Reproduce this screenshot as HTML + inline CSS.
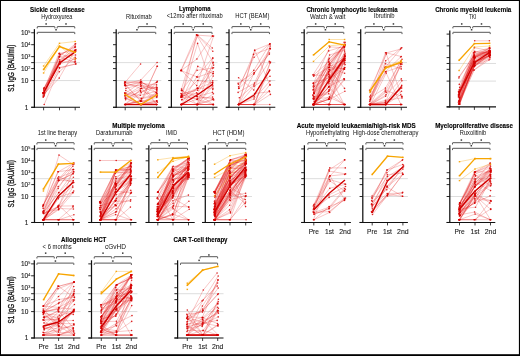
<!DOCTYPE html>
<html><head><meta charset="utf-8"><style>
html,body{margin:0;padding:0;background:#fff;}
body{width:520px;height:356px;overflow:hidden;font-family:"Liberation Sans",sans-serif;}
svg{display:block;will-change:transform;}
</style></head><body>
<svg width="520" height="356" viewBox="0 0 520 356" font-family="Liberation Sans, sans-serif">
<rect x="0" y="0" width="520" height="356" fill="#fff"/>
<line x1="34.40" y1="62.62" x2="80.00" y2="62.62" stroke="#d9d9d9" stroke-width="0.9"/>
<line x1="34.40" y1="80.55" x2="80.00" y2="80.55" stroke="#d9d9d9" stroke-width="0.9"/>
<path d="M43.2,97.2 L59.3,56.8 L74.5,62.0" fill="none" stroke="rgba(228,25,25,0.45)" stroke-width="0.55"/>
<path d="M43.3,96.5 L59.3,67.5 L75.5,64.0" fill="none" stroke="rgba(228,25,25,0.45)" stroke-width="0.55"/>
<path d="M43.1,95.1 L59.2,78.1 L75.1,50.2" fill="none" stroke="rgba(228,25,25,0.45)" stroke-width="0.55"/>
<path d="M44.2,104.5 L59.6,68.1 L75.9,63.9" fill="none" stroke="rgba(228,25,25,0.45)" stroke-width="0.55"/>
<path d="M44.2,96.0 L59.7,56.6 L75.5,55.0" fill="none" stroke="rgba(228,25,25,0.45)" stroke-width="0.55"/>
<path d="M43.7,93.4 L59.6,53.3 L75.2,60.0" fill="none" stroke="rgba(228,25,25,0.45)" stroke-width="0.55"/>
<path d="M44.3,92.6 L59.6,62.0 L75.4,61.9" fill="none" stroke="rgba(228,25,25,0.45)" stroke-width="0.55"/>
<path d="M44.2,94.9 L59.3,71.8 L75.2,57.2" fill="none" stroke="rgba(228,25,25,0.45)" stroke-width="0.55"/>
<path d="M43.5,93.3 L59.3,63.9 L75.6,50.5" fill="none" stroke="rgba(228,25,25,0.45)" stroke-width="0.55"/>
<path d="M43.2,92.7 L60.1,63.9 L75.8,58.5" fill="none" stroke="rgba(228,25,25,0.45)" stroke-width="0.55"/>
<path d="M43.0,92.9 L59.7,63.8 L74.7,50.2" fill="none" stroke="rgba(228,25,25,0.45)" stroke-width="0.55"/>
<path d="M43.7,90.7 L58.9,53.5 L75.5,50.4" fill="none" stroke="rgba(228,25,25,0.45)" stroke-width="0.55"/>
<path d="M43.2,92.7 L59.7,59.8 L75.9,49.5" fill="none" stroke="rgba(228,25,25,0.45)" stroke-width="0.55"/>
<path d="M43.8,89.3 L59.5,61.7 L75.7,51.5" fill="none" stroke="rgba(228,25,25,0.45)" stroke-width="0.55"/>
<path d="M42.9,93.2 L59.8,63.7 L74.9,51.3" fill="none" stroke="rgba(228,25,25,0.45)" stroke-width="0.55"/>
<path d="M43.7,92.9 L59.9,54.8 L75.2,46.1" fill="none" stroke="rgba(228,25,25,0.45)" stroke-width="0.55"/>
<path d="M44.1,88.0 L59.7,61.3 L75.6,43.7" fill="none" stroke="rgba(228,25,25,0.45)" stroke-width="0.55"/>
<path d="M43.7,88.7 L59.8,61.8 L75.4,47.1" fill="none" stroke="rgba(228,25,25,0.45)" stroke-width="0.55"/>
<path d="M44.2,87.8 L59.1,56.9 L75.1,44.1" fill="none" stroke="rgba(228,25,25,0.45)" stroke-width="0.55"/>
<path d="M43.9,93.4 L60.1,54.8 L74.7,47.3" fill="none" stroke="rgba(228,25,25,0.45)" stroke-width="0.55"/>
<path d="M43.60,66.00 L59.50,43.30 L75.20,41.50" fill="none" stroke="rgba(250,170,20,0.6)" stroke-width="0.6"/>
<path d="M43.60,73.00 L59.50,46.00 L75.20,59.00" fill="none" stroke="rgba(250,170,20,0.6)" stroke-width="0.6"/>
<circle cx="43.2" cy="97.2" r="0.8" fill="rgba(214,0,0,0.85)"/>
<circle cx="59.3" cy="56.8" r="0.8" fill="rgba(214,0,0,0.85)"/>
<circle cx="74.5" cy="62.0" r="0.8" fill="rgba(214,0,0,0.85)"/>
<circle cx="43.3" cy="96.5" r="0.8" fill="rgba(214,0,0,0.85)"/>
<circle cx="59.3" cy="67.5" r="0.8" fill="rgba(214,0,0,0.85)"/>
<circle cx="75.5" cy="64.0" r="0.8" fill="rgba(214,0,0,0.85)"/>
<circle cx="43.1" cy="95.1" r="0.8" fill="rgba(214,0,0,0.85)"/>
<circle cx="59.2" cy="78.1" r="0.8" fill="rgba(214,0,0,0.85)"/>
<circle cx="75.1" cy="50.2" r="0.8" fill="rgba(214,0,0,0.85)"/>
<circle cx="44.2" cy="104.5" r="0.8" fill="rgba(214,0,0,0.85)"/>
<circle cx="59.6" cy="68.1" r="0.8" fill="rgba(214,0,0,0.85)"/>
<circle cx="75.9" cy="63.9" r="0.8" fill="rgba(214,0,0,0.85)"/>
<circle cx="44.2" cy="96.0" r="0.8" fill="rgba(214,0,0,0.85)"/>
<circle cx="59.7" cy="56.6" r="0.8" fill="rgba(214,0,0,0.85)"/>
<circle cx="75.5" cy="55.0" r="0.8" fill="rgba(214,0,0,0.85)"/>
<circle cx="43.7" cy="93.4" r="0.8" fill="rgba(214,0,0,0.85)"/>
<circle cx="59.6" cy="53.3" r="0.8" fill="rgba(214,0,0,0.85)"/>
<circle cx="75.2" cy="60.0" r="0.8" fill="rgba(214,0,0,0.85)"/>
<circle cx="44.3" cy="92.6" r="0.8" fill="rgba(214,0,0,0.85)"/>
<circle cx="59.6" cy="62.0" r="0.8" fill="rgba(214,0,0,0.85)"/>
<circle cx="75.4" cy="61.9" r="0.8" fill="rgba(214,0,0,0.85)"/>
<circle cx="44.2" cy="94.9" r="0.8" fill="rgba(214,0,0,0.85)"/>
<circle cx="59.3" cy="71.8" r="0.8" fill="rgba(214,0,0,0.85)"/>
<circle cx="75.2" cy="57.2" r="0.8" fill="rgba(214,0,0,0.85)"/>
<circle cx="43.5" cy="93.3" r="0.8" fill="rgba(214,0,0,0.85)"/>
<circle cx="59.3" cy="63.9" r="0.8" fill="rgba(214,0,0,0.85)"/>
<circle cx="75.6" cy="50.5" r="0.8" fill="rgba(214,0,0,0.85)"/>
<circle cx="43.2" cy="92.7" r="0.8" fill="rgba(214,0,0,0.85)"/>
<circle cx="60.1" cy="63.9" r="0.8" fill="rgba(214,0,0,0.85)"/>
<circle cx="75.8" cy="58.5" r="0.8" fill="rgba(214,0,0,0.85)"/>
<circle cx="43.0" cy="92.9" r="0.8" fill="rgba(214,0,0,0.85)"/>
<circle cx="59.7" cy="63.8" r="0.8" fill="rgba(214,0,0,0.85)"/>
<circle cx="74.7" cy="50.2" r="0.8" fill="rgba(214,0,0,0.85)"/>
<circle cx="43.7" cy="90.7" r="0.8" fill="rgba(214,0,0,0.85)"/>
<circle cx="58.9" cy="53.5" r="0.8" fill="rgba(214,0,0,0.85)"/>
<circle cx="75.5" cy="50.4" r="0.8" fill="rgba(214,0,0,0.85)"/>
<circle cx="43.2" cy="92.7" r="0.8" fill="rgba(214,0,0,0.85)"/>
<circle cx="59.7" cy="59.8" r="0.8" fill="rgba(214,0,0,0.85)"/>
<circle cx="75.9" cy="49.5" r="0.8" fill="rgba(214,0,0,0.85)"/>
<circle cx="43.8" cy="89.3" r="0.8" fill="rgba(214,0,0,0.85)"/>
<circle cx="59.5" cy="61.7" r="0.8" fill="rgba(214,0,0,0.85)"/>
<circle cx="75.7" cy="51.5" r="0.8" fill="rgba(214,0,0,0.85)"/>
<circle cx="42.9" cy="93.2" r="0.8" fill="rgba(214,0,0,0.85)"/>
<circle cx="59.8" cy="63.7" r="0.8" fill="rgba(214,0,0,0.85)"/>
<circle cx="74.9" cy="51.3" r="0.8" fill="rgba(214,0,0,0.85)"/>
<circle cx="43.7" cy="92.9" r="0.8" fill="rgba(214,0,0,0.85)"/>
<circle cx="59.9" cy="54.8" r="0.8" fill="rgba(214,0,0,0.85)"/>
<circle cx="75.2" cy="46.1" r="0.8" fill="rgba(214,0,0,0.85)"/>
<circle cx="44.1" cy="88.0" r="0.8" fill="rgba(214,0,0,0.85)"/>
<circle cx="59.7" cy="61.3" r="0.8" fill="rgba(214,0,0,0.85)"/>
<circle cx="75.6" cy="43.7" r="0.8" fill="rgba(214,0,0,0.85)"/>
<circle cx="43.7" cy="88.7" r="0.8" fill="rgba(214,0,0,0.85)"/>
<circle cx="59.8" cy="61.8" r="0.8" fill="rgba(214,0,0,0.85)"/>
<circle cx="75.4" cy="47.1" r="0.8" fill="rgba(214,0,0,0.85)"/>
<circle cx="44.2" cy="87.8" r="0.8" fill="rgba(214,0,0,0.85)"/>
<circle cx="59.1" cy="56.9" r="0.8" fill="rgba(214,0,0,0.85)"/>
<circle cx="75.1" cy="44.1" r="0.8" fill="rgba(214,0,0,0.85)"/>
<circle cx="43.9" cy="93.4" r="0.8" fill="rgba(214,0,0,0.85)"/>
<circle cx="60.1" cy="54.8" r="0.8" fill="rgba(214,0,0,0.85)"/>
<circle cx="74.7" cy="47.3" r="0.8" fill="rgba(214,0,0,0.85)"/>
<rect x="42.85" y="65.30" width="1.5" height="1.4" fill="rgba(245,160,0,0.9)"/>
<rect x="58.75" y="42.60" width="1.5" height="1.4" fill="rgba(245,160,0,0.9)"/>
<rect x="74.45" y="40.80" width="1.5" height="1.4" fill="rgba(245,160,0,0.9)"/>
<rect x="42.85" y="72.30" width="1.5" height="1.4" fill="rgba(245,160,0,0.9)"/>
<rect x="58.75" y="45.30" width="1.5" height="1.4" fill="rgba(245,160,0,0.9)"/>
<rect x="74.45" y="58.30" width="1.5" height="1.4" fill="rgba(245,160,0,0.9)"/>
<path d="M43.60,93.00 L59.50,63.00 L75.20,52.00" fill="none" stroke="#d20000" stroke-width="1.35" stroke-linejoin="round"/>
<path d="M43.60,69.50 L59.50,46.50 L75.20,52.30" fill="none" stroke="#f7a500" stroke-width="1.35" stroke-linejoin="round"/>
<rect x="42.80" y="68.75" width="1.6" height="1.5" fill="#f5a000"/>
<rect x="58.70" y="45.75" width="1.6" height="1.5" fill="#f5a000"/>
<rect x="74.40" y="51.55" width="1.6" height="1.5" fill="#f5a000"/>
<line x1="34.40" y1="29.15" x2="34.40" y2="107.90" stroke="#111" stroke-width="1.25"/>
<line x1="31.20" y1="32.75" x2="34.40" y2="32.75" stroke="#111" stroke-width="0.9"/>
<line x1="31.20" y1="44.70" x2="34.40" y2="44.70" stroke="#111" stroke-width="0.9"/>
<line x1="31.20" y1="56.65" x2="34.40" y2="56.65" stroke="#111" stroke-width="0.9"/>
<line x1="31.20" y1="62.62" x2="34.40" y2="62.62" stroke="#111" stroke-width="0.9"/>
<line x1="31.20" y1="68.60" x2="34.40" y2="68.60" stroke="#111" stroke-width="0.9"/>
<line x1="31.20" y1="80.55" x2="34.40" y2="80.55" stroke="#111" stroke-width="0.9"/>
<line x1="31.20" y1="107.30" x2="34.40" y2="107.30" stroke="#111" stroke-width="0.9"/>
<line x1="31.20" y1="107.30" x2="80.00" y2="107.30" stroke="#111" stroke-width="1.1"/>
<line x1="43.60" y1="107.30" x2="43.60" y2="110.30" stroke="#111" stroke-width="0.8"/>
<line x1="59.50" y1="107.30" x2="59.50" y2="110.30" stroke="#111" stroke-width="0.8"/>
<line x1="75.20" y1="107.30" x2="75.20" y2="110.30" stroke="#111" stroke-width="0.8"/>
<path d="M37.25,28.40 V27.00 Q37.25,26.60 37.65,26.60 H54.50 Q54.90,26.60 54.90,27.00 V28.40" fill="none" stroke="#383838" stroke-width="0.85"/>
<path d="M57.15,28.40 V27.00 Q57.15,26.60 57.55,26.60 H74.35 Q74.75,26.60 74.75,27.00 V28.40" fill="none" stroke="#383838" stroke-width="0.85"/>
<rect x="45.38" y="23.20" width="1.5" height="1.5" fill="#3a3a3a"/>
<rect x="65.25" y="23.20" width="1.5" height="1.5" fill="#3a3a3a"/>
<path d="M37.25,34.10 V32.70 Q37.25,32.30 37.65,32.30 H74.35 Q74.75,32.30 74.75,32.70 V34.10" fill="none" stroke="#383838" stroke-width="0.85"/>
<rect x="55.30" y="29.00" width="1.5" height="1.5" fill="#3a3a3a"/>
<line x1="116.20" y1="62.62" x2="161.30" y2="62.62" stroke="#d9d9d9" stroke-width="0.9"/>
<line x1="116.20" y1="80.55" x2="161.30" y2="80.55" stroke="#d9d9d9" stroke-width="0.9"/>
<path d="M125.5,95.8 L141.2,104.5 L156.7,104.5" fill="none" stroke="rgba(228,25,25,0.45)" stroke-width="0.55"/>
<path d="M125.5,104.5 L141.6,104.5 L156.4,104.5" fill="none" stroke="rgba(228,25,25,0.45)" stroke-width="0.55"/>
<path d="M125.4,104.5 L141.1,104.5 L157.4,102.3" fill="none" stroke="rgba(228,25,25,0.45)" stroke-width="0.55"/>
<path d="M125.6,98.4 L141.6,104.5 L156.8,100.7" fill="none" stroke="rgba(228,25,25,0.45)" stroke-width="0.55"/>
<path d="M124.7,92.7 L140.5,104.5 L156.9,101.3" fill="none" stroke="rgba(228,25,25,0.45)" stroke-width="0.55"/>
<path d="M124.6,104.5 L140.6,101.3 L156.5,104.5" fill="none" stroke="rgba(228,25,25,0.45)" stroke-width="0.55"/>
<path d="M125.9,104.5 L140.5,101.0 L156.7,100.9" fill="none" stroke="rgba(228,25,25,0.45)" stroke-width="0.55"/>
<path d="M125.1,104.5 L141.2,92.7 L157.3,81.4" fill="none" stroke="rgba(228,25,25,0.45)" stroke-width="0.55"/>
<path d="M125.5,104.5 L140.3,104.5 L156.4,94.1" fill="none" stroke="rgba(228,25,25,0.45)" stroke-width="0.55"/>
<path d="M125.7,98.0 L140.3,104.5 L156.2,92.4" fill="none" stroke="rgba(228,25,25,0.45)" stroke-width="0.55"/>
<path d="M124.6,83.8 L140.7,101.4 L156.8,97.4" fill="none" stroke="rgba(228,25,25,0.45)" stroke-width="0.55"/>
<path d="M125.8,93.1 L140.7,82.5 L156.6,104.5" fill="none" stroke="rgba(228,25,25,0.45)" stroke-width="0.55"/>
<path d="M125.1,98.1 L140.6,91.6 L156.4,87.1" fill="none" stroke="rgba(228,25,25,0.45)" stroke-width="0.55"/>
<path d="M125.6,99.8 L140.4,90.4 L156.8,96.6" fill="none" stroke="rgba(228,25,25,0.45)" stroke-width="0.55"/>
<path d="M124.8,104.5 L141.1,100.2 L157.4,66.2" fill="none" stroke="rgba(228,25,25,0.45)" stroke-width="0.55"/>
<path d="M125.7,104.5 L140.3,100.8 L156.9,82.2" fill="none" stroke="rgba(228,25,25,0.45)" stroke-width="0.55"/>
<path d="M124.8,93.5 L140.3,95.2 L157.0,91.1" fill="none" stroke="rgba(228,25,25,0.45)" stroke-width="0.55"/>
<path d="M124.7,85.4 L141.2,85.8 L156.7,89.5" fill="none" stroke="rgba(228,25,25,0.45)" stroke-width="0.55"/>
<path d="M125.8,90.5 L141.5,98.2 L157.3,94.0" fill="none" stroke="rgba(228,25,25,0.45)" stroke-width="0.55"/>
<path d="M125.0,104.5 L141.5,88.3 L156.9,104.5" fill="none" stroke="rgba(228,25,25,0.45)" stroke-width="0.55"/>
<path d="M125.0,93.5 L141.3,98.7 L157.3,95.8" fill="none" stroke="rgba(228,25,25,0.45)" stroke-width="0.55"/>
<path d="M125.5,85.9 L141.6,81.8 L156.4,92.8" fill="none" stroke="rgba(228,25,25,0.45)" stroke-width="0.55"/>
<path d="M125.5,95.6 L140.8,86.2 L156.9,93.1" fill="none" stroke="rgba(228,25,25,0.45)" stroke-width="0.55"/>
<path d="M125.9,88.4 L140.6,84.6 L156.9,89.0" fill="none" stroke="rgba(228,25,25,0.45)" stroke-width="0.55"/>
<path d="M125.2,82.2 L140.6,81.8 L156.7,90.1" fill="none" stroke="rgba(228,25,25,0.45)" stroke-width="0.55"/>
<path d="M124.8,95.9 L141.5,88.5 L156.4,82.5" fill="none" stroke="rgba(228,25,25,0.45)" stroke-width="0.55"/>
<path d="M125.3,84.9 L141.6,101.3 L157.0,66.3" fill="none" stroke="rgba(228,25,25,0.45)" stroke-width="0.55"/>
<path d="M125.4,85.3 L140.9,83.2 L156.6,84.9" fill="none" stroke="rgba(228,25,25,0.45)" stroke-width="0.55"/>
<path d="M124.6,82.0 L140.3,82.4 L156.9,88.2" fill="none" stroke="rgba(228,25,25,0.45)" stroke-width="0.55"/>
<path d="M124.8,82.2 L140.5,88.5 L157.1,87.5" fill="none" stroke="rgba(228,25,25,0.45)" stroke-width="0.55"/>
<path d="M125.4,82.0 L140.6,64.0" fill="none" stroke="rgba(228,25,25,0.45)" stroke-width="0.55"/>
<path d="M125.0,84.0 L140.8,80.0 L157.1,62.5" fill="none" stroke="rgba(228,25,25,0.45)" stroke-width="0.55"/>
<circle cx="125.5" cy="95.8" r="0.8" fill="rgba(214,0,0,0.85)"/>
<circle cx="141.2" cy="104.5" r="0.8" fill="rgba(214,0,0,0.85)"/>
<circle cx="156.7" cy="104.5" r="0.8" fill="rgba(214,0,0,0.85)"/>
<circle cx="125.5" cy="104.5" r="0.8" fill="rgba(214,0,0,0.85)"/>
<circle cx="141.6" cy="104.5" r="0.8" fill="rgba(214,0,0,0.85)"/>
<circle cx="156.4" cy="104.5" r="0.8" fill="rgba(214,0,0,0.85)"/>
<circle cx="125.4" cy="104.5" r="0.8" fill="rgba(214,0,0,0.85)"/>
<circle cx="141.1" cy="104.5" r="0.8" fill="rgba(214,0,0,0.85)"/>
<circle cx="157.4" cy="102.3" r="0.8" fill="rgba(214,0,0,0.85)"/>
<circle cx="125.6" cy="98.4" r="0.8" fill="rgba(214,0,0,0.85)"/>
<circle cx="141.6" cy="104.5" r="0.8" fill="rgba(214,0,0,0.85)"/>
<circle cx="156.8" cy="100.7" r="0.8" fill="rgba(214,0,0,0.85)"/>
<circle cx="124.7" cy="92.7" r="0.8" fill="rgba(214,0,0,0.85)"/>
<circle cx="140.5" cy="104.5" r="0.8" fill="rgba(214,0,0,0.85)"/>
<circle cx="156.9" cy="101.3" r="0.8" fill="rgba(214,0,0,0.85)"/>
<circle cx="124.6" cy="104.5" r="0.8" fill="rgba(214,0,0,0.85)"/>
<circle cx="140.6" cy="101.3" r="0.8" fill="rgba(214,0,0,0.85)"/>
<circle cx="156.5" cy="104.5" r="0.8" fill="rgba(214,0,0,0.85)"/>
<circle cx="125.9" cy="104.5" r="0.8" fill="rgba(214,0,0,0.85)"/>
<circle cx="140.5" cy="101.0" r="0.8" fill="rgba(214,0,0,0.85)"/>
<circle cx="156.7" cy="100.9" r="0.8" fill="rgba(214,0,0,0.85)"/>
<circle cx="125.1" cy="104.5" r="0.8" fill="rgba(214,0,0,0.85)"/>
<circle cx="141.2" cy="92.7" r="0.8" fill="rgba(214,0,0,0.85)"/>
<circle cx="157.3" cy="81.4" r="0.8" fill="rgba(214,0,0,0.85)"/>
<circle cx="125.5" cy="104.5" r="0.8" fill="rgba(214,0,0,0.85)"/>
<circle cx="140.3" cy="104.5" r="0.8" fill="rgba(214,0,0,0.85)"/>
<circle cx="156.4" cy="94.1" r="0.8" fill="rgba(214,0,0,0.85)"/>
<circle cx="125.7" cy="98.0" r="0.8" fill="rgba(214,0,0,0.85)"/>
<circle cx="140.3" cy="104.5" r="0.8" fill="rgba(214,0,0,0.85)"/>
<circle cx="156.2" cy="92.4" r="0.8" fill="rgba(214,0,0,0.85)"/>
<circle cx="124.6" cy="83.8" r="0.8" fill="rgba(214,0,0,0.85)"/>
<circle cx="140.7" cy="101.4" r="0.8" fill="rgba(214,0,0,0.85)"/>
<circle cx="156.8" cy="97.4" r="0.8" fill="rgba(214,0,0,0.85)"/>
<circle cx="125.8" cy="93.1" r="0.8" fill="rgba(214,0,0,0.85)"/>
<circle cx="140.7" cy="82.5" r="0.8" fill="rgba(214,0,0,0.85)"/>
<circle cx="156.6" cy="104.5" r="0.8" fill="rgba(214,0,0,0.85)"/>
<circle cx="125.1" cy="98.1" r="0.8" fill="rgba(214,0,0,0.85)"/>
<circle cx="140.6" cy="91.6" r="0.8" fill="rgba(214,0,0,0.85)"/>
<circle cx="156.4" cy="87.1" r="0.8" fill="rgba(214,0,0,0.85)"/>
<circle cx="125.6" cy="99.8" r="0.8" fill="rgba(214,0,0,0.85)"/>
<circle cx="140.4" cy="90.4" r="0.8" fill="rgba(214,0,0,0.85)"/>
<circle cx="156.8" cy="96.6" r="0.8" fill="rgba(214,0,0,0.85)"/>
<circle cx="124.8" cy="104.5" r="0.8" fill="rgba(214,0,0,0.85)"/>
<circle cx="141.1" cy="100.2" r="0.8" fill="rgba(214,0,0,0.85)"/>
<circle cx="157.4" cy="66.2" r="0.8" fill="rgba(214,0,0,0.85)"/>
<circle cx="125.7" cy="104.5" r="0.8" fill="rgba(214,0,0,0.85)"/>
<circle cx="140.3" cy="100.8" r="0.8" fill="rgba(214,0,0,0.85)"/>
<circle cx="156.9" cy="82.2" r="0.8" fill="rgba(214,0,0,0.85)"/>
<circle cx="124.8" cy="93.5" r="0.8" fill="rgba(214,0,0,0.85)"/>
<circle cx="140.3" cy="95.2" r="0.8" fill="rgba(214,0,0,0.85)"/>
<circle cx="157.0" cy="91.1" r="0.8" fill="rgba(214,0,0,0.85)"/>
<circle cx="124.7" cy="85.4" r="0.8" fill="rgba(214,0,0,0.85)"/>
<circle cx="141.2" cy="85.8" r="0.8" fill="rgba(214,0,0,0.85)"/>
<circle cx="156.7" cy="89.5" r="0.8" fill="rgba(214,0,0,0.85)"/>
<circle cx="125.8" cy="90.5" r="0.8" fill="rgba(214,0,0,0.85)"/>
<circle cx="141.5" cy="98.2" r="0.8" fill="rgba(214,0,0,0.85)"/>
<circle cx="157.3" cy="94.0" r="0.8" fill="rgba(214,0,0,0.85)"/>
<circle cx="125.0" cy="104.5" r="0.8" fill="rgba(214,0,0,0.85)"/>
<circle cx="141.5" cy="88.3" r="0.8" fill="rgba(214,0,0,0.85)"/>
<circle cx="156.9" cy="104.5" r="0.8" fill="rgba(214,0,0,0.85)"/>
<circle cx="125.0" cy="93.5" r="0.8" fill="rgba(214,0,0,0.85)"/>
<circle cx="141.3" cy="98.7" r="0.8" fill="rgba(214,0,0,0.85)"/>
<circle cx="157.3" cy="95.8" r="0.8" fill="rgba(214,0,0,0.85)"/>
<circle cx="125.5" cy="85.9" r="0.8" fill="rgba(214,0,0,0.85)"/>
<circle cx="141.6" cy="81.8" r="0.8" fill="rgba(214,0,0,0.85)"/>
<circle cx="156.4" cy="92.8" r="0.8" fill="rgba(214,0,0,0.85)"/>
<circle cx="125.5" cy="95.6" r="0.8" fill="rgba(214,0,0,0.85)"/>
<circle cx="140.8" cy="86.2" r="0.8" fill="rgba(214,0,0,0.85)"/>
<circle cx="156.9" cy="93.1" r="0.8" fill="rgba(214,0,0,0.85)"/>
<circle cx="125.9" cy="88.4" r="0.8" fill="rgba(214,0,0,0.85)"/>
<circle cx="140.6" cy="84.6" r="0.8" fill="rgba(214,0,0,0.85)"/>
<circle cx="156.9" cy="89.0" r="0.8" fill="rgba(214,0,0,0.85)"/>
<circle cx="125.2" cy="82.2" r="0.8" fill="rgba(214,0,0,0.85)"/>
<circle cx="140.6" cy="81.8" r="0.8" fill="rgba(214,0,0,0.85)"/>
<circle cx="156.7" cy="90.1" r="0.8" fill="rgba(214,0,0,0.85)"/>
<circle cx="124.8" cy="95.9" r="0.8" fill="rgba(214,0,0,0.85)"/>
<circle cx="141.5" cy="88.5" r="0.8" fill="rgba(214,0,0,0.85)"/>
<circle cx="156.4" cy="82.5" r="0.8" fill="rgba(214,0,0,0.85)"/>
<circle cx="125.3" cy="84.9" r="0.8" fill="rgba(214,0,0,0.85)"/>
<circle cx="141.6" cy="101.3" r="0.8" fill="rgba(214,0,0,0.85)"/>
<circle cx="157.0" cy="66.3" r="0.8" fill="rgba(214,0,0,0.85)"/>
<circle cx="125.4" cy="85.3" r="0.8" fill="rgba(214,0,0,0.85)"/>
<circle cx="140.9" cy="83.2" r="0.8" fill="rgba(214,0,0,0.85)"/>
<circle cx="156.6" cy="84.9" r="0.8" fill="rgba(214,0,0,0.85)"/>
<circle cx="124.6" cy="82.0" r="0.8" fill="rgba(214,0,0,0.85)"/>
<circle cx="140.3" cy="82.4" r="0.8" fill="rgba(214,0,0,0.85)"/>
<circle cx="156.9" cy="88.2" r="0.8" fill="rgba(214,0,0,0.85)"/>
<circle cx="124.8" cy="82.2" r="0.8" fill="rgba(214,0,0,0.85)"/>
<circle cx="140.5" cy="88.5" r="0.8" fill="rgba(214,0,0,0.85)"/>
<circle cx="157.1" cy="87.5" r="0.8" fill="rgba(214,0,0,0.85)"/>
<circle cx="125.4" cy="82.0" r="0.8" fill="rgba(214,0,0,0.85)"/>
<circle cx="140.6" cy="64.0" r="0.8" fill="rgba(214,0,0,0.85)"/>
<circle cx="125.0" cy="84.0" r="0.8" fill="rgba(214,0,0,0.85)"/>
<circle cx="140.8" cy="80.0" r="0.8" fill="rgba(214,0,0,0.85)"/>
<circle cx="157.1" cy="62.5" r="0.8" fill="rgba(214,0,0,0.85)"/>
<path d="M125.20,104.50 L141.00,104.50 L156.70,104.50" fill="none" stroke="#d20000" stroke-width="1.35" stroke-linejoin="round"/>
<path d="M125.20,94.50 L141.00,104.50 L156.70,95.00" fill="none" stroke="#f7a500" stroke-width="1.35" stroke-linejoin="round"/>
<rect x="124.40" y="93.75" width="1.6" height="1.5" fill="#f5a000"/>
<rect x="140.20" y="103.75" width="1.6" height="1.5" fill="#f5a000"/>
<rect x="155.90" y="94.25" width="1.6" height="1.5" fill="#f5a000"/>
<line x1="116.20" y1="29.15" x2="116.20" y2="107.90" stroke="#111" stroke-width="1.25"/>
<line x1="113.00" y1="32.75" x2="116.20" y2="32.75" stroke="#111" stroke-width="0.9"/>
<line x1="113.00" y1="44.70" x2="116.20" y2="44.70" stroke="#111" stroke-width="0.9"/>
<line x1="113.00" y1="56.65" x2="116.20" y2="56.65" stroke="#111" stroke-width="0.9"/>
<line x1="113.00" y1="62.62" x2="116.20" y2="62.62" stroke="#111" stroke-width="0.9"/>
<line x1="113.00" y1="68.60" x2="116.20" y2="68.60" stroke="#111" stroke-width="0.9"/>
<line x1="113.00" y1="80.55" x2="116.20" y2="80.55" stroke="#111" stroke-width="0.9"/>
<line x1="113.00" y1="107.30" x2="116.20" y2="107.30" stroke="#111" stroke-width="0.9"/>
<line x1="113.00" y1="107.30" x2="161.30" y2="107.30" stroke="#111" stroke-width="1.1"/>
<line x1="125.20" y1="107.30" x2="125.20" y2="110.30" stroke="#111" stroke-width="0.8"/>
<line x1="141.00" y1="107.30" x2="141.00" y2="110.30" stroke="#111" stroke-width="0.8"/>
<line x1="156.70" y1="107.30" x2="156.70" y2="110.30" stroke="#111" stroke-width="0.8"/>
<path d="M138.25,28.40 V27.00 Q138.25,26.60 138.65,26.60 H155.35 Q155.75,26.60 155.75,27.00 V28.40" fill="none" stroke="#383838" stroke-width="0.85"/>
<rect x="146.30" y="23.20" width="1.5" height="1.5" fill="#3a3a3a"/>
<path d="M118.25,34.10 V32.70 Q118.25,32.30 118.65,32.30 H155.35 Q155.75,32.30 155.75,32.70 V34.10" fill="none" stroke="#383838" stroke-width="0.85"/>
<rect x="136.20" y="29.00" width="1.5" height="1.5" fill="#3a3a3a"/>
<line x1="171.40" y1="62.62" x2="217.50" y2="62.62" stroke="#d9d9d9" stroke-width="0.9"/>
<line x1="171.40" y1="80.55" x2="217.50" y2="80.55" stroke="#d9d9d9" stroke-width="0.9"/>
<path d="M182.0,90.3 L196.9,104.5 L213.2,104.5" fill="none" stroke="rgba(228,25,25,0.45)" stroke-width="0.55"/>
<path d="M181.0,104.5 L197.1,104.5 L212.4,99.3" fill="none" stroke="rgba(228,25,25,0.45)" stroke-width="0.55"/>
<path d="M181.0,104.5 L197.5,104.5 L212.8,104.5" fill="none" stroke="rgba(228,25,25,0.45)" stroke-width="0.55"/>
<path d="M181.2,104.5 L196.9,99.4 L213.2,104.5" fill="none" stroke="rgba(228,25,25,0.45)" stroke-width="0.55"/>
<path d="M180.9,104.5 L197.3,104.5 L213.5,104.5" fill="none" stroke="rgba(228,25,25,0.45)" stroke-width="0.55"/>
<path d="M181.4,104.5 L196.8,104.5 L213.2,104.5" fill="none" stroke="rgba(228,25,25,0.45)" stroke-width="0.55"/>
<path d="M181.3,104.5 L196.7,104.5 L213.7,99.9" fill="none" stroke="rgba(228,25,25,0.45)" stroke-width="0.55"/>
<path d="M182.1,104.5 L197.3,104.5 L213.1,104.5" fill="none" stroke="rgba(228,25,25,0.45)" stroke-width="0.55"/>
<path d="M181.1,97.5 L197.5,98.3 L212.6,97.1" fill="none" stroke="rgba(228,25,25,0.45)" stroke-width="0.55"/>
<path d="M181.6,104.5 L197.4,104.5 L213.4,93.8" fill="none" stroke="rgba(228,25,25,0.45)" stroke-width="0.55"/>
<path d="M181.8,104.5 L197.8,104.5 L212.8,85.9" fill="none" stroke="rgba(228,25,25,0.45)" stroke-width="0.55"/>
<path d="M181.9,95.3 L197.4,99.5 L212.7,80.8" fill="none" stroke="rgba(228,25,25,0.45)" stroke-width="0.55"/>
<path d="M182.0,99.8 L196.6,92.7 L213.1,104.5" fill="none" stroke="rgba(228,25,25,0.45)" stroke-width="0.55"/>
<path d="M181.0,97.2 L197.8,88.6 L212.8,82.2" fill="none" stroke="rgba(228,25,25,0.45)" stroke-width="0.55"/>
<path d="M180.9,96.5 L196.9,104.5 L212.9,63.1" fill="none" stroke="rgba(228,25,25,0.45)" stroke-width="0.55"/>
<path d="M181.1,104.5 L197.7,104.5 L212.7,83.2" fill="none" stroke="rgba(228,25,25,0.45)" stroke-width="0.55"/>
<path d="M181.7,104.5 L196.9,104.5 L213.2,76.0" fill="none" stroke="rgba(228,25,25,0.45)" stroke-width="0.55"/>
<path d="M181.5,95.4 L197.2,96.4 L212.5,92.4" fill="none" stroke="rgba(228,25,25,0.45)" stroke-width="0.55"/>
<path d="M181.2,95.2 L197.4,88.1 L213.3,73.6" fill="none" stroke="rgba(228,25,25,0.45)" stroke-width="0.55"/>
<path d="M181.6,104.5 L197.1,88.3 L213.0,88.2" fill="none" stroke="rgba(228,25,25,0.45)" stroke-width="0.55"/>
<path d="M181.0,93.5 L197.7,90.3 L212.8,58.5" fill="none" stroke="rgba(228,25,25,0.45)" stroke-width="0.55"/>
<path d="M181.7,96.6 L197.6,43.4 L212.8,89.6" fill="none" stroke="rgba(228,25,25,0.45)" stroke-width="0.55"/>
<path d="M181.4,104.5 L196.7,76.9 L212.8,57.7" fill="none" stroke="rgba(228,25,25,0.45)" stroke-width="0.55"/>
<path d="M181.8,95.3 L197.7,80.5 L212.4,82.6" fill="none" stroke="rgba(228,25,25,0.45)" stroke-width="0.55"/>
<path d="M182.2,96.7 L197.8,88.5 L213.6,65.1" fill="none" stroke="rgba(228,25,25,0.45)" stroke-width="0.55"/>
<path d="M181.3,70.4 L196.7,85.6 L213.6,36.1" fill="none" stroke="rgba(228,25,25,0.45)" stroke-width="0.55"/>
<path d="M181.6,70.8 L197.7,77.1 L213.3,71.7" fill="none" stroke="rgba(228,25,25,0.45)" stroke-width="0.55"/>
<path d="M181.6,94.0 L197.2,93.9 L213.5,67.7" fill="none" stroke="rgba(228,25,25,0.45)" stroke-width="0.55"/>
<path d="M181.9,90.8 L196.7,96.5 L213.3,98.8" fill="none" stroke="rgba(228,25,25,0.45)" stroke-width="0.55"/>
<path d="M181.7,99.7 L197.8,66.4 L212.9,73.6" fill="none" stroke="rgba(228,25,25,0.45)" stroke-width="0.55"/>
<path d="M181.5,97.0 L196.7,34.9 L212.8,51.3" fill="none" stroke="rgba(228,25,25,0.45)" stroke-width="0.55"/>
<path d="M181.4,90.5 L197.1,70.3 L212.5,68.1" fill="none" stroke="rgba(228,25,25,0.45)" stroke-width="0.55"/>
<path d="M181.5,89.1 L197.6,35.2 L212.3,48.0" fill="none" stroke="rgba(228,25,25,0.45)" stroke-width="0.55"/>
<path d="M181.0,70.3 L196.5,34.9 L213.2,62.4" fill="none" stroke="rgba(228,25,25,0.45)" stroke-width="0.55"/>
<path d="M181.3,70.3 L197.9,35.2 L212.6,36.2" fill="none" stroke="rgba(228,25,25,0.45)" stroke-width="0.55"/>
<path d="M180.8,70.8 L196.9,59.0 L212.4,35.9" fill="none" stroke="rgba(228,25,25,0.45)" stroke-width="0.55"/>
<circle cx="182.0" cy="90.3" r="0.8" fill="rgba(214,0,0,0.85)"/>
<circle cx="196.9" cy="104.5" r="0.8" fill="rgba(214,0,0,0.85)"/>
<circle cx="213.2" cy="104.5" r="0.8" fill="rgba(214,0,0,0.85)"/>
<circle cx="181.0" cy="104.5" r="0.8" fill="rgba(214,0,0,0.85)"/>
<circle cx="197.1" cy="104.5" r="0.8" fill="rgba(214,0,0,0.85)"/>
<circle cx="212.4" cy="99.3" r="0.8" fill="rgba(214,0,0,0.85)"/>
<circle cx="181.0" cy="104.5" r="0.8" fill="rgba(214,0,0,0.85)"/>
<circle cx="197.5" cy="104.5" r="0.8" fill="rgba(214,0,0,0.85)"/>
<circle cx="212.8" cy="104.5" r="0.8" fill="rgba(214,0,0,0.85)"/>
<circle cx="181.2" cy="104.5" r="0.8" fill="rgba(214,0,0,0.85)"/>
<circle cx="196.9" cy="99.4" r="0.8" fill="rgba(214,0,0,0.85)"/>
<circle cx="213.2" cy="104.5" r="0.8" fill="rgba(214,0,0,0.85)"/>
<circle cx="180.9" cy="104.5" r="0.8" fill="rgba(214,0,0,0.85)"/>
<circle cx="197.3" cy="104.5" r="0.8" fill="rgba(214,0,0,0.85)"/>
<circle cx="213.5" cy="104.5" r="0.8" fill="rgba(214,0,0,0.85)"/>
<circle cx="181.4" cy="104.5" r="0.8" fill="rgba(214,0,0,0.85)"/>
<circle cx="196.8" cy="104.5" r="0.8" fill="rgba(214,0,0,0.85)"/>
<circle cx="213.2" cy="104.5" r="0.8" fill="rgba(214,0,0,0.85)"/>
<circle cx="181.3" cy="104.5" r="0.8" fill="rgba(214,0,0,0.85)"/>
<circle cx="196.7" cy="104.5" r="0.8" fill="rgba(214,0,0,0.85)"/>
<circle cx="213.7" cy="99.9" r="0.8" fill="rgba(214,0,0,0.85)"/>
<circle cx="182.1" cy="104.5" r="0.8" fill="rgba(214,0,0,0.85)"/>
<circle cx="197.3" cy="104.5" r="0.8" fill="rgba(214,0,0,0.85)"/>
<circle cx="213.1" cy="104.5" r="0.8" fill="rgba(214,0,0,0.85)"/>
<circle cx="181.1" cy="97.5" r="0.8" fill="rgba(214,0,0,0.85)"/>
<circle cx="197.5" cy="98.3" r="0.8" fill="rgba(214,0,0,0.85)"/>
<circle cx="212.6" cy="97.1" r="0.8" fill="rgba(214,0,0,0.85)"/>
<circle cx="181.6" cy="104.5" r="0.8" fill="rgba(214,0,0,0.85)"/>
<circle cx="197.4" cy="104.5" r="0.8" fill="rgba(214,0,0,0.85)"/>
<circle cx="213.4" cy="93.8" r="0.8" fill="rgba(214,0,0,0.85)"/>
<circle cx="181.8" cy="104.5" r="0.8" fill="rgba(214,0,0,0.85)"/>
<circle cx="197.8" cy="104.5" r="0.8" fill="rgba(214,0,0,0.85)"/>
<circle cx="212.8" cy="85.9" r="0.8" fill="rgba(214,0,0,0.85)"/>
<circle cx="181.9" cy="95.3" r="0.8" fill="rgba(214,0,0,0.85)"/>
<circle cx="197.4" cy="99.5" r="0.8" fill="rgba(214,0,0,0.85)"/>
<circle cx="212.7" cy="80.8" r="0.8" fill="rgba(214,0,0,0.85)"/>
<circle cx="182.0" cy="99.8" r="0.8" fill="rgba(214,0,0,0.85)"/>
<circle cx="196.6" cy="92.7" r="0.8" fill="rgba(214,0,0,0.85)"/>
<circle cx="213.1" cy="104.5" r="0.8" fill="rgba(214,0,0,0.85)"/>
<circle cx="181.0" cy="97.2" r="0.8" fill="rgba(214,0,0,0.85)"/>
<circle cx="197.8" cy="88.6" r="0.8" fill="rgba(214,0,0,0.85)"/>
<circle cx="212.8" cy="82.2" r="0.8" fill="rgba(214,0,0,0.85)"/>
<circle cx="180.9" cy="96.5" r="0.8" fill="rgba(214,0,0,0.85)"/>
<circle cx="196.9" cy="104.5" r="0.8" fill="rgba(214,0,0,0.85)"/>
<circle cx="212.9" cy="63.1" r="0.8" fill="rgba(214,0,0,0.85)"/>
<circle cx="181.1" cy="104.5" r="0.8" fill="rgba(214,0,0,0.85)"/>
<circle cx="197.7" cy="104.5" r="0.8" fill="rgba(214,0,0,0.85)"/>
<circle cx="212.7" cy="83.2" r="0.8" fill="rgba(214,0,0,0.85)"/>
<circle cx="181.7" cy="104.5" r="0.8" fill="rgba(214,0,0,0.85)"/>
<circle cx="196.9" cy="104.5" r="0.8" fill="rgba(214,0,0,0.85)"/>
<circle cx="213.2" cy="76.0" r="0.8" fill="rgba(214,0,0,0.85)"/>
<circle cx="181.5" cy="95.4" r="0.8" fill="rgba(214,0,0,0.85)"/>
<circle cx="197.2" cy="96.4" r="0.8" fill="rgba(214,0,0,0.85)"/>
<circle cx="212.5" cy="92.4" r="0.8" fill="rgba(214,0,0,0.85)"/>
<circle cx="181.2" cy="95.2" r="0.8" fill="rgba(214,0,0,0.85)"/>
<circle cx="197.4" cy="88.1" r="0.8" fill="rgba(214,0,0,0.85)"/>
<circle cx="213.3" cy="73.6" r="0.8" fill="rgba(214,0,0,0.85)"/>
<circle cx="181.6" cy="104.5" r="0.8" fill="rgba(214,0,0,0.85)"/>
<circle cx="197.1" cy="88.3" r="0.8" fill="rgba(214,0,0,0.85)"/>
<circle cx="213.0" cy="88.2" r="0.8" fill="rgba(214,0,0,0.85)"/>
<circle cx="181.0" cy="93.5" r="0.8" fill="rgba(214,0,0,0.85)"/>
<circle cx="197.7" cy="90.3" r="0.8" fill="rgba(214,0,0,0.85)"/>
<circle cx="212.8" cy="58.5" r="0.8" fill="rgba(214,0,0,0.85)"/>
<circle cx="181.7" cy="96.6" r="0.8" fill="rgba(214,0,0,0.85)"/>
<circle cx="197.6" cy="43.4" r="0.8" fill="rgba(214,0,0,0.85)"/>
<circle cx="212.8" cy="89.6" r="0.8" fill="rgba(214,0,0,0.85)"/>
<circle cx="181.4" cy="104.5" r="0.8" fill="rgba(214,0,0,0.85)"/>
<circle cx="196.7" cy="76.9" r="0.8" fill="rgba(214,0,0,0.85)"/>
<circle cx="212.8" cy="57.7" r="0.8" fill="rgba(214,0,0,0.85)"/>
<circle cx="181.8" cy="95.3" r="0.8" fill="rgba(214,0,0,0.85)"/>
<circle cx="197.7" cy="80.5" r="0.8" fill="rgba(214,0,0,0.85)"/>
<circle cx="212.4" cy="82.6" r="0.8" fill="rgba(214,0,0,0.85)"/>
<circle cx="182.2" cy="96.7" r="0.8" fill="rgba(214,0,0,0.85)"/>
<circle cx="197.8" cy="88.5" r="0.8" fill="rgba(214,0,0,0.85)"/>
<circle cx="213.6" cy="65.1" r="0.8" fill="rgba(214,0,0,0.85)"/>
<circle cx="181.3" cy="70.4" r="0.8" fill="rgba(214,0,0,0.85)"/>
<circle cx="196.7" cy="85.6" r="0.8" fill="rgba(214,0,0,0.85)"/>
<circle cx="213.6" cy="36.1" r="0.8" fill="rgba(214,0,0,0.85)"/>
<circle cx="181.6" cy="70.8" r="0.8" fill="rgba(214,0,0,0.85)"/>
<circle cx="197.7" cy="77.1" r="0.8" fill="rgba(214,0,0,0.85)"/>
<circle cx="213.3" cy="71.7" r="0.8" fill="rgba(214,0,0,0.85)"/>
<circle cx="181.6" cy="94.0" r="0.8" fill="rgba(214,0,0,0.85)"/>
<circle cx="197.2" cy="93.9" r="0.8" fill="rgba(214,0,0,0.85)"/>
<circle cx="213.5" cy="67.7" r="0.8" fill="rgba(214,0,0,0.85)"/>
<circle cx="181.9" cy="90.8" r="0.8" fill="rgba(214,0,0,0.85)"/>
<circle cx="196.7" cy="96.5" r="0.8" fill="rgba(214,0,0,0.85)"/>
<circle cx="213.3" cy="98.8" r="0.8" fill="rgba(214,0,0,0.85)"/>
<circle cx="181.7" cy="99.7" r="0.8" fill="rgba(214,0,0,0.85)"/>
<circle cx="197.8" cy="66.4" r="0.8" fill="rgba(214,0,0,0.85)"/>
<circle cx="212.9" cy="73.6" r="0.8" fill="rgba(214,0,0,0.85)"/>
<circle cx="181.5" cy="97.0" r="0.8" fill="rgba(214,0,0,0.85)"/>
<circle cx="196.7" cy="34.9" r="0.8" fill="rgba(214,0,0,0.85)"/>
<circle cx="212.8" cy="51.3" r="0.8" fill="rgba(214,0,0,0.85)"/>
<circle cx="181.4" cy="90.5" r="0.8" fill="rgba(214,0,0,0.85)"/>
<circle cx="197.1" cy="70.3" r="0.8" fill="rgba(214,0,0,0.85)"/>
<circle cx="212.5" cy="68.1" r="0.8" fill="rgba(214,0,0,0.85)"/>
<circle cx="181.5" cy="89.1" r="0.8" fill="rgba(214,0,0,0.85)"/>
<circle cx="197.6" cy="35.2" r="0.8" fill="rgba(214,0,0,0.85)"/>
<circle cx="212.3" cy="48.0" r="0.8" fill="rgba(214,0,0,0.85)"/>
<circle cx="181.0" cy="70.3" r="0.8" fill="rgba(214,0,0,0.85)"/>
<circle cx="196.5" cy="34.9" r="0.8" fill="rgba(214,0,0,0.85)"/>
<circle cx="213.2" cy="62.4" r="0.8" fill="rgba(214,0,0,0.85)"/>
<circle cx="181.3" cy="70.3" r="0.8" fill="rgba(214,0,0,0.85)"/>
<circle cx="197.9" cy="35.2" r="0.8" fill="rgba(214,0,0,0.85)"/>
<circle cx="212.6" cy="36.2" r="0.8" fill="rgba(214,0,0,0.85)"/>
<circle cx="180.8" cy="70.8" r="0.8" fill="rgba(214,0,0,0.85)"/>
<circle cx="196.9" cy="59.0" r="0.8" fill="rgba(214,0,0,0.85)"/>
<circle cx="212.4" cy="35.9" r="0.8" fill="rgba(214,0,0,0.85)"/>
<path d="M181.50,104.50 L197.20,95.00 L213.00,84.00" fill="none" stroke="#d20000" stroke-width="1.35" stroke-linejoin="round"/>
<line x1="171.40" y1="29.15" x2="171.40" y2="107.90" stroke="#111" stroke-width="1.25"/>
<line x1="168.20" y1="32.75" x2="171.40" y2="32.75" stroke="#111" stroke-width="0.9"/>
<line x1="168.20" y1="44.70" x2="171.40" y2="44.70" stroke="#111" stroke-width="0.9"/>
<line x1="168.20" y1="56.65" x2="171.40" y2="56.65" stroke="#111" stroke-width="0.9"/>
<line x1="168.20" y1="62.62" x2="171.40" y2="62.62" stroke="#111" stroke-width="0.9"/>
<line x1="168.20" y1="68.60" x2="171.40" y2="68.60" stroke="#111" stroke-width="0.9"/>
<line x1="168.20" y1="80.55" x2="171.40" y2="80.55" stroke="#111" stroke-width="0.9"/>
<line x1="168.20" y1="107.30" x2="171.40" y2="107.30" stroke="#111" stroke-width="0.9"/>
<line x1="168.20" y1="107.30" x2="217.50" y2="107.30" stroke="#111" stroke-width="1.1"/>
<line x1="181.50" y1="107.30" x2="181.50" y2="110.30" stroke="#111" stroke-width="0.8"/>
<line x1="197.20" y1="107.30" x2="197.20" y2="110.30" stroke="#111" stroke-width="0.8"/>
<line x1="213.00" y1="107.30" x2="213.00" y2="110.30" stroke="#111" stroke-width="0.8"/>
<path d="M174.25,28.40 V27.00 Q174.25,26.60 174.65,26.60 H191.65 Q192.05,26.60 192.05,27.00 V28.40" fill="none" stroke="#383838" stroke-width="0.85"/>
<path d="M194.30,28.40 V27.00 Q194.30,26.60 194.70,26.60 H211.65 Q212.05,26.60 212.05,27.00 V28.40" fill="none" stroke="#383838" stroke-width="0.85"/>
<rect x="182.45" y="23.20" width="1.5" height="1.5" fill="#3a3a3a"/>
<rect x="202.48" y="23.20" width="1.5" height="1.5" fill="#3a3a3a"/>
<path d="M174.25,34.10 V32.70 Q174.25,32.30 174.65,32.30 H211.65 Q212.05,32.30 212.05,32.70 V34.10" fill="none" stroke="#383838" stroke-width="0.85"/>
<rect x="192.45" y="29.00" width="1.5" height="1.5" fill="#3a3a3a"/>
<line x1="229.00" y1="62.62" x2="275.30" y2="62.62" stroke="#d9d9d9" stroke-width="0.9"/>
<line x1="229.00" y1="80.55" x2="275.30" y2="80.55" stroke="#d9d9d9" stroke-width="0.9"/>
<path d="M238.7,104.5 L253.5,104.5 L269.8,104.5" fill="none" stroke="rgba(228,25,25,0.45)" stroke-width="0.55"/>
<path d="M239.2,104.5 L254.8,104.5 L270.4,94.4" fill="none" stroke="rgba(228,25,25,0.45)" stroke-width="0.55"/>
<path d="M239.1,104.5 L254.3,104.5 L270.0,84.5" fill="none" stroke="rgba(228,25,25,0.45)" stroke-width="0.55"/>
<path d="M238.4,104.5 L254.3,104.5 L270.5,62.1" fill="none" stroke="rgba(228,25,25,0.45)" stroke-width="0.55"/>
<path d="M238.9,104.5 L254.0,99.0 L269.9,81.1" fill="none" stroke="rgba(228,25,25,0.45)" stroke-width="0.55"/>
<path d="M238.8,104.5 L253.7,104.5 L269.3,90.9" fill="none" stroke="rgba(228,25,25,0.45)" stroke-width="0.55"/>
<path d="M238.8,104.5 L253.7,104.5 L269.7,70.1" fill="none" stroke="rgba(228,25,25,0.45)" stroke-width="0.55"/>
<path d="M238.4,104.5 L254.8,104.5 L270.0,62.9" fill="none" stroke="rgba(228,25,25,0.45)" stroke-width="0.55"/>
<path d="M238.8,104.5 L254.0,86.3 L270.0,76.2" fill="none" stroke="rgba(228,25,25,0.45)" stroke-width="0.55"/>
<path d="M238.5,104.5 L254.2,96.9 L269.4,70.0" fill="none" stroke="rgba(228,25,25,0.45)" stroke-width="0.55"/>
<path d="M239.3,104.5 L254.6,93.5 L269.6,91.7" fill="none" stroke="rgba(228,25,25,0.45)" stroke-width="0.55"/>
<path d="M238.4,104.5 L254.8,50.3 L270.0,85.2" fill="none" stroke="rgba(228,25,25,0.45)" stroke-width="0.55"/>
<path d="M238.1,83.3 L254.2,72.7 L269.3,54.2" fill="none" stroke="rgba(228,25,25,0.45)" stroke-width="0.55"/>
<path d="M238.8,104.5 L254.2,73.0 L269.4,53.0" fill="none" stroke="rgba(228,25,25,0.45)" stroke-width="0.55"/>
<path d="M238.6,77.8 L253.8,90.0 L270.2,46.0" fill="none" stroke="rgba(228,25,25,0.45)" stroke-width="0.55"/>
<path d="M238.4,84.2 L253.8,70.4 L269.6,44.3" fill="none" stroke="rgba(228,25,25,0.45)" stroke-width="0.55"/>
<path d="M239.3,97.8 L254.0,84.9 L269.3,61.4" fill="none" stroke="rgba(228,25,25,0.45)" stroke-width="0.55"/>
<path d="M238.6,86.8 L254.1,57.2 L269.8,43.9" fill="none" stroke="rgba(228,25,25,0.45)" stroke-width="0.55"/>
<path d="M239.0,88.3 L253.8,74.2 L270.2,48.7" fill="none" stroke="rgba(228,25,25,0.45)" stroke-width="0.55"/>
<path d="M238.1,92.4 L254.5,83.1 L270.3,48.6" fill="none" stroke="rgba(228,25,25,0.45)" stroke-width="0.55"/>
<path d="M238.5,104.5 L254.6,50.2 L270.1,43.9" fill="none" stroke="rgba(228,25,25,0.45)" stroke-width="0.55"/>
<path d="M238.7,88.4 L253.5,54.4 L270.0,48.4" fill="none" stroke="rgba(228,25,25,0.45)" stroke-width="0.55"/>
<circle cx="238.7" cy="104.5" r="0.8" fill="rgba(214,0,0,0.85)"/>
<circle cx="253.5" cy="104.5" r="0.8" fill="rgba(214,0,0,0.85)"/>
<circle cx="269.8" cy="104.5" r="0.8" fill="rgba(214,0,0,0.85)"/>
<circle cx="239.2" cy="104.5" r="0.8" fill="rgba(214,0,0,0.85)"/>
<circle cx="254.8" cy="104.5" r="0.8" fill="rgba(214,0,0,0.85)"/>
<circle cx="270.4" cy="94.4" r="0.8" fill="rgba(214,0,0,0.85)"/>
<circle cx="239.1" cy="104.5" r="0.8" fill="rgba(214,0,0,0.85)"/>
<circle cx="254.3" cy="104.5" r="0.8" fill="rgba(214,0,0,0.85)"/>
<circle cx="270.0" cy="84.5" r="0.8" fill="rgba(214,0,0,0.85)"/>
<circle cx="238.4" cy="104.5" r="0.8" fill="rgba(214,0,0,0.85)"/>
<circle cx="254.3" cy="104.5" r="0.8" fill="rgba(214,0,0,0.85)"/>
<circle cx="270.5" cy="62.1" r="0.8" fill="rgba(214,0,0,0.85)"/>
<circle cx="238.9" cy="104.5" r="0.8" fill="rgba(214,0,0,0.85)"/>
<circle cx="254.0" cy="99.0" r="0.8" fill="rgba(214,0,0,0.85)"/>
<circle cx="269.9" cy="81.1" r="0.8" fill="rgba(214,0,0,0.85)"/>
<circle cx="238.8" cy="104.5" r="0.8" fill="rgba(214,0,0,0.85)"/>
<circle cx="253.7" cy="104.5" r="0.8" fill="rgba(214,0,0,0.85)"/>
<circle cx="269.3" cy="90.9" r="0.8" fill="rgba(214,0,0,0.85)"/>
<circle cx="238.8" cy="104.5" r="0.8" fill="rgba(214,0,0,0.85)"/>
<circle cx="253.7" cy="104.5" r="0.8" fill="rgba(214,0,0,0.85)"/>
<circle cx="269.7" cy="70.1" r="0.8" fill="rgba(214,0,0,0.85)"/>
<circle cx="238.4" cy="104.5" r="0.8" fill="rgba(214,0,0,0.85)"/>
<circle cx="254.8" cy="104.5" r="0.8" fill="rgba(214,0,0,0.85)"/>
<circle cx="270.0" cy="62.9" r="0.8" fill="rgba(214,0,0,0.85)"/>
<circle cx="238.8" cy="104.5" r="0.8" fill="rgba(214,0,0,0.85)"/>
<circle cx="254.0" cy="86.3" r="0.8" fill="rgba(214,0,0,0.85)"/>
<circle cx="270.0" cy="76.2" r="0.8" fill="rgba(214,0,0,0.85)"/>
<circle cx="238.5" cy="104.5" r="0.8" fill="rgba(214,0,0,0.85)"/>
<circle cx="254.2" cy="96.9" r="0.8" fill="rgba(214,0,0,0.85)"/>
<circle cx="269.4" cy="70.0" r="0.8" fill="rgba(214,0,0,0.85)"/>
<circle cx="239.3" cy="104.5" r="0.8" fill="rgba(214,0,0,0.85)"/>
<circle cx="254.6" cy="93.5" r="0.8" fill="rgba(214,0,0,0.85)"/>
<circle cx="269.6" cy="91.7" r="0.8" fill="rgba(214,0,0,0.85)"/>
<circle cx="238.4" cy="104.5" r="0.8" fill="rgba(214,0,0,0.85)"/>
<circle cx="254.8" cy="50.3" r="0.8" fill="rgba(214,0,0,0.85)"/>
<circle cx="270.0" cy="85.2" r="0.8" fill="rgba(214,0,0,0.85)"/>
<circle cx="238.1" cy="83.3" r="0.8" fill="rgba(214,0,0,0.85)"/>
<circle cx="254.2" cy="72.7" r="0.8" fill="rgba(214,0,0,0.85)"/>
<circle cx="269.3" cy="54.2" r="0.8" fill="rgba(214,0,0,0.85)"/>
<circle cx="238.8" cy="104.5" r="0.8" fill="rgba(214,0,0,0.85)"/>
<circle cx="254.2" cy="73.0" r="0.8" fill="rgba(214,0,0,0.85)"/>
<circle cx="269.4" cy="53.0" r="0.8" fill="rgba(214,0,0,0.85)"/>
<circle cx="238.6" cy="77.8" r="0.8" fill="rgba(214,0,0,0.85)"/>
<circle cx="253.8" cy="90.0" r="0.8" fill="rgba(214,0,0,0.85)"/>
<circle cx="270.2" cy="46.0" r="0.8" fill="rgba(214,0,0,0.85)"/>
<circle cx="238.4" cy="84.2" r="0.8" fill="rgba(214,0,0,0.85)"/>
<circle cx="253.8" cy="70.4" r="0.8" fill="rgba(214,0,0,0.85)"/>
<circle cx="269.6" cy="44.3" r="0.8" fill="rgba(214,0,0,0.85)"/>
<circle cx="239.3" cy="97.8" r="0.8" fill="rgba(214,0,0,0.85)"/>
<circle cx="254.0" cy="84.9" r="0.8" fill="rgba(214,0,0,0.85)"/>
<circle cx="269.3" cy="61.4" r="0.8" fill="rgba(214,0,0,0.85)"/>
<circle cx="238.6" cy="86.8" r="0.8" fill="rgba(214,0,0,0.85)"/>
<circle cx="254.1" cy="57.2" r="0.8" fill="rgba(214,0,0,0.85)"/>
<circle cx="269.8" cy="43.9" r="0.8" fill="rgba(214,0,0,0.85)"/>
<circle cx="239.0" cy="88.3" r="0.8" fill="rgba(214,0,0,0.85)"/>
<circle cx="253.8" cy="74.2" r="0.8" fill="rgba(214,0,0,0.85)"/>
<circle cx="270.2" cy="48.7" r="0.8" fill="rgba(214,0,0,0.85)"/>
<circle cx="238.1" cy="92.4" r="0.8" fill="rgba(214,0,0,0.85)"/>
<circle cx="254.5" cy="83.1" r="0.8" fill="rgba(214,0,0,0.85)"/>
<circle cx="270.3" cy="48.6" r="0.8" fill="rgba(214,0,0,0.85)"/>
<circle cx="238.5" cy="104.5" r="0.8" fill="rgba(214,0,0,0.85)"/>
<circle cx="254.6" cy="50.2" r="0.8" fill="rgba(214,0,0,0.85)"/>
<circle cx="270.1" cy="43.9" r="0.8" fill="rgba(214,0,0,0.85)"/>
<circle cx="238.7" cy="88.4" r="0.8" fill="rgba(214,0,0,0.85)"/>
<circle cx="253.5" cy="54.4" r="0.8" fill="rgba(214,0,0,0.85)"/>
<circle cx="270.0" cy="48.4" r="0.8" fill="rgba(214,0,0,0.85)"/>
<path d="M238.60,104.50 L254.20,95.00 L269.90,70.00" fill="none" stroke="#d20000" stroke-width="1.35" stroke-linejoin="round"/>
<line x1="229.00" y1="29.15" x2="229.00" y2="107.90" stroke="#111" stroke-width="1.25"/>
<line x1="225.80" y1="32.75" x2="229.00" y2="32.75" stroke="#111" stroke-width="0.9"/>
<line x1="225.80" y1="44.70" x2="229.00" y2="44.70" stroke="#111" stroke-width="0.9"/>
<line x1="225.80" y1="56.65" x2="229.00" y2="56.65" stroke="#111" stroke-width="0.9"/>
<line x1="225.80" y1="62.62" x2="229.00" y2="62.62" stroke="#111" stroke-width="0.9"/>
<line x1="225.80" y1="68.60" x2="229.00" y2="68.60" stroke="#111" stroke-width="0.9"/>
<line x1="225.80" y1="80.55" x2="229.00" y2="80.55" stroke="#111" stroke-width="0.9"/>
<line x1="225.80" y1="107.30" x2="229.00" y2="107.30" stroke="#111" stroke-width="0.9"/>
<line x1="225.80" y1="107.30" x2="275.30" y2="107.30" stroke="#111" stroke-width="1.1"/>
<line x1="238.60" y1="107.30" x2="238.60" y2="110.30" stroke="#111" stroke-width="0.8"/>
<line x1="254.20" y1="107.30" x2="254.20" y2="110.30" stroke="#111" stroke-width="0.8"/>
<line x1="269.90" y1="107.30" x2="269.90" y2="110.30" stroke="#111" stroke-width="0.8"/>
<path d="M231.95,28.40 V27.00 Q231.95,26.60 232.35,26.60 H249.20 Q249.60,26.60 249.60,27.00 V28.40" fill="none" stroke="#383838" stroke-width="0.85"/>
<path d="M251.85,28.40 V27.00 Q251.85,26.60 252.25,26.60 H269.05 Q269.45,26.60 269.45,27.00 V28.40" fill="none" stroke="#383838" stroke-width="0.85"/>
<rect x="240.07" y="23.20" width="1.5" height="1.5" fill="#3a3a3a"/>
<rect x="259.95" y="23.20" width="1.5" height="1.5" fill="#3a3a3a"/>
<path d="M231.95,34.10 V32.70 Q231.95,32.30 232.35,32.30 H269.05 Q269.45,32.30 269.45,32.70 V34.10" fill="none" stroke="#383838" stroke-width="0.85"/>
<rect x="250.00" y="29.00" width="1.5" height="1.5" fill="#3a3a3a"/>
<line x1="304.20" y1="62.62" x2="350.40" y2="62.62" stroke="#d9d9d9" stroke-width="0.9"/>
<line x1="304.20" y1="80.55" x2="350.40" y2="80.55" stroke="#d9d9d9" stroke-width="0.9"/>
<path d="M313.8,104.5 L328.5,104.5 L344.8,104.5" fill="none" stroke="rgba(228,25,25,0.45)" stroke-width="0.55"/>
<path d="M313.8,104.5 L329.0,86.7 L344.0,104.5" fill="none" stroke="rgba(228,25,25,0.45)" stroke-width="0.55"/>
<path d="M313.9,104.5 L328.7,98.8 L344.3,78.8" fill="none" stroke="rgba(228,25,25,0.45)" stroke-width="0.55"/>
<path d="M314.2,104.5 L328.7,104.5 L345.1,104.5" fill="none" stroke="rgba(228,25,25,0.45)" stroke-width="0.55"/>
<path d="M314.2,104.5 L329.7,104.5 L344.0,104.5" fill="none" stroke="rgba(228,25,25,0.45)" stroke-width="0.55"/>
<path d="M313.5,104.5 L328.7,104.5 L344.5,104.5" fill="none" stroke="rgba(228,25,25,0.45)" stroke-width="0.55"/>
<path d="M312.9,104.5 L329.2,99.3 L344.9,91.3" fill="none" stroke="rgba(228,25,25,0.45)" stroke-width="0.55"/>
<path d="M314.2,104.5 L329.9,104.5 L344.3,104.5" fill="none" stroke="rgba(228,25,25,0.45)" stroke-width="0.55"/>
<path d="M313.8,104.5 L328.5,99.4 L344.3,68.6" fill="none" stroke="rgba(228,25,25,0.45)" stroke-width="0.55"/>
<path d="M314.0,96.7 L328.7,93.8 L344.3,104.5" fill="none" stroke="rgba(228,25,25,0.45)" stroke-width="0.55"/>
<path d="M313.7,104.5 L329.6,99.1 L344.4,79.8" fill="none" stroke="rgba(228,25,25,0.45)" stroke-width="0.55"/>
<path d="M312.9,98.8 L329.8,97.5 L345.1,104.5" fill="none" stroke="rgba(228,25,25,0.45)" stroke-width="0.55"/>
<path d="M313.1,104.5 L328.8,90.0 L345.1,64.6" fill="none" stroke="rgba(228,25,25,0.45)" stroke-width="0.55"/>
<path d="M313.3,104.5 L329.4,104.5 L344.2,59.3" fill="none" stroke="rgba(228,25,25,0.45)" stroke-width="0.55"/>
<path d="M313.0,104.5 L328.9,86.4 L343.9,78.9" fill="none" stroke="rgba(228,25,25,0.45)" stroke-width="0.55"/>
<path d="M313.8,104.5 L328.9,79.8 L344.0,68.6" fill="none" stroke="rgba(228,25,25,0.45)" stroke-width="0.55"/>
<path d="M313.3,97.1 L329.2,104.5 L344.3,60.3" fill="none" stroke="rgba(228,25,25,0.45)" stroke-width="0.55"/>
<path d="M313.2,104.5 L328.9,104.5 L344.7,67.5" fill="none" stroke="rgba(228,25,25,0.45)" stroke-width="0.55"/>
<path d="M314.0,104.5 L329.2,69.4 L344.5,88.4" fill="none" stroke="rgba(228,25,25,0.45)" stroke-width="0.55"/>
<path d="M314.2,101.4 L328.8,87.1 L344.4,54.7" fill="none" stroke="rgba(228,25,25,0.45)" stroke-width="0.55"/>
<path d="M314.0,104.5 L328.6,87.2 L344.7,62.4" fill="none" stroke="rgba(228,25,25,0.45)" stroke-width="0.55"/>
<path d="M313.1,104.5 L329.3,67.3 L344.6,73.3" fill="none" stroke="rgba(228,25,25,0.45)" stroke-width="0.55"/>
<path d="M313.3,104.5 L329.7,90.1 L344.7,67.7" fill="none" stroke="rgba(228,25,25,0.45)" stroke-width="0.55"/>
<path d="M313.2,104.5 L328.5,82.4 L344.5,56.5" fill="none" stroke="rgba(228,25,25,0.45)" stroke-width="0.55"/>
<path d="M313.0,104.5 L329.4,79.1 L344.7,56.1" fill="none" stroke="rgba(228,25,25,0.45)" stroke-width="0.55"/>
<path d="M313.9,98.8 L329.4,81.5 L344.6,59.2" fill="none" stroke="rgba(228,25,25,0.45)" stroke-width="0.55"/>
<path d="M312.8,104.5 L328.9,83.7 L344.0,61.1" fill="none" stroke="rgba(228,25,25,0.45)" stroke-width="0.55"/>
<path d="M312.9,104.5 L329.5,77.7 L344.5,56.9" fill="none" stroke="rgba(228,25,25,0.45)" stroke-width="0.55"/>
<path d="M313.7,99.0 L329.6,69.9 L345.0,56.6" fill="none" stroke="rgba(228,25,25,0.45)" stroke-width="0.55"/>
<path d="M313.5,104.5 L329.5,96.7 L345.1,56.8" fill="none" stroke="rgba(228,25,25,0.45)" stroke-width="0.55"/>
<path d="M313.1,95.5 L328.8,71.5 L344.3,63.7" fill="none" stroke="rgba(228,25,25,0.45)" stroke-width="0.55"/>
<path d="M313.9,96.8 L328.9,71.8 L344.7,60.2" fill="none" stroke="rgba(228,25,25,0.45)" stroke-width="0.55"/>
<path d="M313.8,93.0 L328.8,76.8 L345.1,58.6" fill="none" stroke="rgba(228,25,25,0.45)" stroke-width="0.55"/>
<path d="M313.7,98.3 L328.7,91.5 L344.8,55.6" fill="none" stroke="rgba(228,25,25,0.45)" stroke-width="0.55"/>
<path d="M313.9,104.5 L328.6,91.5 L344.6,51.7" fill="none" stroke="rgba(228,25,25,0.45)" stroke-width="0.55"/>
<path d="M314.0,75.2 L329.5,75.2 L344.2,45.8" fill="none" stroke="rgba(228,25,25,0.45)" stroke-width="0.55"/>
<path d="M314.0,104.5 L329.5,67.2 L344.5,69.2" fill="none" stroke="rgba(228,25,25,0.45)" stroke-width="0.55"/>
<path d="M313.7,104.5 L328.7,72.7 L345.1,53.2" fill="none" stroke="rgba(228,25,25,0.45)" stroke-width="0.55"/>
<path d="M313.9,99.4 L328.8,74.4 L345.2,55.0" fill="none" stroke="rgba(228,25,25,0.45)" stroke-width="0.55"/>
<path d="M314.0,93.6 L329.6,55.0 L344.5,50.1" fill="none" stroke="rgba(228,25,25,0.45)" stroke-width="0.55"/>
<path d="M313.9,91.1 L329.1,64.8 L344.2,69.3" fill="none" stroke="rgba(228,25,25,0.45)" stroke-width="0.55"/>
<path d="M314.2,86.3 L329.7,77.0 L345.0,60.4" fill="none" stroke="rgba(228,25,25,0.45)" stroke-width="0.55"/>
<path d="M313.5,87.7 L328.9,62.4 L344.1,45.4" fill="none" stroke="rgba(228,25,25,0.45)" stroke-width="0.55"/>
<path d="M313.8,93.6 L329.2,64.3 L344.2,45.6" fill="none" stroke="rgba(228,25,25,0.45)" stroke-width="0.55"/>
<path d="M313.7,76.3 L329.3,67.2 L344.1,58.5" fill="none" stroke="rgba(228,25,25,0.45)" stroke-width="0.55"/>
<path d="M314.2,93.4 L329.3,78.7 L344.3,46.7" fill="none" stroke="rgba(228,25,25,0.45)" stroke-width="0.55"/>
<path d="M313.7,92.6 L329.7,69.7 L345.1,42.4" fill="none" stroke="rgba(228,25,25,0.45)" stroke-width="0.55"/>
<path d="M312.8,95.0 L329.2,58.4 L344.8,45.9" fill="none" stroke="rgba(228,25,25,0.45)" stroke-width="0.55"/>
<path d="M313.9,104.5 L328.7,67.5 L344.4,46.3" fill="none" stroke="rgba(228,25,25,0.45)" stroke-width="0.55"/>
<path d="M312.9,74.9 L328.7,50.9 L344.5,46.1" fill="none" stroke="rgba(228,25,25,0.45)" stroke-width="0.55"/>
<path d="M313.1,83.2 L329.8,77.3 L344.4,47.4" fill="none" stroke="rgba(228,25,25,0.45)" stroke-width="0.55"/>
<path d="M313.6,83.1 L329.8,46.9 L344.4,47.7" fill="none" stroke="rgba(228,25,25,0.45)" stroke-width="0.55"/>
<path d="M313.7,89.4 L329.9,65.2 L344.9,44.2" fill="none" stroke="rgba(228,25,25,0.45)" stroke-width="0.55"/>
<path d="M313.6,85.1 L329.6,63.9 L344.9,44.5" fill="none" stroke="rgba(228,25,25,0.45)" stroke-width="0.55"/>
<path d="M313.4,83.4 L329.7,63.4 L345.2,45.0" fill="none" stroke="rgba(228,25,25,0.45)" stroke-width="0.55"/>
<path d="M313.2,86.3 L328.7,59.9 L344.1,42.3" fill="none" stroke="rgba(228,25,25,0.45)" stroke-width="0.55"/>
<path d="M313.9,74.8 L328.8,61.6 L344.3,46.2" fill="none" stroke="rgba(228,25,25,0.45)" stroke-width="0.55"/>
<path d="M313.0,89.9 L328.7,74.1 L344.2,104.5" fill="none" stroke="rgba(228,25,25,0.45)" stroke-width="0.55"/>
<path d="M313.50,61.40 L329.20,45.80 L344.60,44.50" fill="none" stroke="rgba(250,170,20,0.6)" stroke-width="0.6"/>
<path d="M329.20,39.50 L344.60,39.50" fill="none" stroke="rgba(250,170,20,0.6)" stroke-width="0.6"/>
<circle cx="313.8" cy="104.5" r="0.8" fill="rgba(214,0,0,0.85)"/>
<circle cx="328.5" cy="104.5" r="0.8" fill="rgba(214,0,0,0.85)"/>
<circle cx="344.8" cy="104.5" r="0.8" fill="rgba(214,0,0,0.85)"/>
<circle cx="313.8" cy="104.5" r="0.8" fill="rgba(214,0,0,0.85)"/>
<circle cx="329.0" cy="86.7" r="0.8" fill="rgba(214,0,0,0.85)"/>
<circle cx="344.0" cy="104.5" r="0.8" fill="rgba(214,0,0,0.85)"/>
<circle cx="313.9" cy="104.5" r="0.8" fill="rgba(214,0,0,0.85)"/>
<circle cx="328.7" cy="98.8" r="0.8" fill="rgba(214,0,0,0.85)"/>
<circle cx="344.3" cy="78.8" r="0.8" fill="rgba(214,0,0,0.85)"/>
<circle cx="314.2" cy="104.5" r="0.8" fill="rgba(214,0,0,0.85)"/>
<circle cx="328.7" cy="104.5" r="0.8" fill="rgba(214,0,0,0.85)"/>
<circle cx="345.1" cy="104.5" r="0.8" fill="rgba(214,0,0,0.85)"/>
<circle cx="314.2" cy="104.5" r="0.8" fill="rgba(214,0,0,0.85)"/>
<circle cx="329.7" cy="104.5" r="0.8" fill="rgba(214,0,0,0.85)"/>
<circle cx="344.0" cy="104.5" r="0.8" fill="rgba(214,0,0,0.85)"/>
<circle cx="313.5" cy="104.5" r="0.8" fill="rgba(214,0,0,0.85)"/>
<circle cx="328.7" cy="104.5" r="0.8" fill="rgba(214,0,0,0.85)"/>
<circle cx="344.5" cy="104.5" r="0.8" fill="rgba(214,0,0,0.85)"/>
<circle cx="312.9" cy="104.5" r="0.8" fill="rgba(214,0,0,0.85)"/>
<circle cx="329.2" cy="99.3" r="0.8" fill="rgba(214,0,0,0.85)"/>
<circle cx="344.9" cy="91.3" r="0.8" fill="rgba(214,0,0,0.85)"/>
<circle cx="314.2" cy="104.5" r="0.8" fill="rgba(214,0,0,0.85)"/>
<circle cx="329.9" cy="104.5" r="0.8" fill="rgba(214,0,0,0.85)"/>
<circle cx="344.3" cy="104.5" r="0.8" fill="rgba(214,0,0,0.85)"/>
<circle cx="313.8" cy="104.5" r="0.8" fill="rgba(214,0,0,0.85)"/>
<circle cx="328.5" cy="99.4" r="0.8" fill="rgba(214,0,0,0.85)"/>
<circle cx="344.3" cy="68.6" r="0.8" fill="rgba(214,0,0,0.85)"/>
<circle cx="314.0" cy="96.7" r="0.8" fill="rgba(214,0,0,0.85)"/>
<circle cx="328.7" cy="93.8" r="0.8" fill="rgba(214,0,0,0.85)"/>
<circle cx="344.3" cy="104.5" r="0.8" fill="rgba(214,0,0,0.85)"/>
<circle cx="313.7" cy="104.5" r="0.8" fill="rgba(214,0,0,0.85)"/>
<circle cx="329.6" cy="99.1" r="0.8" fill="rgba(214,0,0,0.85)"/>
<circle cx="344.4" cy="79.8" r="0.8" fill="rgba(214,0,0,0.85)"/>
<circle cx="312.9" cy="98.8" r="0.8" fill="rgba(214,0,0,0.85)"/>
<circle cx="329.8" cy="97.5" r="0.8" fill="rgba(214,0,0,0.85)"/>
<circle cx="345.1" cy="104.5" r="0.8" fill="rgba(214,0,0,0.85)"/>
<circle cx="313.1" cy="104.5" r="0.8" fill="rgba(214,0,0,0.85)"/>
<circle cx="328.8" cy="90.0" r="0.8" fill="rgba(214,0,0,0.85)"/>
<circle cx="345.1" cy="64.6" r="0.8" fill="rgba(214,0,0,0.85)"/>
<circle cx="313.3" cy="104.5" r="0.8" fill="rgba(214,0,0,0.85)"/>
<circle cx="329.4" cy="104.5" r="0.8" fill="rgba(214,0,0,0.85)"/>
<circle cx="344.2" cy="59.3" r="0.8" fill="rgba(214,0,0,0.85)"/>
<circle cx="313.0" cy="104.5" r="0.8" fill="rgba(214,0,0,0.85)"/>
<circle cx="328.9" cy="86.4" r="0.8" fill="rgba(214,0,0,0.85)"/>
<circle cx="343.9" cy="78.9" r="0.8" fill="rgba(214,0,0,0.85)"/>
<circle cx="313.8" cy="104.5" r="0.8" fill="rgba(214,0,0,0.85)"/>
<circle cx="328.9" cy="79.8" r="0.8" fill="rgba(214,0,0,0.85)"/>
<circle cx="344.0" cy="68.6" r="0.8" fill="rgba(214,0,0,0.85)"/>
<circle cx="313.3" cy="97.1" r="0.8" fill="rgba(214,0,0,0.85)"/>
<circle cx="329.2" cy="104.5" r="0.8" fill="rgba(214,0,0,0.85)"/>
<circle cx="344.3" cy="60.3" r="0.8" fill="rgba(214,0,0,0.85)"/>
<circle cx="313.2" cy="104.5" r="0.8" fill="rgba(214,0,0,0.85)"/>
<circle cx="328.9" cy="104.5" r="0.8" fill="rgba(214,0,0,0.85)"/>
<circle cx="344.7" cy="67.5" r="0.8" fill="rgba(214,0,0,0.85)"/>
<circle cx="314.0" cy="104.5" r="0.8" fill="rgba(214,0,0,0.85)"/>
<circle cx="329.2" cy="69.4" r="0.8" fill="rgba(214,0,0,0.85)"/>
<circle cx="344.5" cy="88.4" r="0.8" fill="rgba(214,0,0,0.85)"/>
<circle cx="314.2" cy="101.4" r="0.8" fill="rgba(214,0,0,0.85)"/>
<circle cx="328.8" cy="87.1" r="0.8" fill="rgba(214,0,0,0.85)"/>
<circle cx="344.4" cy="54.7" r="0.8" fill="rgba(214,0,0,0.85)"/>
<circle cx="314.0" cy="104.5" r="0.8" fill="rgba(214,0,0,0.85)"/>
<circle cx="328.6" cy="87.2" r="0.8" fill="rgba(214,0,0,0.85)"/>
<circle cx="344.7" cy="62.4" r="0.8" fill="rgba(214,0,0,0.85)"/>
<circle cx="313.1" cy="104.5" r="0.8" fill="rgba(214,0,0,0.85)"/>
<circle cx="329.3" cy="67.3" r="0.8" fill="rgba(214,0,0,0.85)"/>
<circle cx="344.6" cy="73.3" r="0.8" fill="rgba(214,0,0,0.85)"/>
<circle cx="313.3" cy="104.5" r="0.8" fill="rgba(214,0,0,0.85)"/>
<circle cx="329.7" cy="90.1" r="0.8" fill="rgba(214,0,0,0.85)"/>
<circle cx="344.7" cy="67.7" r="0.8" fill="rgba(214,0,0,0.85)"/>
<circle cx="313.2" cy="104.5" r="0.8" fill="rgba(214,0,0,0.85)"/>
<circle cx="328.5" cy="82.4" r="0.8" fill="rgba(214,0,0,0.85)"/>
<circle cx="344.5" cy="56.5" r="0.8" fill="rgba(214,0,0,0.85)"/>
<circle cx="313.0" cy="104.5" r="0.8" fill="rgba(214,0,0,0.85)"/>
<circle cx="329.4" cy="79.1" r="0.8" fill="rgba(214,0,0,0.85)"/>
<circle cx="344.7" cy="56.1" r="0.8" fill="rgba(214,0,0,0.85)"/>
<circle cx="313.9" cy="98.8" r="0.8" fill="rgba(214,0,0,0.85)"/>
<circle cx="329.4" cy="81.5" r="0.8" fill="rgba(214,0,0,0.85)"/>
<circle cx="344.6" cy="59.2" r="0.8" fill="rgba(214,0,0,0.85)"/>
<circle cx="312.8" cy="104.5" r="0.8" fill="rgba(214,0,0,0.85)"/>
<circle cx="328.9" cy="83.7" r="0.8" fill="rgba(214,0,0,0.85)"/>
<circle cx="344.0" cy="61.1" r="0.8" fill="rgba(214,0,0,0.85)"/>
<circle cx="312.9" cy="104.5" r="0.8" fill="rgba(214,0,0,0.85)"/>
<circle cx="329.5" cy="77.7" r="0.8" fill="rgba(214,0,0,0.85)"/>
<circle cx="344.5" cy="56.9" r="0.8" fill="rgba(214,0,0,0.85)"/>
<circle cx="313.7" cy="99.0" r="0.8" fill="rgba(214,0,0,0.85)"/>
<circle cx="329.6" cy="69.9" r="0.8" fill="rgba(214,0,0,0.85)"/>
<circle cx="345.0" cy="56.6" r="0.8" fill="rgba(214,0,0,0.85)"/>
<circle cx="313.5" cy="104.5" r="0.8" fill="rgba(214,0,0,0.85)"/>
<circle cx="329.5" cy="96.7" r="0.8" fill="rgba(214,0,0,0.85)"/>
<circle cx="345.1" cy="56.8" r="0.8" fill="rgba(214,0,0,0.85)"/>
<circle cx="313.1" cy="95.5" r="0.8" fill="rgba(214,0,0,0.85)"/>
<circle cx="328.8" cy="71.5" r="0.8" fill="rgba(214,0,0,0.85)"/>
<circle cx="344.3" cy="63.7" r="0.8" fill="rgba(214,0,0,0.85)"/>
<circle cx="313.9" cy="96.8" r="0.8" fill="rgba(214,0,0,0.85)"/>
<circle cx="328.9" cy="71.8" r="0.8" fill="rgba(214,0,0,0.85)"/>
<circle cx="344.7" cy="60.2" r="0.8" fill="rgba(214,0,0,0.85)"/>
<circle cx="313.8" cy="93.0" r="0.8" fill="rgba(214,0,0,0.85)"/>
<circle cx="328.8" cy="76.8" r="0.8" fill="rgba(214,0,0,0.85)"/>
<circle cx="345.1" cy="58.6" r="0.8" fill="rgba(214,0,0,0.85)"/>
<circle cx="313.7" cy="98.3" r="0.8" fill="rgba(214,0,0,0.85)"/>
<circle cx="328.7" cy="91.5" r="0.8" fill="rgba(214,0,0,0.85)"/>
<circle cx="344.8" cy="55.6" r="0.8" fill="rgba(214,0,0,0.85)"/>
<circle cx="313.9" cy="104.5" r="0.8" fill="rgba(214,0,0,0.85)"/>
<circle cx="328.6" cy="91.5" r="0.8" fill="rgba(214,0,0,0.85)"/>
<circle cx="344.6" cy="51.7" r="0.8" fill="rgba(214,0,0,0.85)"/>
<circle cx="314.0" cy="75.2" r="0.8" fill="rgba(214,0,0,0.85)"/>
<circle cx="329.5" cy="75.2" r="0.8" fill="rgba(214,0,0,0.85)"/>
<circle cx="344.2" cy="45.8" r="0.8" fill="rgba(214,0,0,0.85)"/>
<circle cx="314.0" cy="104.5" r="0.8" fill="rgba(214,0,0,0.85)"/>
<circle cx="329.5" cy="67.2" r="0.8" fill="rgba(214,0,0,0.85)"/>
<circle cx="344.5" cy="69.2" r="0.8" fill="rgba(214,0,0,0.85)"/>
<circle cx="313.7" cy="104.5" r="0.8" fill="rgba(214,0,0,0.85)"/>
<circle cx="328.7" cy="72.7" r="0.8" fill="rgba(214,0,0,0.85)"/>
<circle cx="345.1" cy="53.2" r="0.8" fill="rgba(214,0,0,0.85)"/>
<circle cx="313.9" cy="99.4" r="0.8" fill="rgba(214,0,0,0.85)"/>
<circle cx="328.8" cy="74.4" r="0.8" fill="rgba(214,0,0,0.85)"/>
<circle cx="345.2" cy="55.0" r="0.8" fill="rgba(214,0,0,0.85)"/>
<circle cx="314.0" cy="93.6" r="0.8" fill="rgba(214,0,0,0.85)"/>
<circle cx="329.6" cy="55.0" r="0.8" fill="rgba(214,0,0,0.85)"/>
<circle cx="344.5" cy="50.1" r="0.8" fill="rgba(214,0,0,0.85)"/>
<circle cx="313.9" cy="91.1" r="0.8" fill="rgba(214,0,0,0.85)"/>
<circle cx="329.1" cy="64.8" r="0.8" fill="rgba(214,0,0,0.85)"/>
<circle cx="344.2" cy="69.3" r="0.8" fill="rgba(214,0,0,0.85)"/>
<circle cx="314.2" cy="86.3" r="0.8" fill="rgba(214,0,0,0.85)"/>
<circle cx="329.7" cy="77.0" r="0.8" fill="rgba(214,0,0,0.85)"/>
<circle cx="345.0" cy="60.4" r="0.8" fill="rgba(214,0,0,0.85)"/>
<circle cx="313.5" cy="87.7" r="0.8" fill="rgba(214,0,0,0.85)"/>
<circle cx="328.9" cy="62.4" r="0.8" fill="rgba(214,0,0,0.85)"/>
<circle cx="344.1" cy="45.4" r="0.8" fill="rgba(214,0,0,0.85)"/>
<circle cx="313.8" cy="93.6" r="0.8" fill="rgba(214,0,0,0.85)"/>
<circle cx="329.2" cy="64.3" r="0.8" fill="rgba(214,0,0,0.85)"/>
<circle cx="344.2" cy="45.6" r="0.8" fill="rgba(214,0,0,0.85)"/>
<circle cx="313.7" cy="76.3" r="0.8" fill="rgba(214,0,0,0.85)"/>
<circle cx="329.3" cy="67.2" r="0.8" fill="rgba(214,0,0,0.85)"/>
<circle cx="344.1" cy="58.5" r="0.8" fill="rgba(214,0,0,0.85)"/>
<circle cx="314.2" cy="93.4" r="0.8" fill="rgba(214,0,0,0.85)"/>
<circle cx="329.3" cy="78.7" r="0.8" fill="rgba(214,0,0,0.85)"/>
<circle cx="344.3" cy="46.7" r="0.8" fill="rgba(214,0,0,0.85)"/>
<circle cx="313.7" cy="92.6" r="0.8" fill="rgba(214,0,0,0.85)"/>
<circle cx="329.7" cy="69.7" r="0.8" fill="rgba(214,0,0,0.85)"/>
<circle cx="345.1" cy="42.4" r="0.8" fill="rgba(214,0,0,0.85)"/>
<circle cx="312.8" cy="95.0" r="0.8" fill="rgba(214,0,0,0.85)"/>
<circle cx="329.2" cy="58.4" r="0.8" fill="rgba(214,0,0,0.85)"/>
<circle cx="344.8" cy="45.9" r="0.8" fill="rgba(214,0,0,0.85)"/>
<circle cx="313.9" cy="104.5" r="0.8" fill="rgba(214,0,0,0.85)"/>
<circle cx="328.7" cy="67.5" r="0.8" fill="rgba(214,0,0,0.85)"/>
<circle cx="344.4" cy="46.3" r="0.8" fill="rgba(214,0,0,0.85)"/>
<circle cx="312.9" cy="74.9" r="0.8" fill="rgba(214,0,0,0.85)"/>
<circle cx="328.7" cy="50.9" r="0.8" fill="rgba(214,0,0,0.85)"/>
<circle cx="344.5" cy="46.1" r="0.8" fill="rgba(214,0,0,0.85)"/>
<circle cx="313.1" cy="83.2" r="0.8" fill="rgba(214,0,0,0.85)"/>
<circle cx="329.8" cy="77.3" r="0.8" fill="rgba(214,0,0,0.85)"/>
<circle cx="344.4" cy="47.4" r="0.8" fill="rgba(214,0,0,0.85)"/>
<circle cx="313.6" cy="83.1" r="0.8" fill="rgba(214,0,0,0.85)"/>
<circle cx="329.8" cy="46.9" r="0.8" fill="rgba(214,0,0,0.85)"/>
<circle cx="344.4" cy="47.7" r="0.8" fill="rgba(214,0,0,0.85)"/>
<circle cx="313.7" cy="89.4" r="0.8" fill="rgba(214,0,0,0.85)"/>
<circle cx="329.9" cy="65.2" r="0.8" fill="rgba(214,0,0,0.85)"/>
<circle cx="344.9" cy="44.2" r="0.8" fill="rgba(214,0,0,0.85)"/>
<circle cx="313.6" cy="85.1" r="0.8" fill="rgba(214,0,0,0.85)"/>
<circle cx="329.6" cy="63.9" r="0.8" fill="rgba(214,0,0,0.85)"/>
<circle cx="344.9" cy="44.5" r="0.8" fill="rgba(214,0,0,0.85)"/>
<circle cx="313.4" cy="83.4" r="0.8" fill="rgba(214,0,0,0.85)"/>
<circle cx="329.7" cy="63.4" r="0.8" fill="rgba(214,0,0,0.85)"/>
<circle cx="345.2" cy="45.0" r="0.8" fill="rgba(214,0,0,0.85)"/>
<circle cx="313.2" cy="86.3" r="0.8" fill="rgba(214,0,0,0.85)"/>
<circle cx="328.7" cy="59.9" r="0.8" fill="rgba(214,0,0,0.85)"/>
<circle cx="344.1" cy="42.3" r="0.8" fill="rgba(214,0,0,0.85)"/>
<circle cx="313.9" cy="74.8" r="0.8" fill="rgba(214,0,0,0.85)"/>
<circle cx="328.8" cy="61.6" r="0.8" fill="rgba(214,0,0,0.85)"/>
<circle cx="344.3" cy="46.2" r="0.8" fill="rgba(214,0,0,0.85)"/>
<circle cx="313.0" cy="89.9" r="0.8" fill="rgba(214,0,0,0.85)"/>
<circle cx="328.7" cy="74.1" r="0.8" fill="rgba(214,0,0,0.85)"/>
<circle cx="344.2" cy="104.5" r="0.8" fill="rgba(214,0,0,0.85)"/>
<rect x="312.75" y="60.70" width="1.5" height="1.4" fill="rgba(245,160,0,0.9)"/>
<rect x="328.45" y="45.10" width="1.5" height="1.4" fill="rgba(245,160,0,0.9)"/>
<rect x="343.85" y="43.80" width="1.5" height="1.4" fill="rgba(245,160,0,0.9)"/>
<rect x="328.45" y="38.80" width="1.5" height="1.4" fill="rgba(245,160,0,0.9)"/>
<rect x="343.85" y="38.80" width="1.5" height="1.4" fill="rgba(245,160,0,0.9)"/>
<path d="M313.50,104.50 L329.20,80.00 L344.60,58.00" fill="none" stroke="#d20000" stroke-width="1.35" stroke-linejoin="round"/>
<path d="M313.50,54.90 L329.20,41.80 L344.60,45.20" fill="none" stroke="#f7a500" stroke-width="1.35" stroke-linejoin="round"/>
<rect x="312.70" y="54.15" width="1.6" height="1.5" fill="#f5a000"/>
<rect x="328.40" y="41.05" width="1.6" height="1.5" fill="#f5a000"/>
<rect x="343.80" y="44.45" width="1.6" height="1.5" fill="#f5a000"/>
<line x1="304.20" y1="29.15" x2="304.20" y2="107.90" stroke="#111" stroke-width="1.25"/>
<line x1="301.00" y1="32.75" x2="304.20" y2="32.75" stroke="#111" stroke-width="0.9"/>
<line x1="301.00" y1="44.70" x2="304.20" y2="44.70" stroke="#111" stroke-width="0.9"/>
<line x1="301.00" y1="56.65" x2="304.20" y2="56.65" stroke="#111" stroke-width="0.9"/>
<line x1="301.00" y1="62.62" x2="304.20" y2="62.62" stroke="#111" stroke-width="0.9"/>
<line x1="301.00" y1="68.60" x2="304.20" y2="68.60" stroke="#111" stroke-width="0.9"/>
<line x1="301.00" y1="80.55" x2="304.20" y2="80.55" stroke="#111" stroke-width="0.9"/>
<line x1="301.00" y1="107.30" x2="304.20" y2="107.30" stroke="#111" stroke-width="0.9"/>
<line x1="301.00" y1="107.30" x2="350.40" y2="107.30" stroke="#111" stroke-width="1.1"/>
<line x1="313.50" y1="107.30" x2="313.50" y2="110.30" stroke="#111" stroke-width="0.8"/>
<line x1="329.20" y1="107.30" x2="329.20" y2="110.30" stroke="#111" stroke-width="0.8"/>
<line x1="344.60" y1="107.30" x2="344.60" y2="110.30" stroke="#111" stroke-width="0.8"/>
<path d="M306.95,28.40 V27.00 Q306.95,26.60 307.35,26.60 H323.88 Q324.27,26.60 324.27,27.00 V28.40" fill="none" stroke="#383838" stroke-width="0.85"/>
<path d="M326.52,28.40 V27.00 Q326.52,26.60 326.92,26.60 H343.40 Q343.80,26.60 343.80,27.00 V28.40" fill="none" stroke="#383838" stroke-width="0.85"/>
<rect x="314.91" y="23.20" width="1.5" height="1.5" fill="#3a3a3a"/>
<rect x="334.46" y="23.20" width="1.5" height="1.5" fill="#3a3a3a"/>
<path d="M306.95,34.10 V32.70 Q306.95,32.30 307.35,32.30 H343.40 Q343.80,32.30 343.80,32.70 V34.10" fill="none" stroke="#383838" stroke-width="0.85"/>
<rect x="324.68" y="29.00" width="1.5" height="1.5" fill="#3a3a3a"/>
<line x1="360.70" y1="62.62" x2="407.00" y2="62.62" stroke="#d9d9d9" stroke-width="0.9"/>
<line x1="360.70" y1="80.55" x2="407.00" y2="80.55" stroke="#d9d9d9" stroke-width="0.9"/>
<path d="M370.1,104.5 L385.6,104.5 L400.6,104.5" fill="none" stroke="rgba(228,25,25,0.45)" stroke-width="0.55"/>
<path d="M369.7,104.5 L385.6,104.5 L401.4,104.5" fill="none" stroke="rgba(228,25,25,0.45)" stroke-width="0.55"/>
<path d="M370.2,104.5 L385.4,104.5 L401.5,91.3" fill="none" stroke="rgba(228,25,25,0.45)" stroke-width="0.55"/>
<path d="M370.5,104.5 L385.7,104.5 L401.7,104.5" fill="none" stroke="rgba(228,25,25,0.45)" stroke-width="0.55"/>
<path d="M369.7,104.5 L385.2,102.2 L401.5,86.2" fill="none" stroke="rgba(228,25,25,0.45)" stroke-width="0.55"/>
<path d="M370.6,104.5 L386.2,104.5 L400.7,104.5" fill="none" stroke="rgba(228,25,25,0.45)" stroke-width="0.55"/>
<path d="M370.3,104.5 L386.1,104.5 L400.7,94.7" fill="none" stroke="rgba(228,25,25,0.45)" stroke-width="0.55"/>
<path d="M370.5,104.5 L386.2,73.1 L400.9,104.5" fill="none" stroke="rgba(228,25,25,0.45)" stroke-width="0.55"/>
<path d="M370.2,104.5 L385.3,104.5 L400.8,104.5" fill="none" stroke="rgba(228,25,25,0.45)" stroke-width="0.55"/>
<path d="M369.3,104.5 L385.3,90.1 L401.8,96.5" fill="none" stroke="rgba(228,25,25,0.45)" stroke-width="0.55"/>
<path d="M369.4,104.5 L385.9,104.5 L401.7,85.4" fill="none" stroke="rgba(228,25,25,0.45)" stroke-width="0.55"/>
<path d="M369.9,104.5 L385.4,104.5 L401.7,88.1" fill="none" stroke="rgba(228,25,25,0.45)" stroke-width="0.55"/>
<path d="M370.5,104.5 L385.6,96.3 L400.7,64.2" fill="none" stroke="rgba(228,25,25,0.45)" stroke-width="0.55"/>
<path d="M370.1,104.5 L385.8,101.7 L400.8,63.8" fill="none" stroke="rgba(228,25,25,0.45)" stroke-width="0.55"/>
<path d="M370.4,104.5 L385.5,103.0 L401.9,80.8" fill="none" stroke="rgba(228,25,25,0.45)" stroke-width="0.55"/>
<path d="M370.1,104.5 L385.4,100.3 L402.0,97.9" fill="none" stroke="rgba(228,25,25,0.45)" stroke-width="0.55"/>
<path d="M369.8,104.5 L385.2,91.8 L400.7,61.2" fill="none" stroke="rgba(228,25,25,0.45)" stroke-width="0.55"/>
<path d="M369.6,104.5 L385.5,63.8 L401.2,68.9" fill="none" stroke="rgba(228,25,25,0.45)" stroke-width="0.55"/>
<path d="M370.7,104.5 L386.0,94.8 L401.3,78.9" fill="none" stroke="rgba(228,25,25,0.45)" stroke-width="0.55"/>
<path d="M370.3,104.5 L386.3,92.2 L401.9,64.2" fill="none" stroke="rgba(228,25,25,0.45)" stroke-width="0.55"/>
<path d="M369.7,101.5 L386.3,52.9 L400.6,49.1" fill="none" stroke="rgba(228,25,25,0.45)" stroke-width="0.55"/>
<path d="M370.0,100.1 L386.0,71.6 L401.1,66.7" fill="none" stroke="rgba(228,25,25,0.45)" stroke-width="0.55"/>
<path d="M370.1,97.7 L385.4,88.1 L402.0,59.3" fill="none" stroke="rgba(228,25,25,0.45)" stroke-width="0.55"/>
<path d="M370.3,99.7 L385.7,60.8 L401.1,48.0" fill="none" stroke="rgba(228,25,25,0.45)" stroke-width="0.55"/>
<path d="M370.6,95.2 L385.5,66.7 L400.6,63.7" fill="none" stroke="rgba(228,25,25,0.45)" stroke-width="0.55"/>
<path d="M370.6,98.7 L385.2,67.5 L401.9,62.8" fill="none" stroke="rgba(228,25,25,0.45)" stroke-width="0.55"/>
<path d="M370.0,96.5 L385.3,71.8 L400.7,57.0" fill="none" stroke="rgba(228,25,25,0.45)" stroke-width="0.55"/>
<path d="M369.6,90.2 L386.3,54.1 L401.9,96.4" fill="none" stroke="rgba(228,25,25,0.45)" stroke-width="0.55"/>
<path d="M370.6,91.7 L385.5,52.7 L401.3,56.5" fill="none" stroke="rgba(228,25,25,0.45)" stroke-width="0.55"/>
<path d="M370.0,90.6 L385.3,67.3 L401.8,47.8" fill="none" stroke="rgba(228,25,25,0.45)" stroke-width="0.55"/>
<path d="M370.00,92.50 L385.70,66.80 L401.30,60.40" fill="none" stroke="rgba(250,170,20,0.6)" stroke-width="0.6"/>
<circle cx="370.1" cy="104.5" r="0.8" fill="rgba(214,0,0,0.85)"/>
<circle cx="385.6" cy="104.5" r="0.8" fill="rgba(214,0,0,0.85)"/>
<circle cx="400.6" cy="104.5" r="0.8" fill="rgba(214,0,0,0.85)"/>
<circle cx="369.7" cy="104.5" r="0.8" fill="rgba(214,0,0,0.85)"/>
<circle cx="385.6" cy="104.5" r="0.8" fill="rgba(214,0,0,0.85)"/>
<circle cx="401.4" cy="104.5" r="0.8" fill="rgba(214,0,0,0.85)"/>
<circle cx="370.2" cy="104.5" r="0.8" fill="rgba(214,0,0,0.85)"/>
<circle cx="385.4" cy="104.5" r="0.8" fill="rgba(214,0,0,0.85)"/>
<circle cx="401.5" cy="91.3" r="0.8" fill="rgba(214,0,0,0.85)"/>
<circle cx="370.5" cy="104.5" r="0.8" fill="rgba(214,0,0,0.85)"/>
<circle cx="385.7" cy="104.5" r="0.8" fill="rgba(214,0,0,0.85)"/>
<circle cx="401.7" cy="104.5" r="0.8" fill="rgba(214,0,0,0.85)"/>
<circle cx="369.7" cy="104.5" r="0.8" fill="rgba(214,0,0,0.85)"/>
<circle cx="385.2" cy="102.2" r="0.8" fill="rgba(214,0,0,0.85)"/>
<circle cx="401.5" cy="86.2" r="0.8" fill="rgba(214,0,0,0.85)"/>
<circle cx="370.6" cy="104.5" r="0.8" fill="rgba(214,0,0,0.85)"/>
<circle cx="386.2" cy="104.5" r="0.8" fill="rgba(214,0,0,0.85)"/>
<circle cx="400.7" cy="104.5" r="0.8" fill="rgba(214,0,0,0.85)"/>
<circle cx="370.3" cy="104.5" r="0.8" fill="rgba(214,0,0,0.85)"/>
<circle cx="386.1" cy="104.5" r="0.8" fill="rgba(214,0,0,0.85)"/>
<circle cx="400.7" cy="94.7" r="0.8" fill="rgba(214,0,0,0.85)"/>
<circle cx="370.5" cy="104.5" r="0.8" fill="rgba(214,0,0,0.85)"/>
<circle cx="386.2" cy="73.1" r="0.8" fill="rgba(214,0,0,0.85)"/>
<circle cx="400.9" cy="104.5" r="0.8" fill="rgba(214,0,0,0.85)"/>
<circle cx="370.2" cy="104.5" r="0.8" fill="rgba(214,0,0,0.85)"/>
<circle cx="385.3" cy="104.5" r="0.8" fill="rgba(214,0,0,0.85)"/>
<circle cx="400.8" cy="104.5" r="0.8" fill="rgba(214,0,0,0.85)"/>
<circle cx="369.3" cy="104.5" r="0.8" fill="rgba(214,0,0,0.85)"/>
<circle cx="385.3" cy="90.1" r="0.8" fill="rgba(214,0,0,0.85)"/>
<circle cx="401.8" cy="96.5" r="0.8" fill="rgba(214,0,0,0.85)"/>
<circle cx="369.4" cy="104.5" r="0.8" fill="rgba(214,0,0,0.85)"/>
<circle cx="385.9" cy="104.5" r="0.8" fill="rgba(214,0,0,0.85)"/>
<circle cx="401.7" cy="85.4" r="0.8" fill="rgba(214,0,0,0.85)"/>
<circle cx="369.9" cy="104.5" r="0.8" fill="rgba(214,0,0,0.85)"/>
<circle cx="385.4" cy="104.5" r="0.8" fill="rgba(214,0,0,0.85)"/>
<circle cx="401.7" cy="88.1" r="0.8" fill="rgba(214,0,0,0.85)"/>
<circle cx="370.5" cy="104.5" r="0.8" fill="rgba(214,0,0,0.85)"/>
<circle cx="385.6" cy="96.3" r="0.8" fill="rgba(214,0,0,0.85)"/>
<circle cx="400.7" cy="64.2" r="0.8" fill="rgba(214,0,0,0.85)"/>
<circle cx="370.1" cy="104.5" r="0.8" fill="rgba(214,0,0,0.85)"/>
<circle cx="385.8" cy="101.7" r="0.8" fill="rgba(214,0,0,0.85)"/>
<circle cx="400.8" cy="63.8" r="0.8" fill="rgba(214,0,0,0.85)"/>
<circle cx="370.4" cy="104.5" r="0.8" fill="rgba(214,0,0,0.85)"/>
<circle cx="385.5" cy="103.0" r="0.8" fill="rgba(214,0,0,0.85)"/>
<circle cx="401.9" cy="80.8" r="0.8" fill="rgba(214,0,0,0.85)"/>
<circle cx="370.1" cy="104.5" r="0.8" fill="rgba(214,0,0,0.85)"/>
<circle cx="385.4" cy="100.3" r="0.8" fill="rgba(214,0,0,0.85)"/>
<circle cx="402.0" cy="97.9" r="0.8" fill="rgba(214,0,0,0.85)"/>
<circle cx="369.8" cy="104.5" r="0.8" fill="rgba(214,0,0,0.85)"/>
<circle cx="385.2" cy="91.8" r="0.8" fill="rgba(214,0,0,0.85)"/>
<circle cx="400.7" cy="61.2" r="0.8" fill="rgba(214,0,0,0.85)"/>
<circle cx="369.6" cy="104.5" r="0.8" fill="rgba(214,0,0,0.85)"/>
<circle cx="385.5" cy="63.8" r="0.8" fill="rgba(214,0,0,0.85)"/>
<circle cx="401.2" cy="68.9" r="0.8" fill="rgba(214,0,0,0.85)"/>
<circle cx="370.7" cy="104.5" r="0.8" fill="rgba(214,0,0,0.85)"/>
<circle cx="386.0" cy="94.8" r="0.8" fill="rgba(214,0,0,0.85)"/>
<circle cx="401.3" cy="78.9" r="0.8" fill="rgba(214,0,0,0.85)"/>
<circle cx="370.3" cy="104.5" r="0.8" fill="rgba(214,0,0,0.85)"/>
<circle cx="386.3" cy="92.2" r="0.8" fill="rgba(214,0,0,0.85)"/>
<circle cx="401.9" cy="64.2" r="0.8" fill="rgba(214,0,0,0.85)"/>
<circle cx="369.7" cy="101.5" r="0.8" fill="rgba(214,0,0,0.85)"/>
<circle cx="386.3" cy="52.9" r="0.8" fill="rgba(214,0,0,0.85)"/>
<circle cx="400.6" cy="49.1" r="0.8" fill="rgba(214,0,0,0.85)"/>
<circle cx="370.0" cy="100.1" r="0.8" fill="rgba(214,0,0,0.85)"/>
<circle cx="386.0" cy="71.6" r="0.8" fill="rgba(214,0,0,0.85)"/>
<circle cx="401.1" cy="66.7" r="0.8" fill="rgba(214,0,0,0.85)"/>
<circle cx="370.1" cy="97.7" r="0.8" fill="rgba(214,0,0,0.85)"/>
<circle cx="385.4" cy="88.1" r="0.8" fill="rgba(214,0,0,0.85)"/>
<circle cx="402.0" cy="59.3" r="0.8" fill="rgba(214,0,0,0.85)"/>
<circle cx="370.3" cy="99.7" r="0.8" fill="rgba(214,0,0,0.85)"/>
<circle cx="385.7" cy="60.8" r="0.8" fill="rgba(214,0,0,0.85)"/>
<circle cx="401.1" cy="48.0" r="0.8" fill="rgba(214,0,0,0.85)"/>
<circle cx="370.6" cy="95.2" r="0.8" fill="rgba(214,0,0,0.85)"/>
<circle cx="385.5" cy="66.7" r="0.8" fill="rgba(214,0,0,0.85)"/>
<circle cx="400.6" cy="63.7" r="0.8" fill="rgba(214,0,0,0.85)"/>
<circle cx="370.6" cy="98.7" r="0.8" fill="rgba(214,0,0,0.85)"/>
<circle cx="385.2" cy="67.5" r="0.8" fill="rgba(214,0,0,0.85)"/>
<circle cx="401.9" cy="62.8" r="0.8" fill="rgba(214,0,0,0.85)"/>
<circle cx="370.0" cy="96.5" r="0.8" fill="rgba(214,0,0,0.85)"/>
<circle cx="385.3" cy="71.8" r="0.8" fill="rgba(214,0,0,0.85)"/>
<circle cx="400.7" cy="57.0" r="0.8" fill="rgba(214,0,0,0.85)"/>
<circle cx="369.6" cy="90.2" r="0.8" fill="rgba(214,0,0,0.85)"/>
<circle cx="386.3" cy="54.1" r="0.8" fill="rgba(214,0,0,0.85)"/>
<circle cx="401.9" cy="96.4" r="0.8" fill="rgba(214,0,0,0.85)"/>
<circle cx="370.6" cy="91.7" r="0.8" fill="rgba(214,0,0,0.85)"/>
<circle cx="385.5" cy="52.7" r="0.8" fill="rgba(214,0,0,0.85)"/>
<circle cx="401.3" cy="56.5" r="0.8" fill="rgba(214,0,0,0.85)"/>
<circle cx="370.0" cy="90.6" r="0.8" fill="rgba(214,0,0,0.85)"/>
<circle cx="385.3" cy="67.3" r="0.8" fill="rgba(214,0,0,0.85)"/>
<circle cx="401.8" cy="47.8" r="0.8" fill="rgba(214,0,0,0.85)"/>
<rect x="369.25" y="91.80" width="1.5" height="1.4" fill="rgba(245,160,0,0.9)"/>
<rect x="384.95" y="66.10" width="1.5" height="1.4" fill="rgba(245,160,0,0.9)"/>
<rect x="400.55" y="59.70" width="1.5" height="1.4" fill="rgba(245,160,0,0.9)"/>
<path d="M370.00,104.50 L385.70,104.50 L401.30,87.00" fill="none" stroke="#d20000" stroke-width="1.35" stroke-linejoin="round"/>
<path d="M370.00,91.00 L385.70,68.00 L401.30,62.00" fill="none" stroke="#f7a500" stroke-width="1.35" stroke-linejoin="round"/>
<rect x="369.20" y="90.25" width="1.6" height="1.5" fill="#f5a000"/>
<rect x="384.90" y="67.25" width="1.6" height="1.5" fill="#f5a000"/>
<rect x="400.50" y="61.25" width="1.6" height="1.5" fill="#f5a000"/>
<line x1="360.70" y1="29.15" x2="360.70" y2="107.90" stroke="#111" stroke-width="1.25"/>
<line x1="357.50" y1="32.75" x2="360.70" y2="32.75" stroke="#111" stroke-width="0.9"/>
<line x1="357.50" y1="44.70" x2="360.70" y2="44.70" stroke="#111" stroke-width="0.9"/>
<line x1="357.50" y1="56.65" x2="360.70" y2="56.65" stroke="#111" stroke-width="0.9"/>
<line x1="357.50" y1="62.62" x2="360.70" y2="62.62" stroke="#111" stroke-width="0.9"/>
<line x1="357.50" y1="68.60" x2="360.70" y2="68.60" stroke="#111" stroke-width="0.9"/>
<line x1="357.50" y1="80.55" x2="360.70" y2="80.55" stroke="#111" stroke-width="0.9"/>
<line x1="357.50" y1="107.30" x2="360.70" y2="107.30" stroke="#111" stroke-width="0.9"/>
<line x1="357.50" y1="107.30" x2="407.00" y2="107.30" stroke="#111" stroke-width="1.1"/>
<line x1="370.00" y1="107.30" x2="370.00" y2="110.30" stroke="#111" stroke-width="0.8"/>
<line x1="385.70" y1="107.30" x2="385.70" y2="110.30" stroke="#111" stroke-width="0.8"/>
<line x1="401.30" y1="107.30" x2="401.30" y2="110.30" stroke="#111" stroke-width="0.8"/>
<path d="M365.20,28.40 V27.00 Q365.20,26.60 365.60,26.60 H382.10 Q382.50,26.60 382.50,27.00 V28.40" fill="none" stroke="#383838" stroke-width="0.85"/>
<path d="M384.75,28.40 V27.00 Q384.75,26.60 385.15,26.60 H401.60 Q402.00,26.60 402.00,27.00 V28.40" fill="none" stroke="#383838" stroke-width="0.85"/>
<rect x="373.15" y="23.20" width="1.5" height="1.5" fill="#3a3a3a"/>
<rect x="392.68" y="23.20" width="1.5" height="1.5" fill="#3a3a3a"/>
<path d="M365.20,34.10 V32.70 Q365.20,32.30 365.60,32.30 H401.60 Q402.00,32.30 402.00,32.70 V34.10" fill="none" stroke="#383838" stroke-width="0.85"/>
<rect x="382.90" y="29.00" width="1.5" height="1.5" fill="#3a3a3a"/>
<line x1="449.80" y1="63.47" x2="496.00" y2="63.47" stroke="#d9d9d9" stroke-width="0.9"/>
<line x1="449.80" y1="81.10" x2="496.00" y2="81.10" stroke="#d9d9d9" stroke-width="0.9"/>
<path d="M459.2,103.5 L473.8,70.1 L489.9,57.4" fill="none" stroke="rgba(228,25,25,0.45)" stroke-width="0.55"/>
<path d="M459.1,104.3 L474.1,70.1 L489.0,60.0" fill="none" stroke="rgba(228,25,25,0.45)" stroke-width="0.55"/>
<path d="M459.0,101.2 L473.9,66.5 L489.9,56.9" fill="none" stroke="rgba(228,25,25,0.45)" stroke-width="0.55"/>
<path d="M459.7,104.3 L474.6,63.9 L489.3,55.1" fill="none" stroke="rgba(228,25,25,0.45)" stroke-width="0.55"/>
<path d="M459.5,100.2 L474.3,65.9 L489.9,59.1" fill="none" stroke="rgba(228,25,25,0.45)" stroke-width="0.55"/>
<path d="M459.6,102.1 L473.8,65.6 L490.3,55.2" fill="none" stroke="rgba(228,25,25,0.45)" stroke-width="0.55"/>
<path d="M459.2,101.1 L474.5,66.4 L488.9,55.0" fill="none" stroke="rgba(228,25,25,0.45)" stroke-width="0.55"/>
<path d="M459.3,101.0 L475.0,62.7 L489.0,56.1" fill="none" stroke="rgba(228,25,25,0.45)" stroke-width="0.55"/>
<path d="M458.6,104.3 L475.0,63.5 L490.2,54.2" fill="none" stroke="rgba(228,25,25,0.45)" stroke-width="0.55"/>
<path d="M459.6,100.4 L474.8,65.2 L489.3,56.4" fill="none" stroke="rgba(228,25,25,0.45)" stroke-width="0.55"/>
<path d="M459.7,103.8 L474.0,62.1 L489.4,55.7" fill="none" stroke="rgba(228,25,25,0.45)" stroke-width="0.55"/>
<path d="M459.7,101.8 L474.9,62.2 L490.0,54.9" fill="none" stroke="rgba(228,25,25,0.45)" stroke-width="0.55"/>
<path d="M459.6,97.1 L474.0,64.2 L490.0,52.8" fill="none" stroke="rgba(228,25,25,0.45)" stroke-width="0.55"/>
<path d="M458.4,102.3 L474.9,57.0 L489.5,53.3" fill="none" stroke="rgba(228,25,25,0.45)" stroke-width="0.55"/>
<path d="M459.4,97.7 L474.7,51.4 L489.4,52.9" fill="none" stroke="rgba(228,25,25,0.45)" stroke-width="0.55"/>
<path d="M459.3,99.0 L474.1,59.0 L489.0,53.6" fill="none" stroke="rgba(228,25,25,0.45)" stroke-width="0.55"/>
<path d="M459.7,104.3 L474.7,58.9 L490.2,52.7" fill="none" stroke="rgba(228,25,25,0.45)" stroke-width="0.55"/>
<path d="M459.0,103.4 L474.8,65.0 L489.9,55.5" fill="none" stroke="rgba(228,25,25,0.45)" stroke-width="0.55"/>
<path d="M458.6,96.8 L473.7,61.7 L489.2,52.1" fill="none" stroke="rgba(228,25,25,0.45)" stroke-width="0.55"/>
<path d="M459.4,95.0 L474.7,62.2 L490.2,55.2" fill="none" stroke="rgba(228,25,25,0.45)" stroke-width="0.55"/>
<path d="M458.9,101.1 L473.7,61.6 L489.5,53.6" fill="none" stroke="rgba(228,25,25,0.45)" stroke-width="0.55"/>
<path d="M458.6,94.8 L474.5,60.8 L489.8,51.5" fill="none" stroke="rgba(228,25,25,0.45)" stroke-width="0.55"/>
<path d="M458.4,95.1 L474.9,65.8 L489.4,52.4" fill="none" stroke="rgba(228,25,25,0.45)" stroke-width="0.55"/>
<path d="M459.7,98.0 L474.6,57.6 L489.5,52.4" fill="none" stroke="rgba(228,25,25,0.45)" stroke-width="0.55"/>
<path d="M459.2,93.9 L474.9,57.2 L489.3,50.4" fill="none" stroke="rgba(228,25,25,0.45)" stroke-width="0.55"/>
<path d="M458.7,95.7 L473.9,62.9 L489.7,53.6" fill="none" stroke="rgba(228,25,25,0.45)" stroke-width="0.55"/>
<path d="M459.2,89.9 L474.4,47.7 L490.2,50.8" fill="none" stroke="rgba(228,25,25,0.45)" stroke-width="0.55"/>
<path d="M458.9,92.0 L474.5,58.0 L489.7,50.0" fill="none" stroke="rgba(228,25,25,0.45)" stroke-width="0.55"/>
<path d="M458.5,91.7 L475.0,57.6 L489.4,51.2" fill="none" stroke="rgba(228,25,25,0.45)" stroke-width="0.55"/>
<path d="M459.0,92.7 L474.2,56.9 L490.2,51.6" fill="none" stroke="rgba(228,25,25,0.45)" stroke-width="0.55"/>
<path d="M458.5,97.0 L473.9,56.5 L489.1,50.4" fill="none" stroke="rgba(228,25,25,0.45)" stroke-width="0.55"/>
<path d="M459.5,93.5 L473.8,57.1 L489.5,50.6" fill="none" stroke="rgba(228,25,25,0.45)" stroke-width="0.55"/>
<path d="M459.3,84.4 L474.2,55.8 L490.1,51.6" fill="none" stroke="rgba(228,25,25,0.45)" stroke-width="0.55"/>
<path d="M459.2,94.6 L473.7,52.5 L489.1,51.8" fill="none" stroke="rgba(228,25,25,0.45)" stroke-width="0.55"/>
<path d="M459.1,91.4 L473.9,53.7 L489.8,52.6" fill="none" stroke="rgba(228,25,25,0.45)" stroke-width="0.55"/>
<path d="M459.5,92.0 L473.8,57.5 L489.9,48.2" fill="none" stroke="rgba(228,25,25,0.45)" stroke-width="0.55"/>
<path d="M459.7,87.4 L474.8,52.3 L489.3,47.9" fill="none" stroke="rgba(228,25,25,0.45)" stroke-width="0.55"/>
<path d="M459.1,93.2 L474.4,56.0 L489.5,48.1" fill="none" stroke="rgba(228,25,25,0.45)" stroke-width="0.55"/>
<path d="M458.9,78.0 L474.3,54.7 L489.9,48.1" fill="none" stroke="rgba(228,25,25,0.45)" stroke-width="0.55"/>
<path d="M459.1,76.7 L474.1,55.4 L489.7,50.8" fill="none" stroke="rgba(228,25,25,0.45)" stroke-width="0.55"/>
<path d="M474.7,40.8 L489.4,40.8" fill="none" stroke="rgba(228,25,25,0.45)" stroke-width="0.55"/>
<path d="M459.10,70.50 L474.40,47.00 L489.60,46.00" fill="none" stroke="rgba(250,170,20,0.6)" stroke-width="0.6"/>
<circle cx="459.2" cy="103.5" r="0.8" fill="rgba(214,0,0,0.85)"/>
<circle cx="473.8" cy="70.1" r="0.8" fill="rgba(214,0,0,0.85)"/>
<circle cx="489.9" cy="57.4" r="0.8" fill="rgba(214,0,0,0.85)"/>
<circle cx="459.1" cy="104.3" r="0.8" fill="rgba(214,0,0,0.85)"/>
<circle cx="474.1" cy="70.1" r="0.8" fill="rgba(214,0,0,0.85)"/>
<circle cx="489.0" cy="60.0" r="0.8" fill="rgba(214,0,0,0.85)"/>
<circle cx="459.0" cy="101.2" r="0.8" fill="rgba(214,0,0,0.85)"/>
<circle cx="473.9" cy="66.5" r="0.8" fill="rgba(214,0,0,0.85)"/>
<circle cx="489.9" cy="56.9" r="0.8" fill="rgba(214,0,0,0.85)"/>
<circle cx="459.7" cy="104.3" r="0.8" fill="rgba(214,0,0,0.85)"/>
<circle cx="474.6" cy="63.9" r="0.8" fill="rgba(214,0,0,0.85)"/>
<circle cx="489.3" cy="55.1" r="0.8" fill="rgba(214,0,0,0.85)"/>
<circle cx="459.5" cy="100.2" r="0.8" fill="rgba(214,0,0,0.85)"/>
<circle cx="474.3" cy="65.9" r="0.8" fill="rgba(214,0,0,0.85)"/>
<circle cx="489.9" cy="59.1" r="0.8" fill="rgba(214,0,0,0.85)"/>
<circle cx="459.6" cy="102.1" r="0.8" fill="rgba(214,0,0,0.85)"/>
<circle cx="473.8" cy="65.6" r="0.8" fill="rgba(214,0,0,0.85)"/>
<circle cx="490.3" cy="55.2" r="0.8" fill="rgba(214,0,0,0.85)"/>
<circle cx="459.2" cy="101.1" r="0.8" fill="rgba(214,0,0,0.85)"/>
<circle cx="474.5" cy="66.4" r="0.8" fill="rgba(214,0,0,0.85)"/>
<circle cx="488.9" cy="55.0" r="0.8" fill="rgba(214,0,0,0.85)"/>
<circle cx="459.3" cy="101.0" r="0.8" fill="rgba(214,0,0,0.85)"/>
<circle cx="475.0" cy="62.7" r="0.8" fill="rgba(214,0,0,0.85)"/>
<circle cx="489.0" cy="56.1" r="0.8" fill="rgba(214,0,0,0.85)"/>
<circle cx="458.6" cy="104.3" r="0.8" fill="rgba(214,0,0,0.85)"/>
<circle cx="475.0" cy="63.5" r="0.8" fill="rgba(214,0,0,0.85)"/>
<circle cx="490.2" cy="54.2" r="0.8" fill="rgba(214,0,0,0.85)"/>
<circle cx="459.6" cy="100.4" r="0.8" fill="rgba(214,0,0,0.85)"/>
<circle cx="474.8" cy="65.2" r="0.8" fill="rgba(214,0,0,0.85)"/>
<circle cx="489.3" cy="56.4" r="0.8" fill="rgba(214,0,0,0.85)"/>
<circle cx="459.7" cy="103.8" r="0.8" fill="rgba(214,0,0,0.85)"/>
<circle cx="474.0" cy="62.1" r="0.8" fill="rgba(214,0,0,0.85)"/>
<circle cx="489.4" cy="55.7" r="0.8" fill="rgba(214,0,0,0.85)"/>
<circle cx="459.7" cy="101.8" r="0.8" fill="rgba(214,0,0,0.85)"/>
<circle cx="474.9" cy="62.2" r="0.8" fill="rgba(214,0,0,0.85)"/>
<circle cx="490.0" cy="54.9" r="0.8" fill="rgba(214,0,0,0.85)"/>
<circle cx="459.6" cy="97.1" r="0.8" fill="rgba(214,0,0,0.85)"/>
<circle cx="474.0" cy="64.2" r="0.8" fill="rgba(214,0,0,0.85)"/>
<circle cx="490.0" cy="52.8" r="0.8" fill="rgba(214,0,0,0.85)"/>
<circle cx="458.4" cy="102.3" r="0.8" fill="rgba(214,0,0,0.85)"/>
<circle cx="474.9" cy="57.0" r="0.8" fill="rgba(214,0,0,0.85)"/>
<circle cx="489.5" cy="53.3" r="0.8" fill="rgba(214,0,0,0.85)"/>
<circle cx="459.4" cy="97.7" r="0.8" fill="rgba(214,0,0,0.85)"/>
<circle cx="474.7" cy="51.4" r="0.8" fill="rgba(214,0,0,0.85)"/>
<circle cx="489.4" cy="52.9" r="0.8" fill="rgba(214,0,0,0.85)"/>
<circle cx="459.3" cy="99.0" r="0.8" fill="rgba(214,0,0,0.85)"/>
<circle cx="474.1" cy="59.0" r="0.8" fill="rgba(214,0,0,0.85)"/>
<circle cx="489.0" cy="53.6" r="0.8" fill="rgba(214,0,0,0.85)"/>
<circle cx="459.7" cy="104.3" r="0.8" fill="rgba(214,0,0,0.85)"/>
<circle cx="474.7" cy="58.9" r="0.8" fill="rgba(214,0,0,0.85)"/>
<circle cx="490.2" cy="52.7" r="0.8" fill="rgba(214,0,0,0.85)"/>
<circle cx="459.0" cy="103.4" r="0.8" fill="rgba(214,0,0,0.85)"/>
<circle cx="474.8" cy="65.0" r="0.8" fill="rgba(214,0,0,0.85)"/>
<circle cx="489.9" cy="55.5" r="0.8" fill="rgba(214,0,0,0.85)"/>
<circle cx="458.6" cy="96.8" r="0.8" fill="rgba(214,0,0,0.85)"/>
<circle cx="473.7" cy="61.7" r="0.8" fill="rgba(214,0,0,0.85)"/>
<circle cx="489.2" cy="52.1" r="0.8" fill="rgba(214,0,0,0.85)"/>
<circle cx="459.4" cy="95.0" r="0.8" fill="rgba(214,0,0,0.85)"/>
<circle cx="474.7" cy="62.2" r="0.8" fill="rgba(214,0,0,0.85)"/>
<circle cx="490.2" cy="55.2" r="0.8" fill="rgba(214,0,0,0.85)"/>
<circle cx="458.9" cy="101.1" r="0.8" fill="rgba(214,0,0,0.85)"/>
<circle cx="473.7" cy="61.6" r="0.8" fill="rgba(214,0,0,0.85)"/>
<circle cx="489.5" cy="53.6" r="0.8" fill="rgba(214,0,0,0.85)"/>
<circle cx="458.6" cy="94.8" r="0.8" fill="rgba(214,0,0,0.85)"/>
<circle cx="474.5" cy="60.8" r="0.8" fill="rgba(214,0,0,0.85)"/>
<circle cx="489.8" cy="51.5" r="0.8" fill="rgba(214,0,0,0.85)"/>
<circle cx="458.4" cy="95.1" r="0.8" fill="rgba(214,0,0,0.85)"/>
<circle cx="474.9" cy="65.8" r="0.8" fill="rgba(214,0,0,0.85)"/>
<circle cx="489.4" cy="52.4" r="0.8" fill="rgba(214,0,0,0.85)"/>
<circle cx="459.7" cy="98.0" r="0.8" fill="rgba(214,0,0,0.85)"/>
<circle cx="474.6" cy="57.6" r="0.8" fill="rgba(214,0,0,0.85)"/>
<circle cx="489.5" cy="52.4" r="0.8" fill="rgba(214,0,0,0.85)"/>
<circle cx="459.2" cy="93.9" r="0.8" fill="rgba(214,0,0,0.85)"/>
<circle cx="474.9" cy="57.2" r="0.8" fill="rgba(214,0,0,0.85)"/>
<circle cx="489.3" cy="50.4" r="0.8" fill="rgba(214,0,0,0.85)"/>
<circle cx="458.7" cy="95.7" r="0.8" fill="rgba(214,0,0,0.85)"/>
<circle cx="473.9" cy="62.9" r="0.8" fill="rgba(214,0,0,0.85)"/>
<circle cx="489.7" cy="53.6" r="0.8" fill="rgba(214,0,0,0.85)"/>
<circle cx="459.2" cy="89.9" r="0.8" fill="rgba(214,0,0,0.85)"/>
<circle cx="474.4" cy="47.7" r="0.8" fill="rgba(214,0,0,0.85)"/>
<circle cx="490.2" cy="50.8" r="0.8" fill="rgba(214,0,0,0.85)"/>
<circle cx="458.9" cy="92.0" r="0.8" fill="rgba(214,0,0,0.85)"/>
<circle cx="474.5" cy="58.0" r="0.8" fill="rgba(214,0,0,0.85)"/>
<circle cx="489.7" cy="50.0" r="0.8" fill="rgba(214,0,0,0.85)"/>
<circle cx="458.5" cy="91.7" r="0.8" fill="rgba(214,0,0,0.85)"/>
<circle cx="475.0" cy="57.6" r="0.8" fill="rgba(214,0,0,0.85)"/>
<circle cx="489.4" cy="51.2" r="0.8" fill="rgba(214,0,0,0.85)"/>
<circle cx="459.0" cy="92.7" r="0.8" fill="rgba(214,0,0,0.85)"/>
<circle cx="474.2" cy="56.9" r="0.8" fill="rgba(214,0,0,0.85)"/>
<circle cx="490.2" cy="51.6" r="0.8" fill="rgba(214,0,0,0.85)"/>
<circle cx="458.5" cy="97.0" r="0.8" fill="rgba(214,0,0,0.85)"/>
<circle cx="473.9" cy="56.5" r="0.8" fill="rgba(214,0,0,0.85)"/>
<circle cx="489.1" cy="50.4" r="0.8" fill="rgba(214,0,0,0.85)"/>
<circle cx="459.5" cy="93.5" r="0.8" fill="rgba(214,0,0,0.85)"/>
<circle cx="473.8" cy="57.1" r="0.8" fill="rgba(214,0,0,0.85)"/>
<circle cx="489.5" cy="50.6" r="0.8" fill="rgba(214,0,0,0.85)"/>
<circle cx="459.3" cy="84.4" r="0.8" fill="rgba(214,0,0,0.85)"/>
<circle cx="474.2" cy="55.8" r="0.8" fill="rgba(214,0,0,0.85)"/>
<circle cx="490.1" cy="51.6" r="0.8" fill="rgba(214,0,0,0.85)"/>
<circle cx="459.2" cy="94.6" r="0.8" fill="rgba(214,0,0,0.85)"/>
<circle cx="473.7" cy="52.5" r="0.8" fill="rgba(214,0,0,0.85)"/>
<circle cx="489.1" cy="51.8" r="0.8" fill="rgba(214,0,0,0.85)"/>
<circle cx="459.1" cy="91.4" r="0.8" fill="rgba(214,0,0,0.85)"/>
<circle cx="473.9" cy="53.7" r="0.8" fill="rgba(214,0,0,0.85)"/>
<circle cx="489.8" cy="52.6" r="0.8" fill="rgba(214,0,0,0.85)"/>
<circle cx="459.5" cy="92.0" r="0.8" fill="rgba(214,0,0,0.85)"/>
<circle cx="473.8" cy="57.5" r="0.8" fill="rgba(214,0,0,0.85)"/>
<circle cx="489.9" cy="48.2" r="0.8" fill="rgba(214,0,0,0.85)"/>
<circle cx="459.7" cy="87.4" r="0.8" fill="rgba(214,0,0,0.85)"/>
<circle cx="474.8" cy="52.3" r="0.8" fill="rgba(214,0,0,0.85)"/>
<circle cx="489.3" cy="47.9" r="0.8" fill="rgba(214,0,0,0.85)"/>
<circle cx="459.1" cy="93.2" r="0.8" fill="rgba(214,0,0,0.85)"/>
<circle cx="474.4" cy="56.0" r="0.8" fill="rgba(214,0,0,0.85)"/>
<circle cx="489.5" cy="48.1" r="0.8" fill="rgba(214,0,0,0.85)"/>
<circle cx="458.9" cy="78.0" r="0.8" fill="rgba(214,0,0,0.85)"/>
<circle cx="474.3" cy="54.7" r="0.8" fill="rgba(214,0,0,0.85)"/>
<circle cx="489.9" cy="48.1" r="0.8" fill="rgba(214,0,0,0.85)"/>
<circle cx="459.1" cy="76.7" r="0.8" fill="rgba(214,0,0,0.85)"/>
<circle cx="474.1" cy="55.4" r="0.8" fill="rgba(214,0,0,0.85)"/>
<circle cx="489.7" cy="50.8" r="0.8" fill="rgba(214,0,0,0.85)"/>
<circle cx="474.7" cy="40.8" r="0.8" fill="rgba(214,0,0,0.85)"/>
<circle cx="489.4" cy="40.8" r="0.8" fill="rgba(214,0,0,0.85)"/>
<rect x="458.35" y="69.80" width="1.5" height="1.4" fill="rgba(245,160,0,0.9)"/>
<rect x="473.65" y="46.30" width="1.5" height="1.4" fill="rgba(245,160,0,0.9)"/>
<rect x="488.85" y="45.30" width="1.5" height="1.4" fill="rgba(245,160,0,0.9)"/>
<path d="M459.10,93.00 L474.40,62.50 L489.60,52.50" fill="none" stroke="#d20000" stroke-width="1.35" stroke-linejoin="round"/>
<path d="M459.10,60.30 L474.40,43.60 L489.60,43.30" fill="none" stroke="#f7a500" stroke-width="1.35" stroke-linejoin="round"/>
<rect x="458.30" y="59.55" width="1.6" height="1.5" fill="#f5a000"/>
<rect x="473.60" y="42.85" width="1.6" height="1.5" fill="#f5a000"/>
<rect x="488.80" y="42.55" width="1.6" height="1.5" fill="#f5a000"/>
<line x1="449.80" y1="30.50" x2="449.80" y2="107.50" stroke="#111" stroke-width="1.25"/>
<line x1="446.60" y1="34.10" x2="449.80" y2="34.10" stroke="#111" stroke-width="0.9"/>
<line x1="446.60" y1="45.85" x2="449.80" y2="45.85" stroke="#111" stroke-width="0.9"/>
<line x1="446.60" y1="57.60" x2="449.80" y2="57.60" stroke="#111" stroke-width="0.9"/>
<line x1="446.60" y1="63.47" x2="449.80" y2="63.47" stroke="#111" stroke-width="0.9"/>
<line x1="446.60" y1="69.35" x2="449.80" y2="69.35" stroke="#111" stroke-width="0.9"/>
<line x1="446.60" y1="81.10" x2="449.80" y2="81.10" stroke="#111" stroke-width="0.9"/>
<line x1="446.60" y1="106.90" x2="449.80" y2="106.90" stroke="#111" stroke-width="0.9"/>
<line x1="446.60" y1="106.90" x2="496.00" y2="106.90" stroke="#111" stroke-width="1.1"/>
<line x1="459.10" y1="106.90" x2="459.10" y2="109.90" stroke="#111" stroke-width="0.8"/>
<line x1="474.40" y1="106.90" x2="474.40" y2="109.90" stroke="#111" stroke-width="0.8"/>
<line x1="489.60" y1="106.90" x2="489.60" y2="109.90" stroke="#111" stroke-width="0.8"/>
<path d="M452.90,28.40 V27.00 Q452.90,26.60 453.30,26.60 H470.05 Q470.45,26.60 470.45,27.00 V28.40" fill="none" stroke="#383838" stroke-width="0.85"/>
<path d="M472.70,28.40 V27.00 Q472.70,26.60 473.10,26.60 H489.80 Q490.20,26.60 490.20,27.00 V28.40" fill="none" stroke="#383838" stroke-width="0.85"/>
<rect x="460.97" y="23.20" width="1.5" height="1.5" fill="#3a3a3a"/>
<rect x="480.75" y="23.20" width="1.5" height="1.5" fill="#3a3a3a"/>
<path d="M452.90,34.10 V32.70 Q452.90,32.30 453.30,32.30 H489.80 Q490.20,32.30 490.20,32.70 V34.10" fill="none" stroke="#383838" stroke-width="0.85"/>
<rect x="470.85" y="29.00" width="1.5" height="1.5" fill="#3a3a3a"/>
<line x1="34.50" y1="178.65" x2="79.80" y2="178.65" stroke="#d9d9d9" stroke-width="0.9"/>
<line x1="34.50" y1="196.50" x2="79.80" y2="196.50" stroke="#d9d9d9" stroke-width="0.9"/>
<path d="M42.7,219.7 L57.9,219.7 L73.0,219.7" fill="none" stroke="rgba(228,25,25,0.45)" stroke-width="0.55"/>
<path d="M42.9,219.7 L59.1,219.7 L72.8,219.7" fill="none" stroke="rgba(228,25,25,0.45)" stroke-width="0.55"/>
<path d="M42.7,219.7 L58.6,219.7 L73.6,219.7" fill="none" stroke="rgba(228,25,25,0.45)" stroke-width="0.55"/>
<path d="M43.2,219.7 L58.7,205.2 L73.8,219.7" fill="none" stroke="rgba(228,25,25,0.45)" stroke-width="0.55"/>
<path d="M43.5,219.7 L58.9,219.7 L73.9,214.8" fill="none" stroke="rgba(228,25,25,0.45)" stroke-width="0.55"/>
<path d="M43.3,219.7 L58.4,219.7 L73.0,206.9" fill="none" stroke="rgba(228,25,25,0.45)" stroke-width="0.55"/>
<path d="M44.1,219.7 L58.8,208.5 L73.4,209.0" fill="none" stroke="rgba(228,25,25,0.45)" stroke-width="0.55"/>
<path d="M43.8,219.7 L57.9,206.1 L73.1,205.9" fill="none" stroke="rgba(228,25,25,0.45)" stroke-width="0.55"/>
<path d="M43.8,219.7 L58.6,209.7 L73.1,192.8" fill="none" stroke="rgba(228,25,25,0.45)" stroke-width="0.55"/>
<path d="M43.6,219.7 L58.9,197.1 L72.7,192.6" fill="none" stroke="rgba(228,25,25,0.45)" stroke-width="0.55"/>
<path d="M43.4,213.4 L58.4,206.5 L73.7,191.0" fill="none" stroke="rgba(228,25,25,0.45)" stroke-width="0.55"/>
<path d="M43.8,219.7 L58.3,198.7 L72.8,186.0" fill="none" stroke="rgba(228,25,25,0.45)" stroke-width="0.55"/>
<path d="M43.8,219.7 L57.7,197.3 L73.8,182.5" fill="none" stroke="rgba(228,25,25,0.45)" stroke-width="0.55"/>
<path d="M42.9,219.7 L57.9,207.4 L73.2,180.8" fill="none" stroke="rgba(228,25,25,0.45)" stroke-width="0.55"/>
<path d="M43.1,219.7 L58.2,188.5 L74.0,164.0" fill="none" stroke="rgba(228,25,25,0.45)" stroke-width="0.55"/>
<path d="M43.3,212.5 L58.7,209.5 L72.8,187.3" fill="none" stroke="rgba(228,25,25,0.45)" stroke-width="0.55"/>
<path d="M43.9,213.6 L58.5,206.9 L73.6,169.5" fill="none" stroke="rgba(228,25,25,0.45)" stroke-width="0.55"/>
<path d="M44.0,210.9 L58.2,180.6 L72.9,173.8" fill="none" stroke="rgba(228,25,25,0.45)" stroke-width="0.55"/>
<path d="M43.7,212.7 L58.6,192.6 L73.8,171.9" fill="none" stroke="rgba(228,25,25,0.45)" stroke-width="0.55"/>
<path d="M43.5,212.1 L59.0,192.7 L73.4,177.3" fill="none" stroke="rgba(228,25,25,0.45)" stroke-width="0.55"/>
<path d="M43.2,219.7 L58.7,180.0 L72.9,166.2" fill="none" stroke="rgba(228,25,25,0.45)" stroke-width="0.55"/>
<path d="M43.5,210.7 L58.7,176.8 L73.1,182.8" fill="none" stroke="rgba(228,25,25,0.45)" stroke-width="0.55"/>
<path d="M42.9,211.6 L58.8,180.5 L73.3,180.9" fill="none" stroke="rgba(228,25,25,0.45)" stroke-width="0.55"/>
<path d="M43.1,213.0 L58.2,186.6 L73.3,169.5" fill="none" stroke="rgba(228,25,25,0.45)" stroke-width="0.55"/>
<path d="M43.3,205.8 L59.0,155.1 L73.1,164.5" fill="none" stroke="rgba(228,25,25,0.45)" stroke-width="0.55"/>
<path d="M43.2,208.4 L58.9,180.6 L73.3,173.7" fill="none" stroke="rgba(228,25,25,0.45)" stroke-width="0.55"/>
<path d="M43.6,204.8 L57.9,171.8 L73.1,169.6" fill="none" stroke="rgba(228,25,25,0.45)" stroke-width="0.55"/>
<path d="M43.3,205.2 L57.8,178.0 L73.5,171.7" fill="none" stroke="rgba(228,25,25,0.45)" stroke-width="0.55"/>
<path d="M43.1,205.1 L58.5,179.0 L73.8,162.7" fill="none" stroke="rgba(228,25,25,0.45)" stroke-width="0.55"/>
<path d="M42.8,206.6 L58.3,171.7 L72.7,163.7" fill="none" stroke="rgba(228,25,25,0.45)" stroke-width="0.55"/>
<path d="M43.40,191.00 L58.40,164.20 L73.30,163.40" fill="none" stroke="rgba(250,170,20,0.6)" stroke-width="0.6"/>
<circle cx="42.7" cy="219.7" r="0.8" fill="rgba(214,0,0,0.85)"/>
<circle cx="57.9" cy="219.7" r="0.8" fill="rgba(214,0,0,0.85)"/>
<circle cx="73.0" cy="219.7" r="0.8" fill="rgba(214,0,0,0.85)"/>
<circle cx="42.9" cy="219.7" r="0.8" fill="rgba(214,0,0,0.85)"/>
<circle cx="59.1" cy="219.7" r="0.8" fill="rgba(214,0,0,0.85)"/>
<circle cx="72.8" cy="219.7" r="0.8" fill="rgba(214,0,0,0.85)"/>
<circle cx="42.7" cy="219.7" r="0.8" fill="rgba(214,0,0,0.85)"/>
<circle cx="58.6" cy="219.7" r="0.8" fill="rgba(214,0,0,0.85)"/>
<circle cx="73.6" cy="219.7" r="0.8" fill="rgba(214,0,0,0.85)"/>
<circle cx="43.2" cy="219.7" r="0.8" fill="rgba(214,0,0,0.85)"/>
<circle cx="58.7" cy="205.2" r="0.8" fill="rgba(214,0,0,0.85)"/>
<circle cx="73.8" cy="219.7" r="0.8" fill="rgba(214,0,0,0.85)"/>
<circle cx="43.5" cy="219.7" r="0.8" fill="rgba(214,0,0,0.85)"/>
<circle cx="58.9" cy="219.7" r="0.8" fill="rgba(214,0,0,0.85)"/>
<circle cx="73.9" cy="214.8" r="0.8" fill="rgba(214,0,0,0.85)"/>
<circle cx="43.3" cy="219.7" r="0.8" fill="rgba(214,0,0,0.85)"/>
<circle cx="58.4" cy="219.7" r="0.8" fill="rgba(214,0,0,0.85)"/>
<circle cx="73.0" cy="206.9" r="0.8" fill="rgba(214,0,0,0.85)"/>
<circle cx="44.1" cy="219.7" r="0.8" fill="rgba(214,0,0,0.85)"/>
<circle cx="58.8" cy="208.5" r="0.8" fill="rgba(214,0,0,0.85)"/>
<circle cx="73.4" cy="209.0" r="0.8" fill="rgba(214,0,0,0.85)"/>
<circle cx="43.8" cy="219.7" r="0.8" fill="rgba(214,0,0,0.85)"/>
<circle cx="57.9" cy="206.1" r="0.8" fill="rgba(214,0,0,0.85)"/>
<circle cx="73.1" cy="205.9" r="0.8" fill="rgba(214,0,0,0.85)"/>
<circle cx="43.8" cy="219.7" r="0.8" fill="rgba(214,0,0,0.85)"/>
<circle cx="58.6" cy="209.7" r="0.8" fill="rgba(214,0,0,0.85)"/>
<circle cx="73.1" cy="192.8" r="0.8" fill="rgba(214,0,0,0.85)"/>
<circle cx="43.6" cy="219.7" r="0.8" fill="rgba(214,0,0,0.85)"/>
<circle cx="58.9" cy="197.1" r="0.8" fill="rgba(214,0,0,0.85)"/>
<circle cx="72.7" cy="192.6" r="0.8" fill="rgba(214,0,0,0.85)"/>
<circle cx="43.4" cy="213.4" r="0.8" fill="rgba(214,0,0,0.85)"/>
<circle cx="58.4" cy="206.5" r="0.8" fill="rgba(214,0,0,0.85)"/>
<circle cx="73.7" cy="191.0" r="0.8" fill="rgba(214,0,0,0.85)"/>
<circle cx="43.8" cy="219.7" r="0.8" fill="rgba(214,0,0,0.85)"/>
<circle cx="58.3" cy="198.7" r="0.8" fill="rgba(214,0,0,0.85)"/>
<circle cx="72.8" cy="186.0" r="0.8" fill="rgba(214,0,0,0.85)"/>
<circle cx="43.8" cy="219.7" r="0.8" fill="rgba(214,0,0,0.85)"/>
<circle cx="57.7" cy="197.3" r="0.8" fill="rgba(214,0,0,0.85)"/>
<circle cx="73.8" cy="182.5" r="0.8" fill="rgba(214,0,0,0.85)"/>
<circle cx="42.9" cy="219.7" r="0.8" fill="rgba(214,0,0,0.85)"/>
<circle cx="57.9" cy="207.4" r="0.8" fill="rgba(214,0,0,0.85)"/>
<circle cx="73.2" cy="180.8" r="0.8" fill="rgba(214,0,0,0.85)"/>
<circle cx="43.1" cy="219.7" r="0.8" fill="rgba(214,0,0,0.85)"/>
<circle cx="58.2" cy="188.5" r="0.8" fill="rgba(214,0,0,0.85)"/>
<circle cx="74.0" cy="164.0" r="0.8" fill="rgba(214,0,0,0.85)"/>
<circle cx="43.3" cy="212.5" r="0.8" fill="rgba(214,0,0,0.85)"/>
<circle cx="58.7" cy="209.5" r="0.8" fill="rgba(214,0,0,0.85)"/>
<circle cx="72.8" cy="187.3" r="0.8" fill="rgba(214,0,0,0.85)"/>
<circle cx="43.9" cy="213.6" r="0.8" fill="rgba(214,0,0,0.85)"/>
<circle cx="58.5" cy="206.9" r="0.8" fill="rgba(214,0,0,0.85)"/>
<circle cx="73.6" cy="169.5" r="0.8" fill="rgba(214,0,0,0.85)"/>
<circle cx="44.0" cy="210.9" r="0.8" fill="rgba(214,0,0,0.85)"/>
<circle cx="58.2" cy="180.6" r="0.8" fill="rgba(214,0,0,0.85)"/>
<circle cx="72.9" cy="173.8" r="0.8" fill="rgba(214,0,0,0.85)"/>
<circle cx="43.7" cy="212.7" r="0.8" fill="rgba(214,0,0,0.85)"/>
<circle cx="58.6" cy="192.6" r="0.8" fill="rgba(214,0,0,0.85)"/>
<circle cx="73.8" cy="171.9" r="0.8" fill="rgba(214,0,0,0.85)"/>
<circle cx="43.5" cy="212.1" r="0.8" fill="rgba(214,0,0,0.85)"/>
<circle cx="59.0" cy="192.7" r="0.8" fill="rgba(214,0,0,0.85)"/>
<circle cx="73.4" cy="177.3" r="0.8" fill="rgba(214,0,0,0.85)"/>
<circle cx="43.2" cy="219.7" r="0.8" fill="rgba(214,0,0,0.85)"/>
<circle cx="58.7" cy="180.0" r="0.8" fill="rgba(214,0,0,0.85)"/>
<circle cx="72.9" cy="166.2" r="0.8" fill="rgba(214,0,0,0.85)"/>
<circle cx="43.5" cy="210.7" r="0.8" fill="rgba(214,0,0,0.85)"/>
<circle cx="58.7" cy="176.8" r="0.8" fill="rgba(214,0,0,0.85)"/>
<circle cx="73.1" cy="182.8" r="0.8" fill="rgba(214,0,0,0.85)"/>
<circle cx="42.9" cy="211.6" r="0.8" fill="rgba(214,0,0,0.85)"/>
<circle cx="58.8" cy="180.5" r="0.8" fill="rgba(214,0,0,0.85)"/>
<circle cx="73.3" cy="180.9" r="0.8" fill="rgba(214,0,0,0.85)"/>
<circle cx="43.1" cy="213.0" r="0.8" fill="rgba(214,0,0,0.85)"/>
<circle cx="58.2" cy="186.6" r="0.8" fill="rgba(214,0,0,0.85)"/>
<circle cx="73.3" cy="169.5" r="0.8" fill="rgba(214,0,0,0.85)"/>
<circle cx="43.3" cy="205.8" r="0.8" fill="rgba(214,0,0,0.85)"/>
<circle cx="59.0" cy="155.1" r="0.8" fill="rgba(214,0,0,0.85)"/>
<circle cx="73.1" cy="164.5" r="0.8" fill="rgba(214,0,0,0.85)"/>
<circle cx="43.2" cy="208.4" r="0.8" fill="rgba(214,0,0,0.85)"/>
<circle cx="58.9" cy="180.6" r="0.8" fill="rgba(214,0,0,0.85)"/>
<circle cx="73.3" cy="173.7" r="0.8" fill="rgba(214,0,0,0.85)"/>
<circle cx="43.6" cy="204.8" r="0.8" fill="rgba(214,0,0,0.85)"/>
<circle cx="57.9" cy="171.8" r="0.8" fill="rgba(214,0,0,0.85)"/>
<circle cx="73.1" cy="169.6" r="0.8" fill="rgba(214,0,0,0.85)"/>
<circle cx="43.3" cy="205.2" r="0.8" fill="rgba(214,0,0,0.85)"/>
<circle cx="57.8" cy="178.0" r="0.8" fill="rgba(214,0,0,0.85)"/>
<circle cx="73.5" cy="171.7" r="0.8" fill="rgba(214,0,0,0.85)"/>
<circle cx="43.1" cy="205.1" r="0.8" fill="rgba(214,0,0,0.85)"/>
<circle cx="58.5" cy="179.0" r="0.8" fill="rgba(214,0,0,0.85)"/>
<circle cx="73.8" cy="162.7" r="0.8" fill="rgba(214,0,0,0.85)"/>
<circle cx="42.8" cy="206.6" r="0.8" fill="rgba(214,0,0,0.85)"/>
<circle cx="58.3" cy="171.7" r="0.8" fill="rgba(214,0,0,0.85)"/>
<circle cx="72.7" cy="163.7" r="0.8" fill="rgba(214,0,0,0.85)"/>
<rect x="42.65" y="190.30" width="1.5" height="1.4" fill="rgba(245,160,0,0.9)"/>
<rect x="57.65" y="163.50" width="1.5" height="1.4" fill="rgba(245,160,0,0.9)"/>
<rect x="72.55" y="162.70" width="1.5" height="1.4" fill="rgba(245,160,0,0.9)"/>
<path d="M43.40,219.70 L58.40,196.00 L73.30,182.00" fill="none" stroke="#d20000" stroke-width="1.35" stroke-linejoin="round"/>
<path d="M43.40,189.00 L58.40,164.20 L73.30,163.40" fill="none" stroke="#f7a500" stroke-width="1.35" stroke-linejoin="round"/>
<rect x="42.60" y="188.25" width="1.6" height="1.5" fill="#f5a000"/>
<rect x="57.60" y="163.45" width="1.6" height="1.5" fill="#f5a000"/>
<rect x="72.50" y="162.65" width="1.6" height="1.5" fill="#f5a000"/>
<line x1="34.50" y1="145.30" x2="34.50" y2="223.05" stroke="#111" stroke-width="1.25"/>
<line x1="31.30" y1="148.90" x2="34.50" y2="148.90" stroke="#111" stroke-width="0.9"/>
<line x1="31.30" y1="160.80" x2="34.50" y2="160.80" stroke="#111" stroke-width="0.9"/>
<line x1="31.30" y1="172.70" x2="34.50" y2="172.70" stroke="#111" stroke-width="0.9"/>
<line x1="31.30" y1="178.65" x2="34.50" y2="178.65" stroke="#111" stroke-width="0.9"/>
<line x1="31.30" y1="184.60" x2="34.50" y2="184.60" stroke="#111" stroke-width="0.9"/>
<line x1="31.30" y1="196.50" x2="34.50" y2="196.50" stroke="#111" stroke-width="0.9"/>
<line x1="31.30" y1="222.45" x2="34.50" y2="222.45" stroke="#111" stroke-width="0.9"/>
<line x1="31.30" y1="222.45" x2="79.80" y2="222.45" stroke="#111" stroke-width="1.1"/>
<line x1="43.40" y1="222.45" x2="43.40" y2="225.45" stroke="#111" stroke-width="0.8"/>
<line x1="58.40" y1="222.45" x2="58.40" y2="225.45" stroke="#111" stroke-width="0.8"/>
<line x1="73.30" y1="222.45" x2="73.30" y2="225.45" stroke="#111" stroke-width="0.8"/>
<path d="M36.95,144.50 V143.10 Q36.95,142.70 37.35,142.70 H54.02 Q54.42,142.70 54.42,143.10 V144.50" fill="none" stroke="#383838" stroke-width="0.85"/>
<path d="M56.67,144.50 V143.10 Q56.67,142.70 57.07,142.70 H73.70 Q74.10,142.70 74.10,143.10 V144.50" fill="none" stroke="#383838" stroke-width="0.85"/>
<rect x="44.99" y="139.30" width="1.5" height="1.5" fill="#3a3a3a"/>
<rect x="64.69" y="139.30" width="1.5" height="1.5" fill="#3a3a3a"/>
<path d="M36.95,150.10 V148.70 Q36.95,148.30 37.35,148.30 H73.70 Q74.10,148.30 74.10,148.70 V150.10" fill="none" stroke="#383838" stroke-width="0.85"/>
<rect x="54.82" y="145.00" width="1.5" height="1.5" fill="#3a3a3a"/>
<line x1="91.55" y1="178.65" x2="136.50" y2="178.65" stroke="#d9d9d9" stroke-width="0.9"/>
<line x1="91.55" y1="196.50" x2="136.50" y2="196.50" stroke="#d9d9d9" stroke-width="0.9"/>
<path d="M100.6,219.7 L115.7,205.6 L131.5,219.7" fill="none" stroke="rgba(228,25,25,0.45)" stroke-width="0.55"/>
<path d="M100.0,219.7 L115.3,219.7 L131.3,219.7" fill="none" stroke="rgba(228,25,25,0.45)" stroke-width="0.55"/>
<path d="M100.2,219.7 L115.8,219.7 L130.4,207.1" fill="none" stroke="rgba(228,25,25,0.45)" stroke-width="0.55"/>
<path d="M100.2,219.7 L115.6,212.1 L131.0,183.6" fill="none" stroke="rgba(228,25,25,0.45)" stroke-width="0.55"/>
<path d="M101.0,219.7 L115.6,214.6 L130.5,219.7" fill="none" stroke="rgba(228,25,25,0.45)" stroke-width="0.55"/>
<path d="M100.2,212.0 L116.3,205.6 L131.4,180.3" fill="none" stroke="rgba(228,25,25,0.45)" stroke-width="0.55"/>
<path d="M100.7,219.7 L115.1,204.7 L130.7,199.8" fill="none" stroke="rgba(228,25,25,0.45)" stroke-width="0.55"/>
<path d="M100.0,219.7 L115.2,219.7 L131.4,192.2" fill="none" stroke="rgba(228,25,25,0.45)" stroke-width="0.55"/>
<path d="M100.7,219.7 L115.6,191.2 L131.3,192.9" fill="none" stroke="rgba(228,25,25,0.45)" stroke-width="0.55"/>
<path d="M100.0,219.7 L115.3,201.3 L130.5,201.1" fill="none" stroke="rgba(228,25,25,0.45)" stroke-width="0.55"/>
<path d="M100.3,219.7 L116.5,211.7 L130.5,184.0" fill="none" stroke="rgba(228,25,25,0.45)" stroke-width="0.55"/>
<path d="M100.4,219.7 L116.3,198.4 L130.4,183.6" fill="none" stroke="rgba(228,25,25,0.45)" stroke-width="0.55"/>
<path d="M100.9,205.7 L116.2,200.4 L130.4,185.2" fill="none" stroke="rgba(228,25,25,0.45)" stroke-width="0.55"/>
<path d="M100.1,219.7 L116.1,219.7 L130.8,182.0" fill="none" stroke="rgba(228,25,25,0.45)" stroke-width="0.55"/>
<path d="M100.8,219.7 L116.1,208.7 L130.5,193.4" fill="none" stroke="rgba(228,25,25,0.45)" stroke-width="0.55"/>
<path d="M100.0,219.7 L115.2,187.6 L130.3,176.4" fill="none" stroke="rgba(228,25,25,0.45)" stroke-width="0.55"/>
<path d="M100.3,219.7 L115.1,192.5 L130.8,180.2" fill="none" stroke="rgba(228,25,25,0.45)" stroke-width="0.55"/>
<path d="M100.4,219.7 L116.2,189.2 L131.4,176.3" fill="none" stroke="rgba(228,25,25,0.45)" stroke-width="0.55"/>
<path d="M100.1,219.7 L115.2,200.2 L130.8,178.8" fill="none" stroke="rgba(228,25,25,0.45)" stroke-width="0.55"/>
<path d="M100.8,219.7 L115.3,205.1 L131.5,178.7" fill="none" stroke="rgba(228,25,25,0.45)" stroke-width="0.55"/>
<path d="M100.8,219.7 L115.2,173.1 L131.0,171.2" fill="none" stroke="rgba(228,25,25,0.45)" stroke-width="0.55"/>
<path d="M100.2,216.7 L115.7,189.1 L130.6,173.0" fill="none" stroke="rgba(228,25,25,0.45)" stroke-width="0.55"/>
<path d="M100.9,219.7 L115.5,201.0 L130.7,181.9" fill="none" stroke="rgba(228,25,25,0.45)" stroke-width="0.55"/>
<path d="M100.4,219.7 L115.8,189.8 L131.4,179.8" fill="none" stroke="rgba(228,25,25,0.45)" stroke-width="0.55"/>
<path d="M100.6,212.6 L116.2,194.7 L130.8,190.4" fill="none" stroke="rgba(228,25,25,0.45)" stroke-width="0.55"/>
<path d="M100.4,219.7 L116.4,219.7 L131.3,176.6" fill="none" stroke="rgba(228,25,25,0.45)" stroke-width="0.55"/>
<path d="M100.7,219.7 L116.2,178.6 L131.0,176.1" fill="none" stroke="rgba(228,25,25,0.45)" stroke-width="0.55"/>
<path d="M101.1,214.2 L116.3,185.8 L130.3,179.9" fill="none" stroke="rgba(228,25,25,0.45)" stroke-width="0.55"/>
<path d="M100.9,213.4 L115.7,184.7 L130.3,178.7" fill="none" stroke="rgba(228,25,25,0.45)" stroke-width="0.55"/>
<path d="M100.2,203.5 L115.5,191.8 L130.2,182.1" fill="none" stroke="rgba(228,25,25,0.45)" stroke-width="0.55"/>
<path d="M101.0,217.2 L115.2,183.4 L130.5,165.2" fill="none" stroke="rgba(228,25,25,0.45)" stroke-width="0.55"/>
<path d="M100.8,213.3 L115.4,184.6 L131.2,163.2" fill="none" stroke="rgba(228,25,25,0.45)" stroke-width="0.55"/>
<path d="M100.8,216.0 L116.1,184.3 L131.3,167.1" fill="none" stroke="rgba(228,25,25,0.45)" stroke-width="0.55"/>
<path d="M100.6,212.1 L115.4,182.6 L131.1,170.8" fill="none" stroke="rgba(228,25,25,0.45)" stroke-width="0.55"/>
<path d="M100.7,215.6 L115.4,171.9 L130.5,169.2" fill="none" stroke="rgba(228,25,25,0.45)" stroke-width="0.55"/>
<path d="M100.1,215.9 L115.8,181.1 L130.5,168.3" fill="none" stroke="rgba(228,25,25,0.45)" stroke-width="0.55"/>
<path d="M100.4,209.7 L116.0,186.1 L130.8,165.8" fill="none" stroke="rgba(228,25,25,0.45)" stroke-width="0.55"/>
<path d="M99.7,202.8 L115.9,183.9 L130.3,172.6" fill="none" stroke="rgba(228,25,25,0.45)" stroke-width="0.55"/>
<path d="M100.7,214.3 L115.5,172.6 L131.0,172.9" fill="none" stroke="rgba(228,25,25,0.45)" stroke-width="0.55"/>
<path d="M99.9,209.5 L115.2,184.0 L130.7,176.9" fill="none" stroke="rgba(228,25,25,0.45)" stroke-width="0.55"/>
<path d="M99.7,207.6 L115.2,187.0 L130.9,164.3" fill="none" stroke="rgba(228,25,25,0.45)" stroke-width="0.55"/>
<path d="M100.2,212.0 L116.1,170.0 L130.6,169.5" fill="none" stroke="rgba(228,25,25,0.45)" stroke-width="0.55"/>
<path d="M99.9,202.0 L115.8,170.7 L130.2,166.7" fill="none" stroke="rgba(228,25,25,0.45)" stroke-width="0.55"/>
<path d="M100.3,205.6 L115.9,170.0 L130.7,169.0" fill="none" stroke="rgba(228,25,25,0.45)" stroke-width="0.55"/>
<path d="M100.8,202.9 L116.5,183.8 L130.8,163.3" fill="none" stroke="rgba(228,25,25,0.45)" stroke-width="0.55"/>
<path d="M99.9,202.0 L116.0,178.8 L131.4,162.9" fill="none" stroke="rgba(228,25,25,0.45)" stroke-width="0.55"/>
<path d="M100.9,207.7 L115.8,176.8 L130.9,171.2" fill="none" stroke="rgba(228,25,25,0.45)" stroke-width="0.55"/>
<path d="M99.8,208.0 L116.5,171.1 L130.8,162.9" fill="none" stroke="rgba(228,25,25,0.45)" stroke-width="0.55"/>
<path d="M100.6,201.8 L115.6,170.0 L130.4,170.4" fill="none" stroke="rgba(228,25,25,0.45)" stroke-width="0.55"/>
<path d="M99.7,201.8 L115.7,170.1 L131.1,166.5" fill="none" stroke="rgba(228,25,25,0.45)" stroke-width="0.55"/>
<path d="M99.9,160.5 L116.2,160.5 L130.9,160.5" fill="none" stroke="rgba(228,25,25,0.45)" stroke-width="0.55"/>
<circle cx="100.6" cy="219.7" r="0.8" fill="rgba(214,0,0,0.85)"/>
<circle cx="115.7" cy="205.6" r="0.8" fill="rgba(214,0,0,0.85)"/>
<circle cx="131.5" cy="219.7" r="0.8" fill="rgba(214,0,0,0.85)"/>
<circle cx="100.0" cy="219.7" r="0.8" fill="rgba(214,0,0,0.85)"/>
<circle cx="115.3" cy="219.7" r="0.8" fill="rgba(214,0,0,0.85)"/>
<circle cx="131.3" cy="219.7" r="0.8" fill="rgba(214,0,0,0.85)"/>
<circle cx="100.2" cy="219.7" r="0.8" fill="rgba(214,0,0,0.85)"/>
<circle cx="115.8" cy="219.7" r="0.8" fill="rgba(214,0,0,0.85)"/>
<circle cx="130.4" cy="207.1" r="0.8" fill="rgba(214,0,0,0.85)"/>
<circle cx="100.2" cy="219.7" r="0.8" fill="rgba(214,0,0,0.85)"/>
<circle cx="115.6" cy="212.1" r="0.8" fill="rgba(214,0,0,0.85)"/>
<circle cx="131.0" cy="183.6" r="0.8" fill="rgba(214,0,0,0.85)"/>
<circle cx="101.0" cy="219.7" r="0.8" fill="rgba(214,0,0,0.85)"/>
<circle cx="115.6" cy="214.6" r="0.8" fill="rgba(214,0,0,0.85)"/>
<circle cx="130.5" cy="219.7" r="0.8" fill="rgba(214,0,0,0.85)"/>
<circle cx="100.2" cy="212.0" r="0.8" fill="rgba(214,0,0,0.85)"/>
<circle cx="116.3" cy="205.6" r="0.8" fill="rgba(214,0,0,0.85)"/>
<circle cx="131.4" cy="180.3" r="0.8" fill="rgba(214,0,0,0.85)"/>
<circle cx="100.7" cy="219.7" r="0.8" fill="rgba(214,0,0,0.85)"/>
<circle cx="115.1" cy="204.7" r="0.8" fill="rgba(214,0,0,0.85)"/>
<circle cx="130.7" cy="199.8" r="0.8" fill="rgba(214,0,0,0.85)"/>
<circle cx="100.0" cy="219.7" r="0.8" fill="rgba(214,0,0,0.85)"/>
<circle cx="115.2" cy="219.7" r="0.8" fill="rgba(214,0,0,0.85)"/>
<circle cx="131.4" cy="192.2" r="0.8" fill="rgba(214,0,0,0.85)"/>
<circle cx="100.7" cy="219.7" r="0.8" fill="rgba(214,0,0,0.85)"/>
<circle cx="115.6" cy="191.2" r="0.8" fill="rgba(214,0,0,0.85)"/>
<circle cx="131.3" cy="192.9" r="0.8" fill="rgba(214,0,0,0.85)"/>
<circle cx="100.0" cy="219.7" r="0.8" fill="rgba(214,0,0,0.85)"/>
<circle cx="115.3" cy="201.3" r="0.8" fill="rgba(214,0,0,0.85)"/>
<circle cx="130.5" cy="201.1" r="0.8" fill="rgba(214,0,0,0.85)"/>
<circle cx="100.3" cy="219.7" r="0.8" fill="rgba(214,0,0,0.85)"/>
<circle cx="116.5" cy="211.7" r="0.8" fill="rgba(214,0,0,0.85)"/>
<circle cx="130.5" cy="184.0" r="0.8" fill="rgba(214,0,0,0.85)"/>
<circle cx="100.4" cy="219.7" r="0.8" fill="rgba(214,0,0,0.85)"/>
<circle cx="116.3" cy="198.4" r="0.8" fill="rgba(214,0,0,0.85)"/>
<circle cx="130.4" cy="183.6" r="0.8" fill="rgba(214,0,0,0.85)"/>
<circle cx="100.9" cy="205.7" r="0.8" fill="rgba(214,0,0,0.85)"/>
<circle cx="116.2" cy="200.4" r="0.8" fill="rgba(214,0,0,0.85)"/>
<circle cx="130.4" cy="185.2" r="0.8" fill="rgba(214,0,0,0.85)"/>
<circle cx="100.1" cy="219.7" r="0.8" fill="rgba(214,0,0,0.85)"/>
<circle cx="116.1" cy="219.7" r="0.8" fill="rgba(214,0,0,0.85)"/>
<circle cx="130.8" cy="182.0" r="0.8" fill="rgba(214,0,0,0.85)"/>
<circle cx="100.8" cy="219.7" r="0.8" fill="rgba(214,0,0,0.85)"/>
<circle cx="116.1" cy="208.7" r="0.8" fill="rgba(214,0,0,0.85)"/>
<circle cx="130.5" cy="193.4" r="0.8" fill="rgba(214,0,0,0.85)"/>
<circle cx="100.0" cy="219.7" r="0.8" fill="rgba(214,0,0,0.85)"/>
<circle cx="115.2" cy="187.6" r="0.8" fill="rgba(214,0,0,0.85)"/>
<circle cx="130.3" cy="176.4" r="0.8" fill="rgba(214,0,0,0.85)"/>
<circle cx="100.3" cy="219.7" r="0.8" fill="rgba(214,0,0,0.85)"/>
<circle cx="115.1" cy="192.5" r="0.8" fill="rgba(214,0,0,0.85)"/>
<circle cx="130.8" cy="180.2" r="0.8" fill="rgba(214,0,0,0.85)"/>
<circle cx="100.4" cy="219.7" r="0.8" fill="rgba(214,0,0,0.85)"/>
<circle cx="116.2" cy="189.2" r="0.8" fill="rgba(214,0,0,0.85)"/>
<circle cx="131.4" cy="176.3" r="0.8" fill="rgba(214,0,0,0.85)"/>
<circle cx="100.1" cy="219.7" r="0.8" fill="rgba(214,0,0,0.85)"/>
<circle cx="115.2" cy="200.2" r="0.8" fill="rgba(214,0,0,0.85)"/>
<circle cx="130.8" cy="178.8" r="0.8" fill="rgba(214,0,0,0.85)"/>
<circle cx="100.8" cy="219.7" r="0.8" fill="rgba(214,0,0,0.85)"/>
<circle cx="115.3" cy="205.1" r="0.8" fill="rgba(214,0,0,0.85)"/>
<circle cx="131.5" cy="178.7" r="0.8" fill="rgba(214,0,0,0.85)"/>
<circle cx="100.8" cy="219.7" r="0.8" fill="rgba(214,0,0,0.85)"/>
<circle cx="115.2" cy="173.1" r="0.8" fill="rgba(214,0,0,0.85)"/>
<circle cx="131.0" cy="171.2" r="0.8" fill="rgba(214,0,0,0.85)"/>
<circle cx="100.2" cy="216.7" r="0.8" fill="rgba(214,0,0,0.85)"/>
<circle cx="115.7" cy="189.1" r="0.8" fill="rgba(214,0,0,0.85)"/>
<circle cx="130.6" cy="173.0" r="0.8" fill="rgba(214,0,0,0.85)"/>
<circle cx="100.9" cy="219.7" r="0.8" fill="rgba(214,0,0,0.85)"/>
<circle cx="115.5" cy="201.0" r="0.8" fill="rgba(214,0,0,0.85)"/>
<circle cx="130.7" cy="181.9" r="0.8" fill="rgba(214,0,0,0.85)"/>
<circle cx="100.4" cy="219.7" r="0.8" fill="rgba(214,0,0,0.85)"/>
<circle cx="115.8" cy="189.8" r="0.8" fill="rgba(214,0,0,0.85)"/>
<circle cx="131.4" cy="179.8" r="0.8" fill="rgba(214,0,0,0.85)"/>
<circle cx="100.6" cy="212.6" r="0.8" fill="rgba(214,0,0,0.85)"/>
<circle cx="116.2" cy="194.7" r="0.8" fill="rgba(214,0,0,0.85)"/>
<circle cx="130.8" cy="190.4" r="0.8" fill="rgba(214,0,0,0.85)"/>
<circle cx="100.4" cy="219.7" r="0.8" fill="rgba(214,0,0,0.85)"/>
<circle cx="116.4" cy="219.7" r="0.8" fill="rgba(214,0,0,0.85)"/>
<circle cx="131.3" cy="176.6" r="0.8" fill="rgba(214,0,0,0.85)"/>
<circle cx="100.7" cy="219.7" r="0.8" fill="rgba(214,0,0,0.85)"/>
<circle cx="116.2" cy="178.6" r="0.8" fill="rgba(214,0,0,0.85)"/>
<circle cx="131.0" cy="176.1" r="0.8" fill="rgba(214,0,0,0.85)"/>
<circle cx="101.1" cy="214.2" r="0.8" fill="rgba(214,0,0,0.85)"/>
<circle cx="116.3" cy="185.8" r="0.8" fill="rgba(214,0,0,0.85)"/>
<circle cx="130.3" cy="179.9" r="0.8" fill="rgba(214,0,0,0.85)"/>
<circle cx="100.9" cy="213.4" r="0.8" fill="rgba(214,0,0,0.85)"/>
<circle cx="115.7" cy="184.7" r="0.8" fill="rgba(214,0,0,0.85)"/>
<circle cx="130.3" cy="178.7" r="0.8" fill="rgba(214,0,0,0.85)"/>
<circle cx="100.2" cy="203.5" r="0.8" fill="rgba(214,0,0,0.85)"/>
<circle cx="115.5" cy="191.8" r="0.8" fill="rgba(214,0,0,0.85)"/>
<circle cx="130.2" cy="182.1" r="0.8" fill="rgba(214,0,0,0.85)"/>
<circle cx="101.0" cy="217.2" r="0.8" fill="rgba(214,0,0,0.85)"/>
<circle cx="115.2" cy="183.4" r="0.8" fill="rgba(214,0,0,0.85)"/>
<circle cx="130.5" cy="165.2" r="0.8" fill="rgba(214,0,0,0.85)"/>
<circle cx="100.8" cy="213.3" r="0.8" fill="rgba(214,0,0,0.85)"/>
<circle cx="115.4" cy="184.6" r="0.8" fill="rgba(214,0,0,0.85)"/>
<circle cx="131.2" cy="163.2" r="0.8" fill="rgba(214,0,0,0.85)"/>
<circle cx="100.8" cy="216.0" r="0.8" fill="rgba(214,0,0,0.85)"/>
<circle cx="116.1" cy="184.3" r="0.8" fill="rgba(214,0,0,0.85)"/>
<circle cx="131.3" cy="167.1" r="0.8" fill="rgba(214,0,0,0.85)"/>
<circle cx="100.6" cy="212.1" r="0.8" fill="rgba(214,0,0,0.85)"/>
<circle cx="115.4" cy="182.6" r="0.8" fill="rgba(214,0,0,0.85)"/>
<circle cx="131.1" cy="170.8" r="0.8" fill="rgba(214,0,0,0.85)"/>
<circle cx="100.7" cy="215.6" r="0.8" fill="rgba(214,0,0,0.85)"/>
<circle cx="115.4" cy="171.9" r="0.8" fill="rgba(214,0,0,0.85)"/>
<circle cx="130.5" cy="169.2" r="0.8" fill="rgba(214,0,0,0.85)"/>
<circle cx="100.1" cy="215.9" r="0.8" fill="rgba(214,0,0,0.85)"/>
<circle cx="115.8" cy="181.1" r="0.8" fill="rgba(214,0,0,0.85)"/>
<circle cx="130.5" cy="168.3" r="0.8" fill="rgba(214,0,0,0.85)"/>
<circle cx="100.4" cy="209.7" r="0.8" fill="rgba(214,0,0,0.85)"/>
<circle cx="116.0" cy="186.1" r="0.8" fill="rgba(214,0,0,0.85)"/>
<circle cx="130.8" cy="165.8" r="0.8" fill="rgba(214,0,0,0.85)"/>
<circle cx="99.7" cy="202.8" r="0.8" fill="rgba(214,0,0,0.85)"/>
<circle cx="115.9" cy="183.9" r="0.8" fill="rgba(214,0,0,0.85)"/>
<circle cx="130.3" cy="172.6" r="0.8" fill="rgba(214,0,0,0.85)"/>
<circle cx="100.7" cy="214.3" r="0.8" fill="rgba(214,0,0,0.85)"/>
<circle cx="115.5" cy="172.6" r="0.8" fill="rgba(214,0,0,0.85)"/>
<circle cx="131.0" cy="172.9" r="0.8" fill="rgba(214,0,0,0.85)"/>
<circle cx="99.9" cy="209.5" r="0.8" fill="rgba(214,0,0,0.85)"/>
<circle cx="115.2" cy="184.0" r="0.8" fill="rgba(214,0,0,0.85)"/>
<circle cx="130.7" cy="176.9" r="0.8" fill="rgba(214,0,0,0.85)"/>
<circle cx="99.7" cy="207.6" r="0.8" fill="rgba(214,0,0,0.85)"/>
<circle cx="115.2" cy="187.0" r="0.8" fill="rgba(214,0,0,0.85)"/>
<circle cx="130.9" cy="164.3" r="0.8" fill="rgba(214,0,0,0.85)"/>
<circle cx="100.2" cy="212.0" r="0.8" fill="rgba(214,0,0,0.85)"/>
<circle cx="116.1" cy="170.0" r="0.8" fill="rgba(214,0,0,0.85)"/>
<circle cx="130.6" cy="169.5" r="0.8" fill="rgba(214,0,0,0.85)"/>
<circle cx="99.9" cy="202.0" r="0.8" fill="rgba(214,0,0,0.85)"/>
<circle cx="115.8" cy="170.7" r="0.8" fill="rgba(214,0,0,0.85)"/>
<circle cx="130.2" cy="166.7" r="0.8" fill="rgba(214,0,0,0.85)"/>
<circle cx="100.3" cy="205.6" r="0.8" fill="rgba(214,0,0,0.85)"/>
<circle cx="115.9" cy="170.0" r="0.8" fill="rgba(214,0,0,0.85)"/>
<circle cx="130.7" cy="169.0" r="0.8" fill="rgba(214,0,0,0.85)"/>
<circle cx="100.8" cy="202.9" r="0.8" fill="rgba(214,0,0,0.85)"/>
<circle cx="116.5" cy="183.8" r="0.8" fill="rgba(214,0,0,0.85)"/>
<circle cx="130.8" cy="163.3" r="0.8" fill="rgba(214,0,0,0.85)"/>
<circle cx="99.9" cy="202.0" r="0.8" fill="rgba(214,0,0,0.85)"/>
<circle cx="116.0" cy="178.8" r="0.8" fill="rgba(214,0,0,0.85)"/>
<circle cx="131.4" cy="162.9" r="0.8" fill="rgba(214,0,0,0.85)"/>
<circle cx="100.9" cy="207.7" r="0.8" fill="rgba(214,0,0,0.85)"/>
<circle cx="115.8" cy="176.8" r="0.8" fill="rgba(214,0,0,0.85)"/>
<circle cx="130.9" cy="171.2" r="0.8" fill="rgba(214,0,0,0.85)"/>
<circle cx="99.8" cy="208.0" r="0.8" fill="rgba(214,0,0,0.85)"/>
<circle cx="116.5" cy="171.1" r="0.8" fill="rgba(214,0,0,0.85)"/>
<circle cx="130.8" cy="162.9" r="0.8" fill="rgba(214,0,0,0.85)"/>
<circle cx="100.6" cy="201.8" r="0.8" fill="rgba(214,0,0,0.85)"/>
<circle cx="115.6" cy="170.0" r="0.8" fill="rgba(214,0,0,0.85)"/>
<circle cx="130.4" cy="170.4" r="0.8" fill="rgba(214,0,0,0.85)"/>
<circle cx="99.7" cy="201.8" r="0.8" fill="rgba(214,0,0,0.85)"/>
<circle cx="115.7" cy="170.1" r="0.8" fill="rgba(214,0,0,0.85)"/>
<circle cx="131.1" cy="166.5" r="0.8" fill="rgba(214,0,0,0.85)"/>
<circle cx="99.9" cy="160.5" r="0.8" fill="rgba(214,0,0,0.85)"/>
<circle cx="116.2" cy="160.5" r="0.8" fill="rgba(214,0,0,0.85)"/>
<circle cx="130.9" cy="160.5" r="0.8" fill="rgba(214,0,0,0.85)"/>
<path d="M100.40,219.70 L115.80,193.00 L130.80,174.00" fill="none" stroke="#d20000" stroke-width="1.35" stroke-linejoin="round"/>
<path d="M100.40,172.10 L115.80,172.10 L130.80,160.50" fill="none" stroke="#f7a500" stroke-width="1.35" stroke-linejoin="round"/>
<rect x="99.60" y="171.35" width="1.6" height="1.5" fill="#f5a000"/>
<rect x="115.00" y="171.35" width="1.6" height="1.5" fill="#f5a000"/>
<rect x="130.00" y="159.75" width="1.6" height="1.5" fill="#f5a000"/>
<line x1="91.55" y1="145.30" x2="91.55" y2="223.05" stroke="#111" stroke-width="1.25"/>
<line x1="88.35" y1="148.90" x2="91.55" y2="148.90" stroke="#111" stroke-width="0.9"/>
<line x1="88.35" y1="160.80" x2="91.55" y2="160.80" stroke="#111" stroke-width="0.9"/>
<line x1="88.35" y1="172.70" x2="91.55" y2="172.70" stroke="#111" stroke-width="0.9"/>
<line x1="88.35" y1="178.65" x2="91.55" y2="178.65" stroke="#111" stroke-width="0.9"/>
<line x1="88.35" y1="184.60" x2="91.55" y2="184.60" stroke="#111" stroke-width="0.9"/>
<line x1="88.35" y1="196.50" x2="91.55" y2="196.50" stroke="#111" stroke-width="0.9"/>
<line x1="88.35" y1="222.45" x2="91.55" y2="222.45" stroke="#111" stroke-width="0.9"/>
<line x1="88.35" y1="222.45" x2="136.50" y2="222.45" stroke="#111" stroke-width="1.1"/>
<line x1="100.40" y1="222.45" x2="100.40" y2="225.45" stroke="#111" stroke-width="0.8"/>
<line x1="115.80" y1="222.45" x2="115.80" y2="225.45" stroke="#111" stroke-width="0.8"/>
<line x1="130.80" y1="222.45" x2="130.80" y2="225.45" stroke="#111" stroke-width="0.8"/>
<path d="M94.25,144.50 V143.10 Q94.25,142.70 94.65,142.70 H111.50 Q111.90,142.70 111.90,143.10 V144.50" fill="none" stroke="#383838" stroke-width="0.85"/>
<path d="M114.15,144.50 V143.10 Q114.15,142.70 114.55,142.70 H131.35 Q131.75,142.70 131.75,143.10 V144.50" fill="none" stroke="#383838" stroke-width="0.85"/>
<rect x="102.38" y="139.30" width="1.5" height="1.5" fill="#3a3a3a"/>
<rect x="122.25" y="139.30" width="1.5" height="1.5" fill="#3a3a3a"/>
<path d="M94.25,150.10 V148.70 Q94.25,148.30 94.65,148.30 H131.35 Q131.75,148.30 131.75,148.70 V150.10" fill="none" stroke="#383838" stroke-width="0.85"/>
<rect x="112.30" y="145.00" width="1.5" height="1.5" fill="#3a3a3a"/>
<line x1="148.85" y1="178.65" x2="194.70" y2="178.65" stroke="#d9d9d9" stroke-width="0.9"/>
<line x1="148.85" y1="196.50" x2="194.70" y2="196.50" stroke="#d9d9d9" stroke-width="0.9"/>
<path d="M158.4,216.5 L173.1,206.2 L188.8,206.9" fill="none" stroke="rgba(228,25,25,0.45)" stroke-width="0.55"/>
<path d="M157.2,219.7 L172.5,214.0 L188.4,219.7" fill="none" stroke="rgba(228,25,25,0.45)" stroke-width="0.55"/>
<path d="M157.5,219.7 L172.5,197.9 L188.7,207.3" fill="none" stroke="rgba(228,25,25,0.45)" stroke-width="0.55"/>
<path d="M157.6,219.7 L173.2,208.8 L188.7,219.7" fill="none" stroke="rgba(228,25,25,0.45)" stroke-width="0.55"/>
<path d="M157.5,219.7 L172.7,219.7 L189.2,209.3" fill="none" stroke="rgba(228,25,25,0.45)" stroke-width="0.55"/>
<path d="M158.3,219.7 L172.8,214.6 L188.9,201.2" fill="none" stroke="rgba(228,25,25,0.45)" stroke-width="0.55"/>
<path d="M157.6,219.7 L172.7,214.0 L188.9,173.8" fill="none" stroke="rgba(228,25,25,0.45)" stroke-width="0.55"/>
<path d="M157.9,219.7 L172.6,219.7 L188.7,219.7" fill="none" stroke="rgba(228,25,25,0.45)" stroke-width="0.55"/>
<path d="M158.1,219.7 L172.9,200.7 L188.4,195.1" fill="none" stroke="rgba(228,25,25,0.45)" stroke-width="0.55"/>
<path d="M158.0,219.7 L173.5,196.8 L188.5,176.9" fill="none" stroke="rgba(228,25,25,0.45)" stroke-width="0.55"/>
<path d="M157.5,219.7 L172.5,215.0 L187.9,179.3" fill="none" stroke="rgba(228,25,25,0.45)" stroke-width="0.55"/>
<path d="M157.8,215.4 L173.5,219.7 L187.8,177.2" fill="none" stroke="rgba(228,25,25,0.45)" stroke-width="0.55"/>
<path d="M157.2,219.7 L172.7,207.6 L188.7,172.8" fill="none" stroke="rgba(228,25,25,0.45)" stroke-width="0.55"/>
<path d="M158.1,219.7 L172.4,191.3 L188.3,174.5" fill="none" stroke="rgba(228,25,25,0.45)" stroke-width="0.55"/>
<path d="M157.9,219.7 L173.6,193.8 L188.3,172.9" fill="none" stroke="rgba(228,25,25,0.45)" stroke-width="0.55"/>
<path d="M157.8,219.7 L173.0,192.5 L188.0,176.3" fill="none" stroke="rgba(228,25,25,0.45)" stroke-width="0.55"/>
<path d="M157.4,216.6 L173.6,219.7 L188.4,219.7" fill="none" stroke="rgba(228,25,25,0.45)" stroke-width="0.55"/>
<path d="M158.1,213.6 L172.5,193.4 L188.0,175.7" fill="none" stroke="rgba(228,25,25,0.45)" stroke-width="0.55"/>
<path d="M157.3,214.7 L173.2,191.8 L188.5,173.5" fill="none" stroke="rgba(228,25,25,0.45)" stroke-width="0.55"/>
<path d="M157.6,216.2 L172.6,190.9 L188.3,175.3" fill="none" stroke="rgba(228,25,25,0.45)" stroke-width="0.55"/>
<path d="M158.3,219.7 L173.4,195.6 L188.3,174.6" fill="none" stroke="rgba(228,25,25,0.45)" stroke-width="0.55"/>
<path d="M158.2,214.1 L173.5,205.5 L188.3,175.3" fill="none" stroke="rgba(228,25,25,0.45)" stroke-width="0.55"/>
<path d="M157.2,216.6 L172.9,190.7 L188.9,177.1" fill="none" stroke="rgba(228,25,25,0.45)" stroke-width="0.55"/>
<path d="M158.2,215.3 L173.1,184.6 L188.0,178.1" fill="none" stroke="rgba(228,25,25,0.45)" stroke-width="0.55"/>
<path d="M158.0,213.8 L172.4,196.1 L187.9,174.2" fill="none" stroke="rgba(228,25,25,0.45)" stroke-width="0.55"/>
<path d="M157.6,214.0 L172.8,184.5 L189.0,174.6" fill="none" stroke="rgba(228,25,25,0.45)" stroke-width="0.55"/>
<path d="M157.2,214.2 L172.9,195.1 L188.2,169.3" fill="none" stroke="rgba(228,25,25,0.45)" stroke-width="0.55"/>
<path d="M158.5,211.0 L173.5,169.1 L188.9,177.5" fill="none" stroke="rgba(228,25,25,0.45)" stroke-width="0.55"/>
<path d="M157.6,213.9 L173.4,188.4 L188.2,169.4" fill="none" stroke="rgba(228,25,25,0.45)" stroke-width="0.55"/>
<path d="M157.5,209.8 L172.9,195.6 L188.7,168.2" fill="none" stroke="rgba(228,25,25,0.45)" stroke-width="0.55"/>
<path d="M157.5,209.8 L173.4,188.7 L189.0,174.9" fill="none" stroke="rgba(228,25,25,0.45)" stroke-width="0.55"/>
<path d="M157.1,209.1 L172.7,187.0 L188.8,169.5" fill="none" stroke="rgba(228,25,25,0.45)" stroke-width="0.55"/>
<path d="M158.3,212.1 L172.7,190.9 L188.3,170.6" fill="none" stroke="rgba(228,25,25,0.45)" stroke-width="0.55"/>
<path d="M158.4,214.0 L172.4,192.6 L188.7,175.7" fill="none" stroke="rgba(228,25,25,0.45)" stroke-width="0.55"/>
<path d="M157.5,213.7 L172.5,186.8 L189.1,164.6" fill="none" stroke="rgba(228,25,25,0.45)" stroke-width="0.55"/>
<path d="M157.7,212.3 L173.1,203.4 L187.9,164.9" fill="none" stroke="rgba(228,25,25,0.45)" stroke-width="0.55"/>
<path d="M158.1,213.4 L172.9,188.3 L188.3,168.8" fill="none" stroke="rgba(228,25,25,0.45)" stroke-width="0.55"/>
<path d="M157.7,210.0 L172.5,197.7 L187.8,170.3" fill="none" stroke="rgba(228,25,25,0.45)" stroke-width="0.55"/>
<path d="M157.3,215.0 L173.3,182.2 L187.8,166.7" fill="none" stroke="rgba(228,25,25,0.45)" stroke-width="0.55"/>
<path d="M158.1,209.0 L172.9,187.4 L188.5,168.9" fill="none" stroke="rgba(228,25,25,0.45)" stroke-width="0.55"/>
<path d="M158.0,208.6 L172.8,179.9 L188.2,173.9" fill="none" stroke="rgba(228,25,25,0.45)" stroke-width="0.55"/>
<path d="M157.2,211.5 L173.6,184.7 L188.0,170.3" fill="none" stroke="rgba(228,25,25,0.45)" stroke-width="0.55"/>
<path d="M158.0,212.1 L172.3,173.6 L188.1,167.8" fill="none" stroke="rgba(228,25,25,0.45)" stroke-width="0.55"/>
<path d="M157.4,210.9 L172.7,179.2 L188.4,176.2" fill="none" stroke="rgba(228,25,25,0.45)" stroke-width="0.55"/>
<path d="M157.3,211.4 L173.6,181.3 L188.0,166.8" fill="none" stroke="rgba(228,25,25,0.45)" stroke-width="0.55"/>
<path d="M157.4,212.6 L173.6,180.3 L189.0,166.1" fill="none" stroke="rgba(228,25,25,0.45)" stroke-width="0.55"/>
<path d="M157.1,211.2 L172.5,170.4 L189.0,157.7" fill="none" stroke="rgba(228,25,25,0.45)" stroke-width="0.55"/>
<path d="M157.4,204.5 L173.0,176.6 L188.2,162.6" fill="none" stroke="rgba(228,25,25,0.45)" stroke-width="0.55"/>
<path d="M157.6,206.7 L173.0,180.1 L188.8,163.4" fill="none" stroke="rgba(228,25,25,0.45)" stroke-width="0.55"/>
<path d="M157.2,206.9 L173.0,170.4 L187.9,167.9" fill="none" stroke="rgba(228,25,25,0.45)" stroke-width="0.55"/>
<path d="M157.8,208.5 L173.2,176.1 L188.5,169.0" fill="none" stroke="rgba(228,25,25,0.45)" stroke-width="0.55"/>
<path d="M158.2,204.0 L172.9,175.8 L188.5,167.0" fill="none" stroke="rgba(228,25,25,0.45)" stroke-width="0.55"/>
<path d="M157.6,203.8 L173.3,176.0 L188.9,166.9" fill="none" stroke="rgba(228,25,25,0.45)" stroke-width="0.55"/>
<path d="M157.5,219.7 L172.9,177.3 L189.1,164.9" fill="none" stroke="rgba(228,25,25,0.45)" stroke-width="0.55"/>
<path d="M158.2,191.7 L173.6,171.5 L188.8,162.8" fill="none" stroke="rgba(228,25,25,0.45)" stroke-width="0.55"/>
<path d="M157.5,209.1 L173.3,188.4 L188.7,162.2" fill="none" stroke="rgba(228,25,25,0.45)" stroke-width="0.55"/>
<path d="M158.1,208.7 L172.8,170.0 L187.9,159.8" fill="none" stroke="rgba(228,25,25,0.45)" stroke-width="0.55"/>
<path d="M157.5,197.6 L172.3,173.7 L189.2,175.8" fill="none" stroke="rgba(228,25,25,0.45)" stroke-width="0.55"/>
<path d="M158.1,199.1 L173.0,175.2 L188.3,169.1" fill="none" stroke="rgba(228,25,25,0.45)" stroke-width="0.55"/>
<path d="M158.3,203.0 L173.0,174.8 L188.8,158.7" fill="none" stroke="rgba(228,25,25,0.45)" stroke-width="0.55"/>
<path d="M158.1,192.2 L172.7,219.7 L188.0,158.4" fill="none" stroke="rgba(228,25,25,0.45)" stroke-width="0.55"/>
<path d="M158.2,203.8 L173.7,176.2 L187.8,161.3" fill="none" stroke="rgba(228,25,25,0.45)" stroke-width="0.55"/>
<path d="M157.1,198.4 L173.2,166.2 L188.1,168.0" fill="none" stroke="rgba(228,25,25,0.45)" stroke-width="0.55"/>
<path d="M158.3,204.1 L173.3,187.0 L189.2,160.1" fill="none" stroke="rgba(228,25,25,0.45)" stroke-width="0.55"/>
<path d="M158.1,191.9 L172.4,168.9 L189.2,158.5" fill="none" stroke="rgba(228,25,25,0.45)" stroke-width="0.55"/>
<path d="M158.5,206.7 L172.4,169.3 L188.6,158.0" fill="none" stroke="rgba(228,25,25,0.45)" stroke-width="0.55"/>
<path d="M157.5,192.2 L172.5,167.1 L188.1,162.5" fill="none" stroke="rgba(228,25,25,0.45)" stroke-width="0.55"/>
<path d="M157.8,192.2 L172.5,171.9 L188.1,158.6" fill="none" stroke="rgba(228,25,25,0.45)" stroke-width="0.55"/>
<path d="M157.80,159.80 L173.00,157.60 L188.50,156.40" fill="none" stroke="rgba(250,170,20,0.6)" stroke-width="0.6"/>
<path d="M157.80,172.60 L173.00,161.30 L188.50,156.40" fill="none" stroke="rgba(250,170,20,0.6)" stroke-width="0.6"/>
<circle cx="158.4" cy="216.5" r="0.8" fill="rgba(214,0,0,0.85)"/>
<circle cx="173.1" cy="206.2" r="0.8" fill="rgba(214,0,0,0.85)"/>
<circle cx="188.8" cy="206.9" r="0.8" fill="rgba(214,0,0,0.85)"/>
<circle cx="157.2" cy="219.7" r="0.8" fill="rgba(214,0,0,0.85)"/>
<circle cx="172.5" cy="214.0" r="0.8" fill="rgba(214,0,0,0.85)"/>
<circle cx="188.4" cy="219.7" r="0.8" fill="rgba(214,0,0,0.85)"/>
<circle cx="157.5" cy="219.7" r="0.8" fill="rgba(214,0,0,0.85)"/>
<circle cx="172.5" cy="197.9" r="0.8" fill="rgba(214,0,0,0.85)"/>
<circle cx="188.7" cy="207.3" r="0.8" fill="rgba(214,0,0,0.85)"/>
<circle cx="157.6" cy="219.7" r="0.8" fill="rgba(214,0,0,0.85)"/>
<circle cx="173.2" cy="208.8" r="0.8" fill="rgba(214,0,0,0.85)"/>
<circle cx="188.7" cy="219.7" r="0.8" fill="rgba(214,0,0,0.85)"/>
<circle cx="157.5" cy="219.7" r="0.8" fill="rgba(214,0,0,0.85)"/>
<circle cx="172.7" cy="219.7" r="0.8" fill="rgba(214,0,0,0.85)"/>
<circle cx="189.2" cy="209.3" r="0.8" fill="rgba(214,0,0,0.85)"/>
<circle cx="158.3" cy="219.7" r="0.8" fill="rgba(214,0,0,0.85)"/>
<circle cx="172.8" cy="214.6" r="0.8" fill="rgba(214,0,0,0.85)"/>
<circle cx="188.9" cy="201.2" r="0.8" fill="rgba(214,0,0,0.85)"/>
<circle cx="157.6" cy="219.7" r="0.8" fill="rgba(214,0,0,0.85)"/>
<circle cx="172.7" cy="214.0" r="0.8" fill="rgba(214,0,0,0.85)"/>
<circle cx="188.9" cy="173.8" r="0.8" fill="rgba(214,0,0,0.85)"/>
<circle cx="157.9" cy="219.7" r="0.8" fill="rgba(214,0,0,0.85)"/>
<circle cx="172.6" cy="219.7" r="0.8" fill="rgba(214,0,0,0.85)"/>
<circle cx="188.7" cy="219.7" r="0.8" fill="rgba(214,0,0,0.85)"/>
<circle cx="158.1" cy="219.7" r="0.8" fill="rgba(214,0,0,0.85)"/>
<circle cx="172.9" cy="200.7" r="0.8" fill="rgba(214,0,0,0.85)"/>
<circle cx="188.4" cy="195.1" r="0.8" fill="rgba(214,0,0,0.85)"/>
<circle cx="158.0" cy="219.7" r="0.8" fill="rgba(214,0,0,0.85)"/>
<circle cx="173.5" cy="196.8" r="0.8" fill="rgba(214,0,0,0.85)"/>
<circle cx="188.5" cy="176.9" r="0.8" fill="rgba(214,0,0,0.85)"/>
<circle cx="157.5" cy="219.7" r="0.8" fill="rgba(214,0,0,0.85)"/>
<circle cx="172.5" cy="215.0" r="0.8" fill="rgba(214,0,0,0.85)"/>
<circle cx="187.9" cy="179.3" r="0.8" fill="rgba(214,0,0,0.85)"/>
<circle cx="157.8" cy="215.4" r="0.8" fill="rgba(214,0,0,0.85)"/>
<circle cx="173.5" cy="219.7" r="0.8" fill="rgba(214,0,0,0.85)"/>
<circle cx="187.8" cy="177.2" r="0.8" fill="rgba(214,0,0,0.85)"/>
<circle cx="157.2" cy="219.7" r="0.8" fill="rgba(214,0,0,0.85)"/>
<circle cx="172.7" cy="207.6" r="0.8" fill="rgba(214,0,0,0.85)"/>
<circle cx="188.7" cy="172.8" r="0.8" fill="rgba(214,0,0,0.85)"/>
<circle cx="158.1" cy="219.7" r="0.8" fill="rgba(214,0,0,0.85)"/>
<circle cx="172.4" cy="191.3" r="0.8" fill="rgba(214,0,0,0.85)"/>
<circle cx="188.3" cy="174.5" r="0.8" fill="rgba(214,0,0,0.85)"/>
<circle cx="157.9" cy="219.7" r="0.8" fill="rgba(214,0,0,0.85)"/>
<circle cx="173.6" cy="193.8" r="0.8" fill="rgba(214,0,0,0.85)"/>
<circle cx="188.3" cy="172.9" r="0.8" fill="rgba(214,0,0,0.85)"/>
<circle cx="157.8" cy="219.7" r="0.8" fill="rgba(214,0,0,0.85)"/>
<circle cx="173.0" cy="192.5" r="0.8" fill="rgba(214,0,0,0.85)"/>
<circle cx="188.0" cy="176.3" r="0.8" fill="rgba(214,0,0,0.85)"/>
<circle cx="157.4" cy="216.6" r="0.8" fill="rgba(214,0,0,0.85)"/>
<circle cx="173.6" cy="219.7" r="0.8" fill="rgba(214,0,0,0.85)"/>
<circle cx="188.4" cy="219.7" r="0.8" fill="rgba(214,0,0,0.85)"/>
<circle cx="158.1" cy="213.6" r="0.8" fill="rgba(214,0,0,0.85)"/>
<circle cx="172.5" cy="193.4" r="0.8" fill="rgba(214,0,0,0.85)"/>
<circle cx="188.0" cy="175.7" r="0.8" fill="rgba(214,0,0,0.85)"/>
<circle cx="157.3" cy="214.7" r="0.8" fill="rgba(214,0,0,0.85)"/>
<circle cx="173.2" cy="191.8" r="0.8" fill="rgba(214,0,0,0.85)"/>
<circle cx="188.5" cy="173.5" r="0.8" fill="rgba(214,0,0,0.85)"/>
<circle cx="157.6" cy="216.2" r="0.8" fill="rgba(214,0,0,0.85)"/>
<circle cx="172.6" cy="190.9" r="0.8" fill="rgba(214,0,0,0.85)"/>
<circle cx="188.3" cy="175.3" r="0.8" fill="rgba(214,0,0,0.85)"/>
<circle cx="158.3" cy="219.7" r="0.8" fill="rgba(214,0,0,0.85)"/>
<circle cx="173.4" cy="195.6" r="0.8" fill="rgba(214,0,0,0.85)"/>
<circle cx="188.3" cy="174.6" r="0.8" fill="rgba(214,0,0,0.85)"/>
<circle cx="158.2" cy="214.1" r="0.8" fill="rgba(214,0,0,0.85)"/>
<circle cx="173.5" cy="205.5" r="0.8" fill="rgba(214,0,0,0.85)"/>
<circle cx="188.3" cy="175.3" r="0.8" fill="rgba(214,0,0,0.85)"/>
<circle cx="157.2" cy="216.6" r="0.8" fill="rgba(214,0,0,0.85)"/>
<circle cx="172.9" cy="190.7" r="0.8" fill="rgba(214,0,0,0.85)"/>
<circle cx="188.9" cy="177.1" r="0.8" fill="rgba(214,0,0,0.85)"/>
<circle cx="158.2" cy="215.3" r="0.8" fill="rgba(214,0,0,0.85)"/>
<circle cx="173.1" cy="184.6" r="0.8" fill="rgba(214,0,0,0.85)"/>
<circle cx="188.0" cy="178.1" r="0.8" fill="rgba(214,0,0,0.85)"/>
<circle cx="158.0" cy="213.8" r="0.8" fill="rgba(214,0,0,0.85)"/>
<circle cx="172.4" cy="196.1" r="0.8" fill="rgba(214,0,0,0.85)"/>
<circle cx="187.9" cy="174.2" r="0.8" fill="rgba(214,0,0,0.85)"/>
<circle cx="157.6" cy="214.0" r="0.8" fill="rgba(214,0,0,0.85)"/>
<circle cx="172.8" cy="184.5" r="0.8" fill="rgba(214,0,0,0.85)"/>
<circle cx="189.0" cy="174.6" r="0.8" fill="rgba(214,0,0,0.85)"/>
<circle cx="157.2" cy="214.2" r="0.8" fill="rgba(214,0,0,0.85)"/>
<circle cx="172.9" cy="195.1" r="0.8" fill="rgba(214,0,0,0.85)"/>
<circle cx="188.2" cy="169.3" r="0.8" fill="rgba(214,0,0,0.85)"/>
<circle cx="158.5" cy="211.0" r="0.8" fill="rgba(214,0,0,0.85)"/>
<circle cx="173.5" cy="169.1" r="0.8" fill="rgba(214,0,0,0.85)"/>
<circle cx="188.9" cy="177.5" r="0.8" fill="rgba(214,0,0,0.85)"/>
<circle cx="157.6" cy="213.9" r="0.8" fill="rgba(214,0,0,0.85)"/>
<circle cx="173.4" cy="188.4" r="0.8" fill="rgba(214,0,0,0.85)"/>
<circle cx="188.2" cy="169.4" r="0.8" fill="rgba(214,0,0,0.85)"/>
<circle cx="157.5" cy="209.8" r="0.8" fill="rgba(214,0,0,0.85)"/>
<circle cx="172.9" cy="195.6" r="0.8" fill="rgba(214,0,0,0.85)"/>
<circle cx="188.7" cy="168.2" r="0.8" fill="rgba(214,0,0,0.85)"/>
<circle cx="157.5" cy="209.8" r="0.8" fill="rgba(214,0,0,0.85)"/>
<circle cx="173.4" cy="188.7" r="0.8" fill="rgba(214,0,0,0.85)"/>
<circle cx="189.0" cy="174.9" r="0.8" fill="rgba(214,0,0,0.85)"/>
<circle cx="157.1" cy="209.1" r="0.8" fill="rgba(214,0,0,0.85)"/>
<circle cx="172.7" cy="187.0" r="0.8" fill="rgba(214,0,0,0.85)"/>
<circle cx="188.8" cy="169.5" r="0.8" fill="rgba(214,0,0,0.85)"/>
<circle cx="158.3" cy="212.1" r="0.8" fill="rgba(214,0,0,0.85)"/>
<circle cx="172.7" cy="190.9" r="0.8" fill="rgba(214,0,0,0.85)"/>
<circle cx="188.3" cy="170.6" r="0.8" fill="rgba(214,0,0,0.85)"/>
<circle cx="158.4" cy="214.0" r="0.8" fill="rgba(214,0,0,0.85)"/>
<circle cx="172.4" cy="192.6" r="0.8" fill="rgba(214,0,0,0.85)"/>
<circle cx="188.7" cy="175.7" r="0.8" fill="rgba(214,0,0,0.85)"/>
<circle cx="157.5" cy="213.7" r="0.8" fill="rgba(214,0,0,0.85)"/>
<circle cx="172.5" cy="186.8" r="0.8" fill="rgba(214,0,0,0.85)"/>
<circle cx="189.1" cy="164.6" r="0.8" fill="rgba(214,0,0,0.85)"/>
<circle cx="157.7" cy="212.3" r="0.8" fill="rgba(214,0,0,0.85)"/>
<circle cx="173.1" cy="203.4" r="0.8" fill="rgba(214,0,0,0.85)"/>
<circle cx="187.9" cy="164.9" r="0.8" fill="rgba(214,0,0,0.85)"/>
<circle cx="158.1" cy="213.4" r="0.8" fill="rgba(214,0,0,0.85)"/>
<circle cx="172.9" cy="188.3" r="0.8" fill="rgba(214,0,0,0.85)"/>
<circle cx="188.3" cy="168.8" r="0.8" fill="rgba(214,0,0,0.85)"/>
<circle cx="157.7" cy="210.0" r="0.8" fill="rgba(214,0,0,0.85)"/>
<circle cx="172.5" cy="197.7" r="0.8" fill="rgba(214,0,0,0.85)"/>
<circle cx="187.8" cy="170.3" r="0.8" fill="rgba(214,0,0,0.85)"/>
<circle cx="157.3" cy="215.0" r="0.8" fill="rgba(214,0,0,0.85)"/>
<circle cx="173.3" cy="182.2" r="0.8" fill="rgba(214,0,0,0.85)"/>
<circle cx="187.8" cy="166.7" r="0.8" fill="rgba(214,0,0,0.85)"/>
<circle cx="158.1" cy="209.0" r="0.8" fill="rgba(214,0,0,0.85)"/>
<circle cx="172.9" cy="187.4" r="0.8" fill="rgba(214,0,0,0.85)"/>
<circle cx="188.5" cy="168.9" r="0.8" fill="rgba(214,0,0,0.85)"/>
<circle cx="158.0" cy="208.6" r="0.8" fill="rgba(214,0,0,0.85)"/>
<circle cx="172.8" cy="179.9" r="0.8" fill="rgba(214,0,0,0.85)"/>
<circle cx="188.2" cy="173.9" r="0.8" fill="rgba(214,0,0,0.85)"/>
<circle cx="157.2" cy="211.5" r="0.8" fill="rgba(214,0,0,0.85)"/>
<circle cx="173.6" cy="184.7" r="0.8" fill="rgba(214,0,0,0.85)"/>
<circle cx="188.0" cy="170.3" r="0.8" fill="rgba(214,0,0,0.85)"/>
<circle cx="158.0" cy="212.1" r="0.8" fill="rgba(214,0,0,0.85)"/>
<circle cx="172.3" cy="173.6" r="0.8" fill="rgba(214,0,0,0.85)"/>
<circle cx="188.1" cy="167.8" r="0.8" fill="rgba(214,0,0,0.85)"/>
<circle cx="157.4" cy="210.9" r="0.8" fill="rgba(214,0,0,0.85)"/>
<circle cx="172.7" cy="179.2" r="0.8" fill="rgba(214,0,0,0.85)"/>
<circle cx="188.4" cy="176.2" r="0.8" fill="rgba(214,0,0,0.85)"/>
<circle cx="157.3" cy="211.4" r="0.8" fill="rgba(214,0,0,0.85)"/>
<circle cx="173.6" cy="181.3" r="0.8" fill="rgba(214,0,0,0.85)"/>
<circle cx="188.0" cy="166.8" r="0.8" fill="rgba(214,0,0,0.85)"/>
<circle cx="157.4" cy="212.6" r="0.8" fill="rgba(214,0,0,0.85)"/>
<circle cx="173.6" cy="180.3" r="0.8" fill="rgba(214,0,0,0.85)"/>
<circle cx="189.0" cy="166.1" r="0.8" fill="rgba(214,0,0,0.85)"/>
<circle cx="157.1" cy="211.2" r="0.8" fill="rgba(214,0,0,0.85)"/>
<circle cx="172.5" cy="170.4" r="0.8" fill="rgba(214,0,0,0.85)"/>
<circle cx="189.0" cy="157.7" r="0.8" fill="rgba(214,0,0,0.85)"/>
<circle cx="157.4" cy="204.5" r="0.8" fill="rgba(214,0,0,0.85)"/>
<circle cx="173.0" cy="176.6" r="0.8" fill="rgba(214,0,0,0.85)"/>
<circle cx="188.2" cy="162.6" r="0.8" fill="rgba(214,0,0,0.85)"/>
<circle cx="157.6" cy="206.7" r="0.8" fill="rgba(214,0,0,0.85)"/>
<circle cx="173.0" cy="180.1" r="0.8" fill="rgba(214,0,0,0.85)"/>
<circle cx="188.8" cy="163.4" r="0.8" fill="rgba(214,0,0,0.85)"/>
<circle cx="157.2" cy="206.9" r="0.8" fill="rgba(214,0,0,0.85)"/>
<circle cx="173.0" cy="170.4" r="0.8" fill="rgba(214,0,0,0.85)"/>
<circle cx="187.9" cy="167.9" r="0.8" fill="rgba(214,0,0,0.85)"/>
<circle cx="157.8" cy="208.5" r="0.8" fill="rgba(214,0,0,0.85)"/>
<circle cx="173.2" cy="176.1" r="0.8" fill="rgba(214,0,0,0.85)"/>
<circle cx="188.5" cy="169.0" r="0.8" fill="rgba(214,0,0,0.85)"/>
<circle cx="158.2" cy="204.0" r="0.8" fill="rgba(214,0,0,0.85)"/>
<circle cx="172.9" cy="175.8" r="0.8" fill="rgba(214,0,0,0.85)"/>
<circle cx="188.5" cy="167.0" r="0.8" fill="rgba(214,0,0,0.85)"/>
<circle cx="157.6" cy="203.8" r="0.8" fill="rgba(214,0,0,0.85)"/>
<circle cx="173.3" cy="176.0" r="0.8" fill="rgba(214,0,0,0.85)"/>
<circle cx="188.9" cy="166.9" r="0.8" fill="rgba(214,0,0,0.85)"/>
<circle cx="157.5" cy="219.7" r="0.8" fill="rgba(214,0,0,0.85)"/>
<circle cx="172.9" cy="177.3" r="0.8" fill="rgba(214,0,0,0.85)"/>
<circle cx="189.1" cy="164.9" r="0.8" fill="rgba(214,0,0,0.85)"/>
<circle cx="158.2" cy="191.7" r="0.8" fill="rgba(214,0,0,0.85)"/>
<circle cx="173.6" cy="171.5" r="0.8" fill="rgba(214,0,0,0.85)"/>
<circle cx="188.8" cy="162.8" r="0.8" fill="rgba(214,0,0,0.85)"/>
<circle cx="157.5" cy="209.1" r="0.8" fill="rgba(214,0,0,0.85)"/>
<circle cx="173.3" cy="188.4" r="0.8" fill="rgba(214,0,0,0.85)"/>
<circle cx="188.7" cy="162.2" r="0.8" fill="rgba(214,0,0,0.85)"/>
<circle cx="158.1" cy="208.7" r="0.8" fill="rgba(214,0,0,0.85)"/>
<circle cx="172.8" cy="170.0" r="0.8" fill="rgba(214,0,0,0.85)"/>
<circle cx="187.9" cy="159.8" r="0.8" fill="rgba(214,0,0,0.85)"/>
<circle cx="157.5" cy="197.6" r="0.8" fill="rgba(214,0,0,0.85)"/>
<circle cx="172.3" cy="173.7" r="0.8" fill="rgba(214,0,0,0.85)"/>
<circle cx="189.2" cy="175.8" r="0.8" fill="rgba(214,0,0,0.85)"/>
<circle cx="158.1" cy="199.1" r="0.8" fill="rgba(214,0,0,0.85)"/>
<circle cx="173.0" cy="175.2" r="0.8" fill="rgba(214,0,0,0.85)"/>
<circle cx="188.3" cy="169.1" r="0.8" fill="rgba(214,0,0,0.85)"/>
<circle cx="158.3" cy="203.0" r="0.8" fill="rgba(214,0,0,0.85)"/>
<circle cx="173.0" cy="174.8" r="0.8" fill="rgba(214,0,0,0.85)"/>
<circle cx="188.8" cy="158.7" r="0.8" fill="rgba(214,0,0,0.85)"/>
<circle cx="158.1" cy="192.2" r="0.8" fill="rgba(214,0,0,0.85)"/>
<circle cx="172.7" cy="219.7" r="0.8" fill="rgba(214,0,0,0.85)"/>
<circle cx="188.0" cy="158.4" r="0.8" fill="rgba(214,0,0,0.85)"/>
<circle cx="158.2" cy="203.8" r="0.8" fill="rgba(214,0,0,0.85)"/>
<circle cx="173.7" cy="176.2" r="0.8" fill="rgba(214,0,0,0.85)"/>
<circle cx="187.8" cy="161.3" r="0.8" fill="rgba(214,0,0,0.85)"/>
<circle cx="157.1" cy="198.4" r="0.8" fill="rgba(214,0,0,0.85)"/>
<circle cx="173.2" cy="166.2" r="0.8" fill="rgba(214,0,0,0.85)"/>
<circle cx="188.1" cy="168.0" r="0.8" fill="rgba(214,0,0,0.85)"/>
<circle cx="158.3" cy="204.1" r="0.8" fill="rgba(214,0,0,0.85)"/>
<circle cx="173.3" cy="187.0" r="0.8" fill="rgba(214,0,0,0.85)"/>
<circle cx="189.2" cy="160.1" r="0.8" fill="rgba(214,0,0,0.85)"/>
<circle cx="158.1" cy="191.9" r="0.8" fill="rgba(214,0,0,0.85)"/>
<circle cx="172.4" cy="168.9" r="0.8" fill="rgba(214,0,0,0.85)"/>
<circle cx="189.2" cy="158.5" r="0.8" fill="rgba(214,0,0,0.85)"/>
<circle cx="158.5" cy="206.7" r="0.8" fill="rgba(214,0,0,0.85)"/>
<circle cx="172.4" cy="169.3" r="0.8" fill="rgba(214,0,0,0.85)"/>
<circle cx="188.6" cy="158.0" r="0.8" fill="rgba(214,0,0,0.85)"/>
<circle cx="157.5" cy="192.2" r="0.8" fill="rgba(214,0,0,0.85)"/>
<circle cx="172.5" cy="167.1" r="0.8" fill="rgba(214,0,0,0.85)"/>
<circle cx="188.1" cy="162.5" r="0.8" fill="rgba(214,0,0,0.85)"/>
<circle cx="157.8" cy="192.2" r="0.8" fill="rgba(214,0,0,0.85)"/>
<circle cx="172.5" cy="171.9" r="0.8" fill="rgba(214,0,0,0.85)"/>
<circle cx="188.1" cy="158.6" r="0.8" fill="rgba(214,0,0,0.85)"/>
<rect x="157.05" y="159.10" width="1.5" height="1.4" fill="rgba(245,160,0,0.9)"/>
<rect x="172.25" y="156.90" width="1.5" height="1.4" fill="rgba(245,160,0,0.9)"/>
<rect x="187.75" y="155.70" width="1.5" height="1.4" fill="rgba(245,160,0,0.9)"/>
<rect x="157.05" y="171.90" width="1.5" height="1.4" fill="rgba(245,160,0,0.9)"/>
<rect x="172.25" y="160.60" width="1.5" height="1.4" fill="rgba(245,160,0,0.9)"/>
<rect x="187.75" y="155.70" width="1.5" height="1.4" fill="rgba(245,160,0,0.9)"/>
<path d="M157.80,215.00 L173.00,186.00 L188.50,172.00" fill="none" stroke="#d20000" stroke-width="1.35" stroke-linejoin="round"/>
<path d="M157.80,177.40 L173.00,158.50 L188.50,157.00" fill="none" stroke="#f7a500" stroke-width="1.35" stroke-linejoin="round"/>
<rect x="157.00" y="176.65" width="1.6" height="1.5" fill="#f5a000"/>
<rect x="172.20" y="157.75" width="1.6" height="1.5" fill="#f5a000"/>
<rect x="187.70" y="156.25" width="1.6" height="1.5" fill="#f5a000"/>
<line x1="148.85" y1="145.30" x2="148.85" y2="223.05" stroke="#111" stroke-width="1.25"/>
<line x1="145.65" y1="148.90" x2="148.85" y2="148.90" stroke="#111" stroke-width="0.9"/>
<line x1="145.65" y1="160.80" x2="148.85" y2="160.80" stroke="#111" stroke-width="0.9"/>
<line x1="145.65" y1="172.70" x2="148.85" y2="172.70" stroke="#111" stroke-width="0.9"/>
<line x1="145.65" y1="178.65" x2="148.85" y2="178.65" stroke="#111" stroke-width="0.9"/>
<line x1="145.65" y1="184.60" x2="148.85" y2="184.60" stroke="#111" stroke-width="0.9"/>
<line x1="145.65" y1="196.50" x2="148.85" y2="196.50" stroke="#111" stroke-width="0.9"/>
<line x1="145.65" y1="222.45" x2="148.85" y2="222.45" stroke="#111" stroke-width="0.9"/>
<line x1="145.65" y1="222.45" x2="194.70" y2="222.45" stroke="#111" stroke-width="1.1"/>
<line x1="157.80" y1="222.45" x2="157.80" y2="225.45" stroke="#111" stroke-width="0.8"/>
<line x1="173.00" y1="222.45" x2="173.00" y2="225.45" stroke="#111" stroke-width="0.8"/>
<line x1="188.50" y1="222.45" x2="188.50" y2="225.45" stroke="#111" stroke-width="0.8"/>
<path d="M150.80,144.50 V143.10 Q150.80,142.70 151.20,142.70 H167.65 Q168.05,142.70 168.05,143.10 V144.50" fill="none" stroke="#383838" stroke-width="0.85"/>
<path d="M170.30,144.50 V143.10 Q170.30,142.70 170.70,142.70 H187.10 Q187.50,142.70 187.50,143.10 V144.50" fill="none" stroke="#383838" stroke-width="0.85"/>
<rect x="158.73" y="139.30" width="1.5" height="1.5" fill="#3a3a3a"/>
<rect x="178.20" y="139.30" width="1.5" height="1.5" fill="#3a3a3a"/>
<path d="M150.80,150.10 V148.70 Q150.80,148.30 151.20,148.30 H187.10 Q187.50,148.30 187.50,148.70 V150.10" fill="none" stroke="#383838" stroke-width="0.85"/>
<rect x="168.45" y="145.00" width="1.5" height="1.5" fill="#3a3a3a"/>
<line x1="205.30" y1="178.65" x2="252.00" y2="178.65" stroke="#d9d9d9" stroke-width="0.9"/>
<line x1="205.30" y1="196.50" x2="252.00" y2="196.50" stroke="#d9d9d9" stroke-width="0.9"/>
<path d="M213.9,219.7 L229.8,219.7 L245.6,202.1" fill="none" stroke="rgba(228,25,25,0.45)" stroke-width="0.55"/>
<path d="M214.7,219.7 L229.5,209.9 L245.1,175.3" fill="none" stroke="rgba(228,25,25,0.45)" stroke-width="0.55"/>
<path d="M214.0,219.7 L229.6,170.6 L245.6,206.6" fill="none" stroke="rgba(228,25,25,0.45)" stroke-width="0.55"/>
<path d="M214.2,219.7 L229.3,219.7 L246.1,219.7" fill="none" stroke="rgba(228,25,25,0.45)" stroke-width="0.55"/>
<path d="M214.8,219.7 L230.6,212.9 L246.4,175.9" fill="none" stroke="rgba(228,25,25,0.45)" stroke-width="0.55"/>
<path d="M214.8,219.7 L230.5,194.6 L245.3,176.3" fill="none" stroke="rgba(228,25,25,0.45)" stroke-width="0.55"/>
<path d="M215.2,219.7 L230.3,219.7 L245.9,196.3" fill="none" stroke="rgba(228,25,25,0.45)" stroke-width="0.55"/>
<path d="M215.1,219.7 L229.9,196.3 L245.6,193.2" fill="none" stroke="rgba(228,25,25,0.45)" stroke-width="0.55"/>
<path d="M214.7,219.7 L230.1,219.7 L245.3,175.3" fill="none" stroke="rgba(228,25,25,0.45)" stroke-width="0.55"/>
<path d="M214.7,219.7 L230.0,197.7 L245.6,176.1" fill="none" stroke="rgba(228,25,25,0.45)" stroke-width="0.55"/>
<path d="M214.5,219.7 L230.4,191.1 L245.2,203.5" fill="none" stroke="rgba(228,25,25,0.45)" stroke-width="0.55"/>
<path d="M214.6,219.7 L230.3,193.6 L245.0,177.2" fill="none" stroke="rgba(228,25,25,0.45)" stroke-width="0.55"/>
<path d="M214.4,219.7 L229.7,205.2 L245.4,177.2" fill="none" stroke="rgba(228,25,25,0.45)" stroke-width="0.55"/>
<path d="M215.2,219.7 L230.3,211.7 L245.2,176.0" fill="none" stroke="rgba(228,25,25,0.45)" stroke-width="0.55"/>
<path d="M214.9,219.7 L230.0,192.8 L245.2,199.6" fill="none" stroke="rgba(228,25,25,0.45)" stroke-width="0.55"/>
<path d="M215.1,216.8 L229.9,190.4 L245.5,174.6" fill="none" stroke="rgba(228,25,25,0.45)" stroke-width="0.55"/>
<path d="M215.1,219.7 L229.7,195.0 L245.1,168.3" fill="none" stroke="rgba(228,25,25,0.45)" stroke-width="0.55"/>
<path d="M214.2,209.6 L230.4,190.4 L245.8,173.9" fill="none" stroke="rgba(228,25,25,0.45)" stroke-width="0.55"/>
<path d="M214.6,219.7 L229.6,185.8 L246.0,174.3" fill="none" stroke="rgba(228,25,25,0.45)" stroke-width="0.55"/>
<path d="M214.7,211.7 L229.5,187.3 L245.3,196.4" fill="none" stroke="rgba(228,25,25,0.45)" stroke-width="0.55"/>
<path d="M215.1,219.7 L230.5,200.6 L245.4,174.3" fill="none" stroke="rgba(228,25,25,0.45)" stroke-width="0.55"/>
<path d="M214.1,219.7 L230.5,197.9 L245.2,174.5" fill="none" stroke="rgba(228,25,25,0.45)" stroke-width="0.55"/>
<path d="M214.0,219.7 L229.6,199.9 L245.9,195.6" fill="none" stroke="rgba(228,25,25,0.45)" stroke-width="0.55"/>
<path d="M214.3,212.4 L229.5,193.4 L245.3,173.4" fill="none" stroke="rgba(228,25,25,0.45)" stroke-width="0.55"/>
<path d="M215.2,214.7 L230.0,181.3 L245.3,167.9" fill="none" stroke="rgba(228,25,25,0.45)" stroke-width="0.55"/>
<path d="M215.0,215.5 L230.5,193.0 L245.5,171.1" fill="none" stroke="rgba(228,25,25,0.45)" stroke-width="0.55"/>
<path d="M214.2,214.8 L229.9,186.2 L245.3,172.5" fill="none" stroke="rgba(228,25,25,0.45)" stroke-width="0.55"/>
<path d="M214.5,219.7 L230.4,191.6 L245.2,172.6" fill="none" stroke="rgba(228,25,25,0.45)" stroke-width="0.55"/>
<path d="M214.2,213.1 L230.1,186.3 L246.2,169.8" fill="none" stroke="rgba(228,25,25,0.45)" stroke-width="0.55"/>
<path d="M215.0,213.9 L230.6,184.8 L245.7,175.8" fill="none" stroke="rgba(228,25,25,0.45)" stroke-width="0.55"/>
<path d="M213.9,209.2 L229.6,181.1 L245.0,170.7" fill="none" stroke="rgba(228,25,25,0.45)" stroke-width="0.55"/>
<path d="M214.7,215.1 L230.6,195.3 L245.1,173.9" fill="none" stroke="rgba(228,25,25,0.45)" stroke-width="0.55"/>
<path d="M215.1,216.3 L229.6,194.3 L246.4,170.0" fill="none" stroke="rgba(228,25,25,0.45)" stroke-width="0.55"/>
<path d="M214.4,212.0 L229.8,182.2 L245.3,165.3" fill="none" stroke="rgba(228,25,25,0.45)" stroke-width="0.55"/>
<path d="M214.4,215.2 L230.4,189.6 L245.2,171.1" fill="none" stroke="rgba(228,25,25,0.45)" stroke-width="0.55"/>
<path d="M215.0,212.0 L230.5,185.0 L245.9,170.5" fill="none" stroke="rgba(228,25,25,0.45)" stroke-width="0.55"/>
<path d="M214.7,213.9 L229.7,175.8 L246.2,163.9" fill="none" stroke="rgba(228,25,25,0.45)" stroke-width="0.55"/>
<path d="M214.7,216.1 L229.4,184.2 L245.4,171.2" fill="none" stroke="rgba(228,25,25,0.45)" stroke-width="0.55"/>
<path d="M214.3,210.8 L229.7,177.7 L245.4,170.5" fill="none" stroke="rgba(228,25,25,0.45)" stroke-width="0.55"/>
<path d="M215.1,211.8 L229.8,172.5 L245.5,172.0" fill="none" stroke="rgba(228,25,25,0.45)" stroke-width="0.55"/>
<path d="M214.9,208.5 L230.1,183.0 L246.1,162.3" fill="none" stroke="rgba(228,25,25,0.45)" stroke-width="0.55"/>
<path d="M214.8,209.1 L229.9,183.2 L245.9,172.1" fill="none" stroke="rgba(228,25,25,0.45)" stroke-width="0.55"/>
<path d="M214.8,205.7 L230.5,187.6 L245.2,167.5" fill="none" stroke="rgba(228,25,25,0.45)" stroke-width="0.55"/>
<path d="M214.5,212.4 L229.9,180.4 L245.6,171.1" fill="none" stroke="rgba(228,25,25,0.45)" stroke-width="0.55"/>
<path d="M214.4,211.5 L230.3,183.6 L245.8,169.1" fill="none" stroke="rgba(228,25,25,0.45)" stroke-width="0.55"/>
<path d="M214.9,209.9 L229.6,173.3 L245.5,168.7" fill="none" stroke="rgba(228,25,25,0.45)" stroke-width="0.55"/>
<path d="M215.1,214.8 L230.3,182.7 L245.8,169.5" fill="none" stroke="rgba(228,25,25,0.45)" stroke-width="0.55"/>
<path d="M215.2,213.7 L230.0,178.0 L245.0,163.4" fill="none" stroke="rgba(228,25,25,0.45)" stroke-width="0.55"/>
<path d="M214.9,212.0 L230.4,180.4 L245.4,163.9" fill="none" stroke="rgba(228,25,25,0.45)" stroke-width="0.55"/>
<path d="M214.3,212.8 L230.2,176.8 L246.2,160.7" fill="none" stroke="rgba(228,25,25,0.45)" stroke-width="0.55"/>
<path d="M214.4,208.3 L230.3,171.3 L245.6,161.6" fill="none" stroke="rgba(228,25,25,0.45)" stroke-width="0.55"/>
<path d="M215.3,206.5 L230.0,173.3 L245.5,161.3" fill="none" stroke="rgba(228,25,25,0.45)" stroke-width="0.55"/>
<path d="M214.8,213.2 L230.0,176.4 L246.1,163.3" fill="none" stroke="rgba(228,25,25,0.45)" stroke-width="0.55"/>
<path d="M214.1,209.2 L230.3,177.4 L245.4,167.8" fill="none" stroke="rgba(228,25,25,0.45)" stroke-width="0.55"/>
<path d="M215.2,204.5 L230.7,176.7 L246.3,163.4" fill="none" stroke="rgba(228,25,25,0.45)" stroke-width="0.55"/>
<path d="M215.0,201.0 L229.7,165.1 L245.2,158.0" fill="none" stroke="rgba(228,25,25,0.45)" stroke-width="0.55"/>
<path d="M214.8,202.8 L230.0,178.3 L245.9,161.1" fill="none" stroke="rgba(228,25,25,0.45)" stroke-width="0.55"/>
<path d="M214.7,203.1 L230.7,182.3 L245.1,165.1" fill="none" stroke="rgba(228,25,25,0.45)" stroke-width="0.55"/>
<path d="M214.7,203.4 L229.9,178.0 L245.3,162.3" fill="none" stroke="rgba(228,25,25,0.45)" stroke-width="0.55"/>
<path d="M215.1,204.9 L230.3,168.8 L245.7,167.7" fill="none" stroke="rgba(228,25,25,0.45)" stroke-width="0.55"/>
<path d="M214.3,206.7 L230.1,173.5 L246.3,160.4" fill="none" stroke="rgba(228,25,25,0.45)" stroke-width="0.55"/>
<path d="M215.0,195.8 L229.5,173.5 L245.6,159.3" fill="none" stroke="rgba(228,25,25,0.45)" stroke-width="0.55"/>
<path d="M214.1,203.7 L229.5,163.8 L246.0,167.0" fill="none" stroke="rgba(228,25,25,0.45)" stroke-width="0.55"/>
<path d="M215.0,191.7 L230.4,168.2 L245.2,163.9" fill="none" stroke="rgba(228,25,25,0.45)" stroke-width="0.55"/>
<path d="M214.9,197.5 L230.2,160.6 L245.6,164.5" fill="none" stroke="rgba(228,25,25,0.45)" stroke-width="0.55"/>
<path d="M215.2,193.8 L230.4,168.4 L246.1,155.6" fill="none" stroke="rgba(228,25,25,0.45)" stroke-width="0.55"/>
<path d="M214.8,207.4 L229.6,168.2 L245.4,168.2" fill="none" stroke="rgba(228,25,25,0.45)" stroke-width="0.55"/>
<path d="M215.0,206.4 L230.5,165.2 L246.1,159.3" fill="none" stroke="rgba(228,25,25,0.45)" stroke-width="0.55"/>
<path d="M214.9,192.8 L230.3,160.2 L245.1,154.7" fill="none" stroke="rgba(228,25,25,0.45)" stroke-width="0.55"/>
<path d="M214.5,191.9 L230.4,159.7 L245.3,155.4" fill="none" stroke="rgba(228,25,25,0.45)" stroke-width="0.55"/>
<path d="M215.2,203.2 L229.4,168.7 L245.2,154.3" fill="none" stroke="rgba(228,25,25,0.45)" stroke-width="0.55"/>
<path d="M214.8,192.3 L229.6,166.0 L245.5,155.8" fill="none" stroke="rgba(228,25,25,0.45)" stroke-width="0.55"/>
<path d="M214.4,201.2 L229.8,164.1 L246.2,155.7" fill="none" stroke="rgba(228,25,25,0.45)" stroke-width="0.55"/>
<path d="M215.1,196.3 L229.3,170.9 L246.1,154.2" fill="none" stroke="rgba(228,25,25,0.45)" stroke-width="0.55"/>
<path d="M214.0,191.8 L229.7,163.9 L246.2,160.4" fill="none" stroke="rgba(228,25,25,0.45)" stroke-width="0.55"/>
<path d="M214.1,191.8 L230.5,167.4 L246.3,154.3" fill="none" stroke="rgba(228,25,25,0.45)" stroke-width="0.55"/>
<path d="M214.3,192.3 L230.2,160.5 L245.5,160.4" fill="none" stroke="rgba(228,25,25,0.45)" stroke-width="0.55"/>
<path d="M214.9,192.1 L229.3,165.8 L245.3,159.0" fill="none" stroke="rgba(228,25,25,0.45)" stroke-width="0.55"/>
<path d="M215.1,191.8 L229.9,163.0 L245.9,156.1" fill="none" stroke="rgba(228,25,25,0.45)" stroke-width="0.55"/>
<path d="M214.7,193.2 L230.6,159.8 L246.4,156.2" fill="none" stroke="rgba(228,25,25,0.45)" stroke-width="0.55"/>
<path d="M214.60,164.20 L230.00,155.70 L245.70,152.60" fill="none" stroke="rgba(250,170,20,0.6)" stroke-width="0.6"/>
<path d="M214.60,177.40 L230.00,169.00 L245.70,157.00" fill="none" stroke="rgba(250,170,20,0.6)" stroke-width="0.6"/>
<path d="M214.60,196.00 L230.00,175.00 L245.70,160.00" fill="none" stroke="rgba(250,170,20,0.6)" stroke-width="0.6"/>
<circle cx="213.9" cy="219.7" r="0.8" fill="rgba(214,0,0,0.85)"/>
<circle cx="229.8" cy="219.7" r="0.8" fill="rgba(214,0,0,0.85)"/>
<circle cx="245.6" cy="202.1" r="0.8" fill="rgba(214,0,0,0.85)"/>
<circle cx="214.7" cy="219.7" r="0.8" fill="rgba(214,0,0,0.85)"/>
<circle cx="229.5" cy="209.9" r="0.8" fill="rgba(214,0,0,0.85)"/>
<circle cx="245.1" cy="175.3" r="0.8" fill="rgba(214,0,0,0.85)"/>
<circle cx="214.0" cy="219.7" r="0.8" fill="rgba(214,0,0,0.85)"/>
<circle cx="229.6" cy="170.6" r="0.8" fill="rgba(214,0,0,0.85)"/>
<circle cx="245.6" cy="206.6" r="0.8" fill="rgba(214,0,0,0.85)"/>
<circle cx="214.2" cy="219.7" r="0.8" fill="rgba(214,0,0,0.85)"/>
<circle cx="229.3" cy="219.7" r="0.8" fill="rgba(214,0,0,0.85)"/>
<circle cx="246.1" cy="219.7" r="0.8" fill="rgba(214,0,0,0.85)"/>
<circle cx="214.8" cy="219.7" r="0.8" fill="rgba(214,0,0,0.85)"/>
<circle cx="230.6" cy="212.9" r="0.8" fill="rgba(214,0,0,0.85)"/>
<circle cx="246.4" cy="175.9" r="0.8" fill="rgba(214,0,0,0.85)"/>
<circle cx="214.8" cy="219.7" r="0.8" fill="rgba(214,0,0,0.85)"/>
<circle cx="230.5" cy="194.6" r="0.8" fill="rgba(214,0,0,0.85)"/>
<circle cx="245.3" cy="176.3" r="0.8" fill="rgba(214,0,0,0.85)"/>
<circle cx="215.2" cy="219.7" r="0.8" fill="rgba(214,0,0,0.85)"/>
<circle cx="230.3" cy="219.7" r="0.8" fill="rgba(214,0,0,0.85)"/>
<circle cx="245.9" cy="196.3" r="0.8" fill="rgba(214,0,0,0.85)"/>
<circle cx="215.1" cy="219.7" r="0.8" fill="rgba(214,0,0,0.85)"/>
<circle cx="229.9" cy="196.3" r="0.8" fill="rgba(214,0,0,0.85)"/>
<circle cx="245.6" cy="193.2" r="0.8" fill="rgba(214,0,0,0.85)"/>
<circle cx="214.7" cy="219.7" r="0.8" fill="rgba(214,0,0,0.85)"/>
<circle cx="230.1" cy="219.7" r="0.8" fill="rgba(214,0,0,0.85)"/>
<circle cx="245.3" cy="175.3" r="0.8" fill="rgba(214,0,0,0.85)"/>
<circle cx="214.7" cy="219.7" r="0.8" fill="rgba(214,0,0,0.85)"/>
<circle cx="230.0" cy="197.7" r="0.8" fill="rgba(214,0,0,0.85)"/>
<circle cx="245.6" cy="176.1" r="0.8" fill="rgba(214,0,0,0.85)"/>
<circle cx="214.5" cy="219.7" r="0.8" fill="rgba(214,0,0,0.85)"/>
<circle cx="230.4" cy="191.1" r="0.8" fill="rgba(214,0,0,0.85)"/>
<circle cx="245.2" cy="203.5" r="0.8" fill="rgba(214,0,0,0.85)"/>
<circle cx="214.6" cy="219.7" r="0.8" fill="rgba(214,0,0,0.85)"/>
<circle cx="230.3" cy="193.6" r="0.8" fill="rgba(214,0,0,0.85)"/>
<circle cx="245.0" cy="177.2" r="0.8" fill="rgba(214,0,0,0.85)"/>
<circle cx="214.4" cy="219.7" r="0.8" fill="rgba(214,0,0,0.85)"/>
<circle cx="229.7" cy="205.2" r="0.8" fill="rgba(214,0,0,0.85)"/>
<circle cx="245.4" cy="177.2" r="0.8" fill="rgba(214,0,0,0.85)"/>
<circle cx="215.2" cy="219.7" r="0.8" fill="rgba(214,0,0,0.85)"/>
<circle cx="230.3" cy="211.7" r="0.8" fill="rgba(214,0,0,0.85)"/>
<circle cx="245.2" cy="176.0" r="0.8" fill="rgba(214,0,0,0.85)"/>
<circle cx="214.9" cy="219.7" r="0.8" fill="rgba(214,0,0,0.85)"/>
<circle cx="230.0" cy="192.8" r="0.8" fill="rgba(214,0,0,0.85)"/>
<circle cx="245.2" cy="199.6" r="0.8" fill="rgba(214,0,0,0.85)"/>
<circle cx="215.1" cy="216.8" r="0.8" fill="rgba(214,0,0,0.85)"/>
<circle cx="229.9" cy="190.4" r="0.8" fill="rgba(214,0,0,0.85)"/>
<circle cx="245.5" cy="174.6" r="0.8" fill="rgba(214,0,0,0.85)"/>
<circle cx="215.1" cy="219.7" r="0.8" fill="rgba(214,0,0,0.85)"/>
<circle cx="229.7" cy="195.0" r="0.8" fill="rgba(214,0,0,0.85)"/>
<circle cx="245.1" cy="168.3" r="0.8" fill="rgba(214,0,0,0.85)"/>
<circle cx="214.2" cy="209.6" r="0.8" fill="rgba(214,0,0,0.85)"/>
<circle cx="230.4" cy="190.4" r="0.8" fill="rgba(214,0,0,0.85)"/>
<circle cx="245.8" cy="173.9" r="0.8" fill="rgba(214,0,0,0.85)"/>
<circle cx="214.6" cy="219.7" r="0.8" fill="rgba(214,0,0,0.85)"/>
<circle cx="229.6" cy="185.8" r="0.8" fill="rgba(214,0,0,0.85)"/>
<circle cx="246.0" cy="174.3" r="0.8" fill="rgba(214,0,0,0.85)"/>
<circle cx="214.7" cy="211.7" r="0.8" fill="rgba(214,0,0,0.85)"/>
<circle cx="229.5" cy="187.3" r="0.8" fill="rgba(214,0,0,0.85)"/>
<circle cx="245.3" cy="196.4" r="0.8" fill="rgba(214,0,0,0.85)"/>
<circle cx="215.1" cy="219.7" r="0.8" fill="rgba(214,0,0,0.85)"/>
<circle cx="230.5" cy="200.6" r="0.8" fill="rgba(214,0,0,0.85)"/>
<circle cx="245.4" cy="174.3" r="0.8" fill="rgba(214,0,0,0.85)"/>
<circle cx="214.1" cy="219.7" r="0.8" fill="rgba(214,0,0,0.85)"/>
<circle cx="230.5" cy="197.9" r="0.8" fill="rgba(214,0,0,0.85)"/>
<circle cx="245.2" cy="174.5" r="0.8" fill="rgba(214,0,0,0.85)"/>
<circle cx="214.0" cy="219.7" r="0.8" fill="rgba(214,0,0,0.85)"/>
<circle cx="229.6" cy="199.9" r="0.8" fill="rgba(214,0,0,0.85)"/>
<circle cx="245.9" cy="195.6" r="0.8" fill="rgba(214,0,0,0.85)"/>
<circle cx="214.3" cy="212.4" r="0.8" fill="rgba(214,0,0,0.85)"/>
<circle cx="229.5" cy="193.4" r="0.8" fill="rgba(214,0,0,0.85)"/>
<circle cx="245.3" cy="173.4" r="0.8" fill="rgba(214,0,0,0.85)"/>
<circle cx="215.2" cy="214.7" r="0.8" fill="rgba(214,0,0,0.85)"/>
<circle cx="230.0" cy="181.3" r="0.8" fill="rgba(214,0,0,0.85)"/>
<circle cx="245.3" cy="167.9" r="0.8" fill="rgba(214,0,0,0.85)"/>
<circle cx="215.0" cy="215.5" r="0.8" fill="rgba(214,0,0,0.85)"/>
<circle cx="230.5" cy="193.0" r="0.8" fill="rgba(214,0,0,0.85)"/>
<circle cx="245.5" cy="171.1" r="0.8" fill="rgba(214,0,0,0.85)"/>
<circle cx="214.2" cy="214.8" r="0.8" fill="rgba(214,0,0,0.85)"/>
<circle cx="229.9" cy="186.2" r="0.8" fill="rgba(214,0,0,0.85)"/>
<circle cx="245.3" cy="172.5" r="0.8" fill="rgba(214,0,0,0.85)"/>
<circle cx="214.5" cy="219.7" r="0.8" fill="rgba(214,0,0,0.85)"/>
<circle cx="230.4" cy="191.6" r="0.8" fill="rgba(214,0,0,0.85)"/>
<circle cx="245.2" cy="172.6" r="0.8" fill="rgba(214,0,0,0.85)"/>
<circle cx="214.2" cy="213.1" r="0.8" fill="rgba(214,0,0,0.85)"/>
<circle cx="230.1" cy="186.3" r="0.8" fill="rgba(214,0,0,0.85)"/>
<circle cx="246.2" cy="169.8" r="0.8" fill="rgba(214,0,0,0.85)"/>
<circle cx="215.0" cy="213.9" r="0.8" fill="rgba(214,0,0,0.85)"/>
<circle cx="230.6" cy="184.8" r="0.8" fill="rgba(214,0,0,0.85)"/>
<circle cx="245.7" cy="175.8" r="0.8" fill="rgba(214,0,0,0.85)"/>
<circle cx="213.9" cy="209.2" r="0.8" fill="rgba(214,0,0,0.85)"/>
<circle cx="229.6" cy="181.1" r="0.8" fill="rgba(214,0,0,0.85)"/>
<circle cx="245.0" cy="170.7" r="0.8" fill="rgba(214,0,0,0.85)"/>
<circle cx="214.7" cy="215.1" r="0.8" fill="rgba(214,0,0,0.85)"/>
<circle cx="230.6" cy="195.3" r="0.8" fill="rgba(214,0,0,0.85)"/>
<circle cx="245.1" cy="173.9" r="0.8" fill="rgba(214,0,0,0.85)"/>
<circle cx="215.1" cy="216.3" r="0.8" fill="rgba(214,0,0,0.85)"/>
<circle cx="229.6" cy="194.3" r="0.8" fill="rgba(214,0,0,0.85)"/>
<circle cx="246.4" cy="170.0" r="0.8" fill="rgba(214,0,0,0.85)"/>
<circle cx="214.4" cy="212.0" r="0.8" fill="rgba(214,0,0,0.85)"/>
<circle cx="229.8" cy="182.2" r="0.8" fill="rgba(214,0,0,0.85)"/>
<circle cx="245.3" cy="165.3" r="0.8" fill="rgba(214,0,0,0.85)"/>
<circle cx="214.4" cy="215.2" r="0.8" fill="rgba(214,0,0,0.85)"/>
<circle cx="230.4" cy="189.6" r="0.8" fill="rgba(214,0,0,0.85)"/>
<circle cx="245.2" cy="171.1" r="0.8" fill="rgba(214,0,0,0.85)"/>
<circle cx="215.0" cy="212.0" r="0.8" fill="rgba(214,0,0,0.85)"/>
<circle cx="230.5" cy="185.0" r="0.8" fill="rgba(214,0,0,0.85)"/>
<circle cx="245.9" cy="170.5" r="0.8" fill="rgba(214,0,0,0.85)"/>
<circle cx="214.7" cy="213.9" r="0.8" fill="rgba(214,0,0,0.85)"/>
<circle cx="229.7" cy="175.8" r="0.8" fill="rgba(214,0,0,0.85)"/>
<circle cx="246.2" cy="163.9" r="0.8" fill="rgba(214,0,0,0.85)"/>
<circle cx="214.7" cy="216.1" r="0.8" fill="rgba(214,0,0,0.85)"/>
<circle cx="229.4" cy="184.2" r="0.8" fill="rgba(214,0,0,0.85)"/>
<circle cx="245.4" cy="171.2" r="0.8" fill="rgba(214,0,0,0.85)"/>
<circle cx="214.3" cy="210.8" r="0.8" fill="rgba(214,0,0,0.85)"/>
<circle cx="229.7" cy="177.7" r="0.8" fill="rgba(214,0,0,0.85)"/>
<circle cx="245.4" cy="170.5" r="0.8" fill="rgba(214,0,0,0.85)"/>
<circle cx="215.1" cy="211.8" r="0.8" fill="rgba(214,0,0,0.85)"/>
<circle cx="229.8" cy="172.5" r="0.8" fill="rgba(214,0,0,0.85)"/>
<circle cx="245.5" cy="172.0" r="0.8" fill="rgba(214,0,0,0.85)"/>
<circle cx="214.9" cy="208.5" r="0.8" fill="rgba(214,0,0,0.85)"/>
<circle cx="230.1" cy="183.0" r="0.8" fill="rgba(214,0,0,0.85)"/>
<circle cx="246.1" cy="162.3" r="0.8" fill="rgba(214,0,0,0.85)"/>
<circle cx="214.8" cy="209.1" r="0.8" fill="rgba(214,0,0,0.85)"/>
<circle cx="229.9" cy="183.2" r="0.8" fill="rgba(214,0,0,0.85)"/>
<circle cx="245.9" cy="172.1" r="0.8" fill="rgba(214,0,0,0.85)"/>
<circle cx="214.8" cy="205.7" r="0.8" fill="rgba(214,0,0,0.85)"/>
<circle cx="230.5" cy="187.6" r="0.8" fill="rgba(214,0,0,0.85)"/>
<circle cx="245.2" cy="167.5" r="0.8" fill="rgba(214,0,0,0.85)"/>
<circle cx="214.5" cy="212.4" r="0.8" fill="rgba(214,0,0,0.85)"/>
<circle cx="229.9" cy="180.4" r="0.8" fill="rgba(214,0,0,0.85)"/>
<circle cx="245.6" cy="171.1" r="0.8" fill="rgba(214,0,0,0.85)"/>
<circle cx="214.4" cy="211.5" r="0.8" fill="rgba(214,0,0,0.85)"/>
<circle cx="230.3" cy="183.6" r="0.8" fill="rgba(214,0,0,0.85)"/>
<circle cx="245.8" cy="169.1" r="0.8" fill="rgba(214,0,0,0.85)"/>
<circle cx="214.9" cy="209.9" r="0.8" fill="rgba(214,0,0,0.85)"/>
<circle cx="229.6" cy="173.3" r="0.8" fill="rgba(214,0,0,0.85)"/>
<circle cx="245.5" cy="168.7" r="0.8" fill="rgba(214,0,0,0.85)"/>
<circle cx="215.1" cy="214.8" r="0.8" fill="rgba(214,0,0,0.85)"/>
<circle cx="230.3" cy="182.7" r="0.8" fill="rgba(214,0,0,0.85)"/>
<circle cx="245.8" cy="169.5" r="0.8" fill="rgba(214,0,0,0.85)"/>
<circle cx="215.2" cy="213.7" r="0.8" fill="rgba(214,0,0,0.85)"/>
<circle cx="230.0" cy="178.0" r="0.8" fill="rgba(214,0,0,0.85)"/>
<circle cx="245.0" cy="163.4" r="0.8" fill="rgba(214,0,0,0.85)"/>
<circle cx="214.9" cy="212.0" r="0.8" fill="rgba(214,0,0,0.85)"/>
<circle cx="230.4" cy="180.4" r="0.8" fill="rgba(214,0,0,0.85)"/>
<circle cx="245.4" cy="163.9" r="0.8" fill="rgba(214,0,0,0.85)"/>
<circle cx="214.3" cy="212.8" r="0.8" fill="rgba(214,0,0,0.85)"/>
<circle cx="230.2" cy="176.8" r="0.8" fill="rgba(214,0,0,0.85)"/>
<circle cx="246.2" cy="160.7" r="0.8" fill="rgba(214,0,0,0.85)"/>
<circle cx="214.4" cy="208.3" r="0.8" fill="rgba(214,0,0,0.85)"/>
<circle cx="230.3" cy="171.3" r="0.8" fill="rgba(214,0,0,0.85)"/>
<circle cx="245.6" cy="161.6" r="0.8" fill="rgba(214,0,0,0.85)"/>
<circle cx="215.3" cy="206.5" r="0.8" fill="rgba(214,0,0,0.85)"/>
<circle cx="230.0" cy="173.3" r="0.8" fill="rgba(214,0,0,0.85)"/>
<circle cx="245.5" cy="161.3" r="0.8" fill="rgba(214,0,0,0.85)"/>
<circle cx="214.8" cy="213.2" r="0.8" fill="rgba(214,0,0,0.85)"/>
<circle cx="230.0" cy="176.4" r="0.8" fill="rgba(214,0,0,0.85)"/>
<circle cx="246.1" cy="163.3" r="0.8" fill="rgba(214,0,0,0.85)"/>
<circle cx="214.1" cy="209.2" r="0.8" fill="rgba(214,0,0,0.85)"/>
<circle cx="230.3" cy="177.4" r="0.8" fill="rgba(214,0,0,0.85)"/>
<circle cx="245.4" cy="167.8" r="0.8" fill="rgba(214,0,0,0.85)"/>
<circle cx="215.2" cy="204.5" r="0.8" fill="rgba(214,0,0,0.85)"/>
<circle cx="230.7" cy="176.7" r="0.8" fill="rgba(214,0,0,0.85)"/>
<circle cx="246.3" cy="163.4" r="0.8" fill="rgba(214,0,0,0.85)"/>
<circle cx="215.0" cy="201.0" r="0.8" fill="rgba(214,0,0,0.85)"/>
<circle cx="229.7" cy="165.1" r="0.8" fill="rgba(214,0,0,0.85)"/>
<circle cx="245.2" cy="158.0" r="0.8" fill="rgba(214,0,0,0.85)"/>
<circle cx="214.8" cy="202.8" r="0.8" fill="rgba(214,0,0,0.85)"/>
<circle cx="230.0" cy="178.3" r="0.8" fill="rgba(214,0,0,0.85)"/>
<circle cx="245.9" cy="161.1" r="0.8" fill="rgba(214,0,0,0.85)"/>
<circle cx="214.7" cy="203.1" r="0.8" fill="rgba(214,0,0,0.85)"/>
<circle cx="230.7" cy="182.3" r="0.8" fill="rgba(214,0,0,0.85)"/>
<circle cx="245.1" cy="165.1" r="0.8" fill="rgba(214,0,0,0.85)"/>
<circle cx="214.7" cy="203.4" r="0.8" fill="rgba(214,0,0,0.85)"/>
<circle cx="229.9" cy="178.0" r="0.8" fill="rgba(214,0,0,0.85)"/>
<circle cx="245.3" cy="162.3" r="0.8" fill="rgba(214,0,0,0.85)"/>
<circle cx="215.1" cy="204.9" r="0.8" fill="rgba(214,0,0,0.85)"/>
<circle cx="230.3" cy="168.8" r="0.8" fill="rgba(214,0,0,0.85)"/>
<circle cx="245.7" cy="167.7" r="0.8" fill="rgba(214,0,0,0.85)"/>
<circle cx="214.3" cy="206.7" r="0.8" fill="rgba(214,0,0,0.85)"/>
<circle cx="230.1" cy="173.5" r="0.8" fill="rgba(214,0,0,0.85)"/>
<circle cx="246.3" cy="160.4" r="0.8" fill="rgba(214,0,0,0.85)"/>
<circle cx="215.0" cy="195.8" r="0.8" fill="rgba(214,0,0,0.85)"/>
<circle cx="229.5" cy="173.5" r="0.8" fill="rgba(214,0,0,0.85)"/>
<circle cx="245.6" cy="159.3" r="0.8" fill="rgba(214,0,0,0.85)"/>
<circle cx="214.1" cy="203.7" r="0.8" fill="rgba(214,0,0,0.85)"/>
<circle cx="229.5" cy="163.8" r="0.8" fill="rgba(214,0,0,0.85)"/>
<circle cx="246.0" cy="167.0" r="0.8" fill="rgba(214,0,0,0.85)"/>
<circle cx="215.0" cy="191.7" r="0.8" fill="rgba(214,0,0,0.85)"/>
<circle cx="230.4" cy="168.2" r="0.8" fill="rgba(214,0,0,0.85)"/>
<circle cx="245.2" cy="163.9" r="0.8" fill="rgba(214,0,0,0.85)"/>
<circle cx="214.9" cy="197.5" r="0.8" fill="rgba(214,0,0,0.85)"/>
<circle cx="230.2" cy="160.6" r="0.8" fill="rgba(214,0,0,0.85)"/>
<circle cx="245.6" cy="164.5" r="0.8" fill="rgba(214,0,0,0.85)"/>
<circle cx="215.2" cy="193.8" r="0.8" fill="rgba(214,0,0,0.85)"/>
<circle cx="230.4" cy="168.4" r="0.8" fill="rgba(214,0,0,0.85)"/>
<circle cx="246.1" cy="155.6" r="0.8" fill="rgba(214,0,0,0.85)"/>
<circle cx="214.8" cy="207.4" r="0.8" fill="rgba(214,0,0,0.85)"/>
<circle cx="229.6" cy="168.2" r="0.8" fill="rgba(214,0,0,0.85)"/>
<circle cx="245.4" cy="168.2" r="0.8" fill="rgba(214,0,0,0.85)"/>
<circle cx="215.0" cy="206.4" r="0.8" fill="rgba(214,0,0,0.85)"/>
<circle cx="230.5" cy="165.2" r="0.8" fill="rgba(214,0,0,0.85)"/>
<circle cx="246.1" cy="159.3" r="0.8" fill="rgba(214,0,0,0.85)"/>
<circle cx="214.9" cy="192.8" r="0.8" fill="rgba(214,0,0,0.85)"/>
<circle cx="230.3" cy="160.2" r="0.8" fill="rgba(214,0,0,0.85)"/>
<circle cx="245.1" cy="154.7" r="0.8" fill="rgba(214,0,0,0.85)"/>
<circle cx="214.5" cy="191.9" r="0.8" fill="rgba(214,0,0,0.85)"/>
<circle cx="230.4" cy="159.7" r="0.8" fill="rgba(214,0,0,0.85)"/>
<circle cx="245.3" cy="155.4" r="0.8" fill="rgba(214,0,0,0.85)"/>
<circle cx="215.2" cy="203.2" r="0.8" fill="rgba(214,0,0,0.85)"/>
<circle cx="229.4" cy="168.7" r="0.8" fill="rgba(214,0,0,0.85)"/>
<circle cx="245.2" cy="154.3" r="0.8" fill="rgba(214,0,0,0.85)"/>
<circle cx="214.8" cy="192.3" r="0.8" fill="rgba(214,0,0,0.85)"/>
<circle cx="229.6" cy="166.0" r="0.8" fill="rgba(214,0,0,0.85)"/>
<circle cx="245.5" cy="155.8" r="0.8" fill="rgba(214,0,0,0.85)"/>
<circle cx="214.4" cy="201.2" r="0.8" fill="rgba(214,0,0,0.85)"/>
<circle cx="229.8" cy="164.1" r="0.8" fill="rgba(214,0,0,0.85)"/>
<circle cx="246.2" cy="155.7" r="0.8" fill="rgba(214,0,0,0.85)"/>
<circle cx="215.1" cy="196.3" r="0.8" fill="rgba(214,0,0,0.85)"/>
<circle cx="229.3" cy="170.9" r="0.8" fill="rgba(214,0,0,0.85)"/>
<circle cx="246.1" cy="154.2" r="0.8" fill="rgba(214,0,0,0.85)"/>
<circle cx="214.0" cy="191.8" r="0.8" fill="rgba(214,0,0,0.85)"/>
<circle cx="229.7" cy="163.9" r="0.8" fill="rgba(214,0,0,0.85)"/>
<circle cx="246.2" cy="160.4" r="0.8" fill="rgba(214,0,0,0.85)"/>
<circle cx="214.1" cy="191.8" r="0.8" fill="rgba(214,0,0,0.85)"/>
<circle cx="230.5" cy="167.4" r="0.8" fill="rgba(214,0,0,0.85)"/>
<circle cx="246.3" cy="154.3" r="0.8" fill="rgba(214,0,0,0.85)"/>
<circle cx="214.3" cy="192.3" r="0.8" fill="rgba(214,0,0,0.85)"/>
<circle cx="230.2" cy="160.5" r="0.8" fill="rgba(214,0,0,0.85)"/>
<circle cx="245.5" cy="160.4" r="0.8" fill="rgba(214,0,0,0.85)"/>
<circle cx="214.9" cy="192.1" r="0.8" fill="rgba(214,0,0,0.85)"/>
<circle cx="229.3" cy="165.8" r="0.8" fill="rgba(214,0,0,0.85)"/>
<circle cx="245.3" cy="159.0" r="0.8" fill="rgba(214,0,0,0.85)"/>
<circle cx="215.1" cy="191.8" r="0.8" fill="rgba(214,0,0,0.85)"/>
<circle cx="229.9" cy="163.0" r="0.8" fill="rgba(214,0,0,0.85)"/>
<circle cx="245.9" cy="156.1" r="0.8" fill="rgba(214,0,0,0.85)"/>
<circle cx="214.7" cy="193.2" r="0.8" fill="rgba(214,0,0,0.85)"/>
<circle cx="230.6" cy="159.8" r="0.8" fill="rgba(214,0,0,0.85)"/>
<circle cx="246.4" cy="156.2" r="0.8" fill="rgba(214,0,0,0.85)"/>
<rect x="213.85" y="163.50" width="1.5" height="1.4" fill="rgba(245,160,0,0.9)"/>
<rect x="229.25" y="155.00" width="1.5" height="1.4" fill="rgba(245,160,0,0.9)"/>
<rect x="244.95" y="151.90" width="1.5" height="1.4" fill="rgba(245,160,0,0.9)"/>
<rect x="213.85" y="176.70" width="1.5" height="1.4" fill="rgba(245,160,0,0.9)"/>
<rect x="229.25" y="168.30" width="1.5" height="1.4" fill="rgba(245,160,0,0.9)"/>
<rect x="244.95" y="156.30" width="1.5" height="1.4" fill="rgba(245,160,0,0.9)"/>
<rect x="213.85" y="195.30" width="1.5" height="1.4" fill="rgba(245,160,0,0.9)"/>
<rect x="229.25" y="174.30" width="1.5" height="1.4" fill="rgba(245,160,0,0.9)"/>
<rect x="244.95" y="159.30" width="1.5" height="1.4" fill="rgba(245,160,0,0.9)"/>
<path d="M214.60,212.00 L230.00,186.00 L245.70,167.00" fill="none" stroke="#d20000" stroke-width="1.35" stroke-linejoin="round"/>
<path d="M214.60,174.00 L230.00,164.00 L245.70,157.00" fill="none" stroke="#f7a500" stroke-width="1.35" stroke-linejoin="round"/>
<rect x="213.80" y="173.25" width="1.6" height="1.5" fill="#f5a000"/>
<rect x="229.20" y="163.25" width="1.6" height="1.5" fill="#f5a000"/>
<rect x="244.90" y="156.25" width="1.6" height="1.5" fill="#f5a000"/>
<line x1="205.30" y1="145.30" x2="205.30" y2="223.05" stroke="#111" stroke-width="1.25"/>
<line x1="202.10" y1="148.90" x2="205.30" y2="148.90" stroke="#111" stroke-width="0.9"/>
<line x1="202.10" y1="160.80" x2="205.30" y2="160.80" stroke="#111" stroke-width="0.9"/>
<line x1="202.10" y1="172.70" x2="205.30" y2="172.70" stroke="#111" stroke-width="0.9"/>
<line x1="202.10" y1="178.65" x2="205.30" y2="178.65" stroke="#111" stroke-width="0.9"/>
<line x1="202.10" y1="184.60" x2="205.30" y2="184.60" stroke="#111" stroke-width="0.9"/>
<line x1="202.10" y1="196.50" x2="205.30" y2="196.50" stroke="#111" stroke-width="0.9"/>
<line x1="202.10" y1="222.45" x2="205.30" y2="222.45" stroke="#111" stroke-width="0.9"/>
<line x1="202.10" y1="222.45" x2="252.00" y2="222.45" stroke="#111" stroke-width="1.1"/>
<line x1="214.60" y1="222.45" x2="214.60" y2="225.45" stroke="#111" stroke-width="0.8"/>
<line x1="230.00" y1="222.45" x2="230.00" y2="225.45" stroke="#111" stroke-width="0.8"/>
<line x1="245.70" y1="222.45" x2="245.70" y2="225.45" stroke="#111" stroke-width="0.8"/>
<path d="M208.25,144.50 V143.10 Q208.25,142.70 208.65,142.70 H225.50 Q225.90,142.70 225.90,143.10 V144.50" fill="none" stroke="#383838" stroke-width="0.85"/>
<path d="M228.15,144.50 V143.10 Q228.15,142.70 228.55,142.70 H245.35 Q245.75,142.70 245.75,143.10 V144.50" fill="none" stroke="#383838" stroke-width="0.85"/>
<rect x="216.38" y="139.30" width="1.5" height="1.5" fill="#3a3a3a"/>
<rect x="236.25" y="139.30" width="1.5" height="1.5" fill="#3a3a3a"/>
<path d="M208.25,150.10 V148.70 Q208.25,148.30 208.65,148.30 H245.35 Q245.75,148.30 245.75,148.70 V150.10" fill="none" stroke="#383838" stroke-width="0.85"/>
<rect x="226.30" y="145.00" width="1.5" height="1.5" fill="#3a3a3a"/>
<line x1="304.40" y1="178.65" x2="350.90" y2="178.65" stroke="#d9d9d9" stroke-width="0.9"/>
<line x1="304.40" y1="196.50" x2="350.90" y2="196.50" stroke="#d9d9d9" stroke-width="0.9"/>
<path d="M313.4,219.7 L329.8,175.7 L344.8,199.9" fill="none" stroke="rgba(228,25,25,0.45)" stroke-width="0.55"/>
<path d="M314.1,219.7 L329.7,212.4 L345.5,198.1" fill="none" stroke="rgba(228,25,25,0.45)" stroke-width="0.55"/>
<path d="M313.9,214.3 L329.3,208.6 L344.5,198.4" fill="none" stroke="rgba(228,25,25,0.45)" stroke-width="0.55"/>
<path d="M314.0,219.7 L329.1,206.6 L344.3,200.5" fill="none" stroke="rgba(228,25,25,0.45)" stroke-width="0.55"/>
<path d="M313.7,212.7 L329.2,207.1 L344.5,188.6" fill="none" stroke="rgba(228,25,25,0.45)" stroke-width="0.55"/>
<path d="M313.3,209.7 L329.1,197.4 L344.4,190.8" fill="none" stroke="rgba(228,25,25,0.45)" stroke-width="0.55"/>
<path d="M313.4,212.5 L329.1,211.6 L344.5,199.6" fill="none" stroke="rgba(228,25,25,0.45)" stroke-width="0.55"/>
<path d="M314.4,214.0 L328.8,208.8 L345.4,189.2" fill="none" stroke="rgba(228,25,25,0.45)" stroke-width="0.55"/>
<path d="M314.2,212.2 L328.9,195.0 L345.5,186.5" fill="none" stroke="rgba(228,25,25,0.45)" stroke-width="0.55"/>
<path d="M314.2,208.6 L329.8,188.2 L345.6,184.3" fill="none" stroke="rgba(228,25,25,0.45)" stroke-width="0.55"/>
<path d="M313.2,211.8 L329.5,179.5 L344.9,184.0" fill="none" stroke="rgba(228,25,25,0.45)" stroke-width="0.55"/>
<path d="M314.5,206.3 L329.3,171.1 L345.6,173.9" fill="none" stroke="rgba(228,25,25,0.45)" stroke-width="0.55"/>
<path d="M314.2,204.3 L330.1,181.1 L344.7,191.1" fill="none" stroke="rgba(228,25,25,0.45)" stroke-width="0.55"/>
<path d="M313.6,208.4 L330.1,175.9 L344.7,174.4" fill="none" stroke="rgba(228,25,25,0.45)" stroke-width="0.55"/>
<path d="M313.8,205.1 L329.8,167.9 L345.3,167.9" fill="none" stroke="rgba(228,25,25,0.45)" stroke-width="0.55"/>
<path d="M314.1,207.8 L329.1,169.9 L344.5,159.8" fill="none" stroke="rgba(228,25,25,0.45)" stroke-width="0.55"/>
<path d="M313.3,206.1 L329.1,177.0 L344.8,159.9" fill="none" stroke="rgba(228,25,25,0.45)" stroke-width="0.55"/>
<circle cx="313.4" cy="219.7" r="0.8" fill="rgba(214,0,0,0.85)"/>
<circle cx="329.8" cy="175.7" r="0.8" fill="rgba(214,0,0,0.85)"/>
<circle cx="344.8" cy="199.9" r="0.8" fill="rgba(214,0,0,0.85)"/>
<circle cx="314.1" cy="219.7" r="0.8" fill="rgba(214,0,0,0.85)"/>
<circle cx="329.7" cy="212.4" r="0.8" fill="rgba(214,0,0,0.85)"/>
<circle cx="345.5" cy="198.1" r="0.8" fill="rgba(214,0,0,0.85)"/>
<circle cx="313.9" cy="214.3" r="0.8" fill="rgba(214,0,0,0.85)"/>
<circle cx="329.3" cy="208.6" r="0.8" fill="rgba(214,0,0,0.85)"/>
<circle cx="344.5" cy="198.4" r="0.8" fill="rgba(214,0,0,0.85)"/>
<circle cx="314.0" cy="219.7" r="0.8" fill="rgba(214,0,0,0.85)"/>
<circle cx="329.1" cy="206.6" r="0.8" fill="rgba(214,0,0,0.85)"/>
<circle cx="344.3" cy="200.5" r="0.8" fill="rgba(214,0,0,0.85)"/>
<circle cx="313.7" cy="212.7" r="0.8" fill="rgba(214,0,0,0.85)"/>
<circle cx="329.2" cy="207.1" r="0.8" fill="rgba(214,0,0,0.85)"/>
<circle cx="344.5" cy="188.6" r="0.8" fill="rgba(214,0,0,0.85)"/>
<circle cx="313.3" cy="209.7" r="0.8" fill="rgba(214,0,0,0.85)"/>
<circle cx="329.1" cy="197.4" r="0.8" fill="rgba(214,0,0,0.85)"/>
<circle cx="344.4" cy="190.8" r="0.8" fill="rgba(214,0,0,0.85)"/>
<circle cx="313.4" cy="212.5" r="0.8" fill="rgba(214,0,0,0.85)"/>
<circle cx="329.1" cy="211.6" r="0.8" fill="rgba(214,0,0,0.85)"/>
<circle cx="344.5" cy="199.6" r="0.8" fill="rgba(214,0,0,0.85)"/>
<circle cx="314.4" cy="214.0" r="0.8" fill="rgba(214,0,0,0.85)"/>
<circle cx="328.8" cy="208.8" r="0.8" fill="rgba(214,0,0,0.85)"/>
<circle cx="345.4" cy="189.2" r="0.8" fill="rgba(214,0,0,0.85)"/>
<circle cx="314.2" cy="212.2" r="0.8" fill="rgba(214,0,0,0.85)"/>
<circle cx="328.9" cy="195.0" r="0.8" fill="rgba(214,0,0,0.85)"/>
<circle cx="345.5" cy="186.5" r="0.8" fill="rgba(214,0,0,0.85)"/>
<circle cx="314.2" cy="208.6" r="0.8" fill="rgba(214,0,0,0.85)"/>
<circle cx="329.8" cy="188.2" r="0.8" fill="rgba(214,0,0,0.85)"/>
<circle cx="345.6" cy="184.3" r="0.8" fill="rgba(214,0,0,0.85)"/>
<circle cx="313.2" cy="211.8" r="0.8" fill="rgba(214,0,0,0.85)"/>
<circle cx="329.5" cy="179.5" r="0.8" fill="rgba(214,0,0,0.85)"/>
<circle cx="344.9" cy="184.0" r="0.8" fill="rgba(214,0,0,0.85)"/>
<circle cx="314.5" cy="206.3" r="0.8" fill="rgba(214,0,0,0.85)"/>
<circle cx="329.3" cy="171.1" r="0.8" fill="rgba(214,0,0,0.85)"/>
<circle cx="345.6" cy="173.9" r="0.8" fill="rgba(214,0,0,0.85)"/>
<circle cx="314.2" cy="204.3" r="0.8" fill="rgba(214,0,0,0.85)"/>
<circle cx="330.1" cy="181.1" r="0.8" fill="rgba(214,0,0,0.85)"/>
<circle cx="344.7" cy="191.1" r="0.8" fill="rgba(214,0,0,0.85)"/>
<circle cx="313.6" cy="208.4" r="0.8" fill="rgba(214,0,0,0.85)"/>
<circle cx="330.1" cy="175.9" r="0.8" fill="rgba(214,0,0,0.85)"/>
<circle cx="344.7" cy="174.4" r="0.8" fill="rgba(214,0,0,0.85)"/>
<circle cx="313.8" cy="205.1" r="0.8" fill="rgba(214,0,0,0.85)"/>
<circle cx="329.8" cy="167.9" r="0.8" fill="rgba(214,0,0,0.85)"/>
<circle cx="345.3" cy="167.9" r="0.8" fill="rgba(214,0,0,0.85)"/>
<circle cx="314.1" cy="207.8" r="0.8" fill="rgba(214,0,0,0.85)"/>
<circle cx="329.1" cy="169.9" r="0.8" fill="rgba(214,0,0,0.85)"/>
<circle cx="344.5" cy="159.8" r="0.8" fill="rgba(214,0,0,0.85)"/>
<circle cx="313.3" cy="206.1" r="0.8" fill="rgba(214,0,0,0.85)"/>
<circle cx="329.1" cy="177.0" r="0.8" fill="rgba(214,0,0,0.85)"/>
<circle cx="344.8" cy="159.9" r="0.8" fill="rgba(214,0,0,0.85)"/>
<path d="M313.80,210.00 L329.50,193.00 L345.00,180.00" fill="none" stroke="#d20000" stroke-width="1.35" stroke-linejoin="round"/>
<line x1="304.40" y1="145.30" x2="304.40" y2="223.05" stroke="#111" stroke-width="1.25"/>
<line x1="301.20" y1="148.90" x2="304.40" y2="148.90" stroke="#111" stroke-width="0.9"/>
<line x1="301.20" y1="160.80" x2="304.40" y2="160.80" stroke="#111" stroke-width="0.9"/>
<line x1="301.20" y1="172.70" x2="304.40" y2="172.70" stroke="#111" stroke-width="0.9"/>
<line x1="301.20" y1="178.65" x2="304.40" y2="178.65" stroke="#111" stroke-width="0.9"/>
<line x1="301.20" y1="184.60" x2="304.40" y2="184.60" stroke="#111" stroke-width="0.9"/>
<line x1="301.20" y1="196.50" x2="304.40" y2="196.50" stroke="#111" stroke-width="0.9"/>
<line x1="301.20" y1="222.45" x2="304.40" y2="222.45" stroke="#111" stroke-width="0.9"/>
<line x1="301.20" y1="222.45" x2="350.90" y2="222.45" stroke="#111" stroke-width="1.1"/>
<line x1="313.80" y1="222.45" x2="313.80" y2="225.45" stroke="#111" stroke-width="0.8"/>
<line x1="329.50" y1="222.45" x2="329.50" y2="225.45" stroke="#111" stroke-width="0.8"/>
<line x1="345.00" y1="222.45" x2="345.00" y2="225.45" stroke="#111" stroke-width="0.8"/>
<path d="M307.90,144.50 V143.10 Q307.90,142.70 308.30,142.70 H325.15 Q325.55,142.70 325.55,143.10 V144.50" fill="none" stroke="#383838" stroke-width="0.85"/>
<path d="M327.80,144.50 V143.10 Q327.80,142.70 328.20,142.70 H345.00 Q345.40,142.70 345.40,143.10 V144.50" fill="none" stroke="#383838" stroke-width="0.85"/>
<rect x="316.02" y="139.30" width="1.5" height="1.5" fill="#3a3a3a"/>
<rect x="335.90" y="139.30" width="1.5" height="1.5" fill="#3a3a3a"/>
<path d="M307.90,150.10 V148.70 Q307.90,148.30 308.30,148.30 H345.00 Q345.40,148.30 345.40,148.70 V150.10" fill="none" stroke="#383838" stroke-width="0.85"/>
<rect x="325.95" y="145.00" width="1.5" height="1.5" fill="#3a3a3a"/>
<text x="313.80" y="233.65" font-size="7.3" textLength="10.20" lengthAdjust="spacingAndGlyphs" text-anchor="middle" fill="#1a1a1a" stroke="#1a1a1a" stroke-width="0.1">Pre</text>
<text x="329.50" y="233.65" font-size="7.3" textLength="8.90" lengthAdjust="spacingAndGlyphs" text-anchor="middle" fill="#1a1a1a" stroke="#1a1a1a" stroke-width="0.1">1st</text>
<text x="345.00" y="233.65" font-size="7.3" textLength="11.60" lengthAdjust="spacingAndGlyphs" text-anchor="middle" fill="#1a1a1a" stroke="#1a1a1a" stroke-width="0.1">2nd</text>
<line x1="362.80" y1="178.65" x2="407.90" y2="178.65" stroke="#d9d9d9" stroke-width="0.9"/>
<line x1="362.80" y1="196.50" x2="407.90" y2="196.50" stroke="#d9d9d9" stroke-width="0.9"/>
<path d="M372.3,208.8 L387.8,194.5 L402.7,196.3" fill="none" stroke="rgba(228,25,25,0.45)" stroke-width="0.55"/>
<path d="M371.5,211.5 L387.5,195.9 L402.7,192.4" fill="none" stroke="rgba(228,25,25,0.45)" stroke-width="0.55"/>
<path d="M372.5,214.5 L387.2,195.4 L402.7,174.2" fill="none" stroke="rgba(228,25,25,0.45)" stroke-width="0.55"/>
<path d="M371.7,212.4 L387.9,193.8 L402.9,174.4" fill="none" stroke="rgba(228,25,25,0.45)" stroke-width="0.55"/>
<path d="M372.1,207.0 L387.0,187.2 L402.4,196.2" fill="none" stroke="rgba(228,25,25,0.45)" stroke-width="0.55"/>
<path d="M372.1,205.8 L387.2,193.6 L402.3,193.0" fill="none" stroke="rgba(228,25,25,0.45)" stroke-width="0.55"/>
<path d="M371.5,204.6 L386.9,186.1 L402.9,169.1" fill="none" stroke="rgba(228,25,25,0.45)" stroke-width="0.55"/>
<path d="M372.7,210.2 L387.2,186.5 L402.9,174.2" fill="none" stroke="rgba(228,25,25,0.45)" stroke-width="0.55"/>
<path d="M372.3,201.4 L386.8,189.7 L403.5,165.2" fill="none" stroke="rgba(228,25,25,0.45)" stroke-width="0.55"/>
<path d="M372.7,204.8 L387.4,174.8 L402.4,173.0" fill="none" stroke="rgba(228,25,25,0.45)" stroke-width="0.55"/>
<path d="M371.9,197.6 L387.5,176.6 L403.5,166.8" fill="none" stroke="rgba(228,25,25,0.45)" stroke-width="0.55"/>
<path d="M371.6,203.8 L386.8,180.3 L402.9,167.0" fill="none" stroke="rgba(228,25,25,0.45)" stroke-width="0.55"/>
<path d="M371.7,200.6 L387.1,170.0 L402.7,164.5" fill="none" stroke="rgba(228,25,25,0.45)" stroke-width="0.55"/>
<path d="M372.1,196.0 L386.9,172.8 L402.7,159.8" fill="none" stroke="rgba(228,25,25,0.45)" stroke-width="0.55"/>
<path d="M372.1,198.5 L386.9,170.0 L402.2,160.2" fill="none" stroke="rgba(228,25,25,0.45)" stroke-width="0.55"/>
<circle cx="372.3" cy="208.8" r="0.8" fill="rgba(214,0,0,0.85)"/>
<circle cx="387.8" cy="194.5" r="0.8" fill="rgba(214,0,0,0.85)"/>
<circle cx="402.7" cy="196.3" r="0.8" fill="rgba(214,0,0,0.85)"/>
<circle cx="371.5" cy="211.5" r="0.8" fill="rgba(214,0,0,0.85)"/>
<circle cx="387.5" cy="195.9" r="0.8" fill="rgba(214,0,0,0.85)"/>
<circle cx="402.7" cy="192.4" r="0.8" fill="rgba(214,0,0,0.85)"/>
<circle cx="372.5" cy="214.5" r="0.8" fill="rgba(214,0,0,0.85)"/>
<circle cx="387.2" cy="195.4" r="0.8" fill="rgba(214,0,0,0.85)"/>
<circle cx="402.7" cy="174.2" r="0.8" fill="rgba(214,0,0,0.85)"/>
<circle cx="371.7" cy="212.4" r="0.8" fill="rgba(214,0,0,0.85)"/>
<circle cx="387.9" cy="193.8" r="0.8" fill="rgba(214,0,0,0.85)"/>
<circle cx="402.9" cy="174.4" r="0.8" fill="rgba(214,0,0,0.85)"/>
<circle cx="372.1" cy="207.0" r="0.8" fill="rgba(214,0,0,0.85)"/>
<circle cx="387.0" cy="187.2" r="0.8" fill="rgba(214,0,0,0.85)"/>
<circle cx="402.4" cy="196.2" r="0.8" fill="rgba(214,0,0,0.85)"/>
<circle cx="372.1" cy="205.8" r="0.8" fill="rgba(214,0,0,0.85)"/>
<circle cx="387.2" cy="193.6" r="0.8" fill="rgba(214,0,0,0.85)"/>
<circle cx="402.3" cy="193.0" r="0.8" fill="rgba(214,0,0,0.85)"/>
<circle cx="371.5" cy="204.6" r="0.8" fill="rgba(214,0,0,0.85)"/>
<circle cx="386.9" cy="186.1" r="0.8" fill="rgba(214,0,0,0.85)"/>
<circle cx="402.9" cy="169.1" r="0.8" fill="rgba(214,0,0,0.85)"/>
<circle cx="372.7" cy="210.2" r="0.8" fill="rgba(214,0,0,0.85)"/>
<circle cx="387.2" cy="186.5" r="0.8" fill="rgba(214,0,0,0.85)"/>
<circle cx="402.9" cy="174.2" r="0.8" fill="rgba(214,0,0,0.85)"/>
<circle cx="372.3" cy="201.4" r="0.8" fill="rgba(214,0,0,0.85)"/>
<circle cx="386.8" cy="189.7" r="0.8" fill="rgba(214,0,0,0.85)"/>
<circle cx="403.5" cy="165.2" r="0.8" fill="rgba(214,0,0,0.85)"/>
<circle cx="372.7" cy="204.8" r="0.8" fill="rgba(214,0,0,0.85)"/>
<circle cx="387.4" cy="174.8" r="0.8" fill="rgba(214,0,0,0.85)"/>
<circle cx="402.4" cy="173.0" r="0.8" fill="rgba(214,0,0,0.85)"/>
<circle cx="371.9" cy="197.6" r="0.8" fill="rgba(214,0,0,0.85)"/>
<circle cx="387.5" cy="176.6" r="0.8" fill="rgba(214,0,0,0.85)"/>
<circle cx="403.5" cy="166.8" r="0.8" fill="rgba(214,0,0,0.85)"/>
<circle cx="371.6" cy="203.8" r="0.8" fill="rgba(214,0,0,0.85)"/>
<circle cx="386.8" cy="180.3" r="0.8" fill="rgba(214,0,0,0.85)"/>
<circle cx="402.9" cy="167.0" r="0.8" fill="rgba(214,0,0,0.85)"/>
<circle cx="371.7" cy="200.6" r="0.8" fill="rgba(214,0,0,0.85)"/>
<circle cx="387.1" cy="170.0" r="0.8" fill="rgba(214,0,0,0.85)"/>
<circle cx="402.7" cy="164.5" r="0.8" fill="rgba(214,0,0,0.85)"/>
<circle cx="372.1" cy="196.0" r="0.8" fill="rgba(214,0,0,0.85)"/>
<circle cx="386.9" cy="172.8" r="0.8" fill="rgba(214,0,0,0.85)"/>
<circle cx="402.7" cy="159.8" r="0.8" fill="rgba(214,0,0,0.85)"/>
<circle cx="372.1" cy="198.5" r="0.8" fill="rgba(214,0,0,0.85)"/>
<circle cx="386.9" cy="170.0" r="0.8" fill="rgba(214,0,0,0.85)"/>
<circle cx="402.2" cy="160.2" r="0.8" fill="rgba(214,0,0,0.85)"/>
<path d="M372.20,213.00 L387.50,181.00 L402.90,167.00" fill="none" stroke="#d20000" stroke-width="1.35" stroke-linejoin="round"/>
<path d="M372.20,174.50 L387.50,156.20 L402.90,157.40" fill="none" stroke="#f7a500" stroke-width="1.35" stroke-linejoin="round"/>
<rect x="371.40" y="173.75" width="1.6" height="1.5" fill="#f5a000"/>
<rect x="386.70" y="155.45" width="1.6" height="1.5" fill="#f5a000"/>
<rect x="402.10" y="156.65" width="1.6" height="1.5" fill="#f5a000"/>
<line x1="362.80" y1="145.30" x2="362.80" y2="223.05" stroke="#111" stroke-width="1.25"/>
<line x1="359.60" y1="148.90" x2="362.80" y2="148.90" stroke="#111" stroke-width="0.9"/>
<line x1="359.60" y1="160.80" x2="362.80" y2="160.80" stroke="#111" stroke-width="0.9"/>
<line x1="359.60" y1="172.70" x2="362.80" y2="172.70" stroke="#111" stroke-width="0.9"/>
<line x1="359.60" y1="178.65" x2="362.80" y2="178.65" stroke="#111" stroke-width="0.9"/>
<line x1="359.60" y1="184.60" x2="362.80" y2="184.60" stroke="#111" stroke-width="0.9"/>
<line x1="359.60" y1="196.50" x2="362.80" y2="196.50" stroke="#111" stroke-width="0.9"/>
<line x1="359.60" y1="222.45" x2="362.80" y2="222.45" stroke="#111" stroke-width="0.9"/>
<line x1="359.60" y1="222.45" x2="407.90" y2="222.45" stroke="#111" stroke-width="1.1"/>
<line x1="372.20" y1="222.45" x2="372.20" y2="225.45" stroke="#111" stroke-width="0.8"/>
<line x1="387.50" y1="222.45" x2="387.50" y2="225.45" stroke="#111" stroke-width="0.8"/>
<line x1="402.90" y1="222.45" x2="402.90" y2="225.45" stroke="#111" stroke-width="0.8"/>
<path d="M365.90,144.50 V143.10 Q365.90,142.70 366.30,142.70 H382.95 Q383.35,142.70 383.35,143.10 V144.50" fill="none" stroke="#383838" stroke-width="0.85"/>
<path d="M385.60,144.50 V143.10 Q385.60,142.70 386.00,142.70 H402.60 Q403.00,142.70 403.00,143.10 V144.50" fill="none" stroke="#383838" stroke-width="0.85"/>
<rect x="373.92" y="139.30" width="1.5" height="1.5" fill="#3a3a3a"/>
<rect x="393.60" y="139.30" width="1.5" height="1.5" fill="#3a3a3a"/>
<path d="M365.90,150.10 V148.70 Q365.90,148.30 366.30,148.30 H402.60 Q403.00,148.30 403.00,148.70 V150.10" fill="none" stroke="#383838" stroke-width="0.85"/>
<rect x="383.75" y="145.00" width="1.5" height="1.5" fill="#3a3a3a"/>
<text x="372.20" y="233.65" font-size="7.3" textLength="10.20" lengthAdjust="spacingAndGlyphs" text-anchor="middle" fill="#1a1a1a" stroke="#1a1a1a" stroke-width="0.1">Pre</text>
<text x="387.50" y="233.65" font-size="7.3" textLength="8.90" lengthAdjust="spacingAndGlyphs" text-anchor="middle" fill="#1a1a1a" stroke="#1a1a1a" stroke-width="0.1">1st</text>
<text x="402.90" y="233.65" font-size="7.3" textLength="11.60" lengthAdjust="spacingAndGlyphs" text-anchor="middle" fill="#1a1a1a" stroke="#1a1a1a" stroke-width="0.1">2nd</text>
<line x1="449.80" y1="178.65" x2="495.30" y2="178.65" stroke="#d9d9d9" stroke-width="0.9"/>
<line x1="449.80" y1="196.50" x2="495.30" y2="196.50" stroke="#d9d9d9" stroke-width="0.9"/>
<path d="M459.5,219.7 L475.1,214.1 L490.8,219.7" fill="none" stroke="rgba(228,25,25,0.45)" stroke-width="0.55"/>
<path d="M459.3,219.7 L474.3,219.7 L490.4,219.7" fill="none" stroke="rgba(228,25,25,0.45)" stroke-width="0.55"/>
<path d="M459.1,219.7 L475.7,219.7 L490.9,200.9" fill="none" stroke="rgba(228,25,25,0.45)" stroke-width="0.55"/>
<path d="M459.0,219.7 L474.9,199.8 L490.6,172.0" fill="none" stroke="rgba(228,25,25,0.45)" stroke-width="0.55"/>
<path d="M459.0,219.7 L474.3,219.7 L490.8,208.9" fill="none" stroke="rgba(228,25,25,0.45)" stroke-width="0.55"/>
<path d="M458.9,219.7 L474.7,196.3 L490.5,200.5" fill="none" stroke="rgba(228,25,25,0.45)" stroke-width="0.55"/>
<path d="M460.1,215.4 L474.8,194.6 L490.5,219.7" fill="none" stroke="rgba(228,25,25,0.45)" stroke-width="0.55"/>
<path d="M459.4,214.9 L474.6,212.0 L489.9,219.7" fill="none" stroke="rgba(228,25,25,0.45)" stroke-width="0.55"/>
<path d="M460.1,215.4 L474.7,198.4 L491.1,201.3" fill="none" stroke="rgba(228,25,25,0.45)" stroke-width="0.55"/>
<path d="M459.3,212.3 L474.9,202.3 L490.5,182.9" fill="none" stroke="rgba(228,25,25,0.45)" stroke-width="0.55"/>
<path d="M459.5,219.7 L475.2,195.9 L490.7,209.4" fill="none" stroke="rgba(228,25,25,0.45)" stroke-width="0.55"/>
<path d="M459.4,216.1 L475.1,201.0 L490.6,181.2" fill="none" stroke="rgba(228,25,25,0.45)" stroke-width="0.55"/>
<path d="M460.2,212.7 L474.6,181.8 L490.6,190.6" fill="none" stroke="rgba(228,25,25,0.45)" stroke-width="0.55"/>
<path d="M459.2,213.2 L474.6,203.1 L490.1,195.9" fill="none" stroke="rgba(228,25,25,0.45)" stroke-width="0.55"/>
<path d="M459.0,211.2 L474.8,203.3 L490.8,178.6" fill="none" stroke="rgba(228,25,25,0.45)" stroke-width="0.55"/>
<path d="M459.5,219.7 L475.5,193.0 L489.9,203.1" fill="none" stroke="rgba(228,25,25,0.45)" stroke-width="0.55"/>
<path d="M460.0,219.7 L475.1,194.7 L491.2,183.8" fill="none" stroke="rgba(228,25,25,0.45)" stroke-width="0.55"/>
<path d="M460.0,215.8 L474.5,186.3 L490.6,175.3" fill="none" stroke="rgba(228,25,25,0.45)" stroke-width="0.55"/>
<path d="M460.2,211.3 L475.5,184.8 L489.9,175.0" fill="none" stroke="rgba(228,25,25,0.45)" stroke-width="0.55"/>
<path d="M459.9,212.6 L475.7,196.0 L491.1,185.0" fill="none" stroke="rgba(228,25,25,0.45)" stroke-width="0.55"/>
<path d="M459.1,213.6 L475.2,194.0 L490.4,176.6" fill="none" stroke="rgba(228,25,25,0.45)" stroke-width="0.55"/>
<path d="M458.9,214.0 L475.0,195.1 L490.8,177.0" fill="none" stroke="rgba(228,25,25,0.45)" stroke-width="0.55"/>
<path d="M459.4,214.3 L475.2,191.4 L490.4,174.4" fill="none" stroke="rgba(228,25,25,0.45)" stroke-width="0.55"/>
<path d="M459.9,209.3 L474.9,191.3 L490.5,178.3" fill="none" stroke="rgba(228,25,25,0.45)" stroke-width="0.55"/>
<path d="M459.8,209.9 L474.4,186.9 L490.4,176.1" fill="none" stroke="rgba(228,25,25,0.45)" stroke-width="0.55"/>
<path d="M459.9,209.8 L475.0,187.0 L490.9,170.4" fill="none" stroke="rgba(228,25,25,0.45)" stroke-width="0.55"/>
<path d="M458.9,209.9 L474.7,193.7 L489.8,181.1" fill="none" stroke="rgba(228,25,25,0.45)" stroke-width="0.55"/>
<path d="M458.8,209.0 L475.5,207.2 L490.2,180.1" fill="none" stroke="rgba(228,25,25,0.45)" stroke-width="0.55"/>
<path d="M459.9,205.4 L474.9,186.7 L491.0,171.9" fill="none" stroke="rgba(228,25,25,0.45)" stroke-width="0.55"/>
<path d="M459.4,209.1 L475.0,182.4 L490.6,174.4" fill="none" stroke="rgba(228,25,25,0.45)" stroke-width="0.55"/>
<path d="M459.9,206.8 L475.0,184.1 L490.3,171.7" fill="none" stroke="rgba(228,25,25,0.45)" stroke-width="0.55"/>
<path d="M459.5,208.6 L475.5,181.7 L491.0,170.6" fill="none" stroke="rgba(228,25,25,0.45)" stroke-width="0.55"/>
<path d="M459.7,208.7 L474.8,179.0 L491.2,169.0" fill="none" stroke="rgba(228,25,25,0.45)" stroke-width="0.55"/>
<path d="M459.7,210.2 L474.5,172.5 L490.6,166.2" fill="none" stroke="rgba(228,25,25,0.45)" stroke-width="0.55"/>
<path d="M459.9,206.0 L475.0,186.2 L490.0,168.2" fill="none" stroke="rgba(228,25,25,0.45)" stroke-width="0.55"/>
<path d="M459.0,207.7 L474.6,183.2 L490.1,168.7" fill="none" stroke="rgba(228,25,25,0.45)" stroke-width="0.55"/>
<path d="M460.0,202.9 L475.5,175.2 L490.5,185.9" fill="none" stroke="rgba(228,25,25,0.45)" stroke-width="0.55"/>
<path d="M459.6,205.3 L475.3,171.9 L490.9,171.9" fill="none" stroke="rgba(228,25,25,0.45)" stroke-width="0.55"/>
<path d="M459.3,209.8 L474.9,187.0 L490.4,169.0" fill="none" stroke="rgba(228,25,25,0.45)" stroke-width="0.55"/>
<path d="M459.6,203.1 L475.6,179.1 L490.6,170.4" fill="none" stroke="rgba(228,25,25,0.45)" stroke-width="0.55"/>
<path d="M460.1,203.3 L474.6,174.4 L490.1,167.7" fill="none" stroke="rgba(228,25,25,0.45)" stroke-width="0.55"/>
<path d="M459.4,206.5 L475.2,180.8 L490.2,163.1" fill="none" stroke="rgba(228,25,25,0.45)" stroke-width="0.55"/>
<path d="M459.2,204.3 L475.4,172.0 L490.2,165.0" fill="none" stroke="rgba(228,25,25,0.45)" stroke-width="0.55"/>
<path d="M459.6,203.0 L474.5,171.8 L490.1,163.3" fill="none" stroke="rgba(228,25,25,0.45)" stroke-width="0.55"/>
<path d="M460.0,202.9 L475.4,176.1 L490.0,171.1" fill="none" stroke="rgba(228,25,25,0.45)" stroke-width="0.55"/>
<path d="M459.50,161.70 L475.00,158.60 L490.50,158.60" fill="none" stroke="rgba(250,170,20,0.6)" stroke-width="0.6"/>
<path d="M459.50,180.60 L475.00,169.00 L490.50,164.20" fill="none" stroke="rgba(250,170,20,0.6)" stroke-width="0.6"/>
<circle cx="459.5" cy="219.7" r="0.8" fill="rgba(214,0,0,0.85)"/>
<circle cx="475.1" cy="214.1" r="0.8" fill="rgba(214,0,0,0.85)"/>
<circle cx="490.8" cy="219.7" r="0.8" fill="rgba(214,0,0,0.85)"/>
<circle cx="459.3" cy="219.7" r="0.8" fill="rgba(214,0,0,0.85)"/>
<circle cx="474.3" cy="219.7" r="0.8" fill="rgba(214,0,0,0.85)"/>
<circle cx="490.4" cy="219.7" r="0.8" fill="rgba(214,0,0,0.85)"/>
<circle cx="459.1" cy="219.7" r="0.8" fill="rgba(214,0,0,0.85)"/>
<circle cx="475.7" cy="219.7" r="0.8" fill="rgba(214,0,0,0.85)"/>
<circle cx="490.9" cy="200.9" r="0.8" fill="rgba(214,0,0,0.85)"/>
<circle cx="459.0" cy="219.7" r="0.8" fill="rgba(214,0,0,0.85)"/>
<circle cx="474.9" cy="199.8" r="0.8" fill="rgba(214,0,0,0.85)"/>
<circle cx="490.6" cy="172.0" r="0.8" fill="rgba(214,0,0,0.85)"/>
<circle cx="459.0" cy="219.7" r="0.8" fill="rgba(214,0,0,0.85)"/>
<circle cx="474.3" cy="219.7" r="0.8" fill="rgba(214,0,0,0.85)"/>
<circle cx="490.8" cy="208.9" r="0.8" fill="rgba(214,0,0,0.85)"/>
<circle cx="458.9" cy="219.7" r="0.8" fill="rgba(214,0,0,0.85)"/>
<circle cx="474.7" cy="196.3" r="0.8" fill="rgba(214,0,0,0.85)"/>
<circle cx="490.5" cy="200.5" r="0.8" fill="rgba(214,0,0,0.85)"/>
<circle cx="460.1" cy="215.4" r="0.8" fill="rgba(214,0,0,0.85)"/>
<circle cx="474.8" cy="194.6" r="0.8" fill="rgba(214,0,0,0.85)"/>
<circle cx="490.5" cy="219.7" r="0.8" fill="rgba(214,0,0,0.85)"/>
<circle cx="459.4" cy="214.9" r="0.8" fill="rgba(214,0,0,0.85)"/>
<circle cx="474.6" cy="212.0" r="0.8" fill="rgba(214,0,0,0.85)"/>
<circle cx="489.9" cy="219.7" r="0.8" fill="rgba(214,0,0,0.85)"/>
<circle cx="460.1" cy="215.4" r="0.8" fill="rgba(214,0,0,0.85)"/>
<circle cx="474.7" cy="198.4" r="0.8" fill="rgba(214,0,0,0.85)"/>
<circle cx="491.1" cy="201.3" r="0.8" fill="rgba(214,0,0,0.85)"/>
<circle cx="459.3" cy="212.3" r="0.8" fill="rgba(214,0,0,0.85)"/>
<circle cx="474.9" cy="202.3" r="0.8" fill="rgba(214,0,0,0.85)"/>
<circle cx="490.5" cy="182.9" r="0.8" fill="rgba(214,0,0,0.85)"/>
<circle cx="459.5" cy="219.7" r="0.8" fill="rgba(214,0,0,0.85)"/>
<circle cx="475.2" cy="195.9" r="0.8" fill="rgba(214,0,0,0.85)"/>
<circle cx="490.7" cy="209.4" r="0.8" fill="rgba(214,0,0,0.85)"/>
<circle cx="459.4" cy="216.1" r="0.8" fill="rgba(214,0,0,0.85)"/>
<circle cx="475.1" cy="201.0" r="0.8" fill="rgba(214,0,0,0.85)"/>
<circle cx="490.6" cy="181.2" r="0.8" fill="rgba(214,0,0,0.85)"/>
<circle cx="460.2" cy="212.7" r="0.8" fill="rgba(214,0,0,0.85)"/>
<circle cx="474.6" cy="181.8" r="0.8" fill="rgba(214,0,0,0.85)"/>
<circle cx="490.6" cy="190.6" r="0.8" fill="rgba(214,0,0,0.85)"/>
<circle cx="459.2" cy="213.2" r="0.8" fill="rgba(214,0,0,0.85)"/>
<circle cx="474.6" cy="203.1" r="0.8" fill="rgba(214,0,0,0.85)"/>
<circle cx="490.1" cy="195.9" r="0.8" fill="rgba(214,0,0,0.85)"/>
<circle cx="459.0" cy="211.2" r="0.8" fill="rgba(214,0,0,0.85)"/>
<circle cx="474.8" cy="203.3" r="0.8" fill="rgba(214,0,0,0.85)"/>
<circle cx="490.8" cy="178.6" r="0.8" fill="rgba(214,0,0,0.85)"/>
<circle cx="459.5" cy="219.7" r="0.8" fill="rgba(214,0,0,0.85)"/>
<circle cx="475.5" cy="193.0" r="0.8" fill="rgba(214,0,0,0.85)"/>
<circle cx="489.9" cy="203.1" r="0.8" fill="rgba(214,0,0,0.85)"/>
<circle cx="460.0" cy="219.7" r="0.8" fill="rgba(214,0,0,0.85)"/>
<circle cx="475.1" cy="194.7" r="0.8" fill="rgba(214,0,0,0.85)"/>
<circle cx="491.2" cy="183.8" r="0.8" fill="rgba(214,0,0,0.85)"/>
<circle cx="460.0" cy="215.8" r="0.8" fill="rgba(214,0,0,0.85)"/>
<circle cx="474.5" cy="186.3" r="0.8" fill="rgba(214,0,0,0.85)"/>
<circle cx="490.6" cy="175.3" r="0.8" fill="rgba(214,0,0,0.85)"/>
<circle cx="460.2" cy="211.3" r="0.8" fill="rgba(214,0,0,0.85)"/>
<circle cx="475.5" cy="184.8" r="0.8" fill="rgba(214,0,0,0.85)"/>
<circle cx="489.9" cy="175.0" r="0.8" fill="rgba(214,0,0,0.85)"/>
<circle cx="459.9" cy="212.6" r="0.8" fill="rgba(214,0,0,0.85)"/>
<circle cx="475.7" cy="196.0" r="0.8" fill="rgba(214,0,0,0.85)"/>
<circle cx="491.1" cy="185.0" r="0.8" fill="rgba(214,0,0,0.85)"/>
<circle cx="459.1" cy="213.6" r="0.8" fill="rgba(214,0,0,0.85)"/>
<circle cx="475.2" cy="194.0" r="0.8" fill="rgba(214,0,0,0.85)"/>
<circle cx="490.4" cy="176.6" r="0.8" fill="rgba(214,0,0,0.85)"/>
<circle cx="458.9" cy="214.0" r="0.8" fill="rgba(214,0,0,0.85)"/>
<circle cx="475.0" cy="195.1" r="0.8" fill="rgba(214,0,0,0.85)"/>
<circle cx="490.8" cy="177.0" r="0.8" fill="rgba(214,0,0,0.85)"/>
<circle cx="459.4" cy="214.3" r="0.8" fill="rgba(214,0,0,0.85)"/>
<circle cx="475.2" cy="191.4" r="0.8" fill="rgba(214,0,0,0.85)"/>
<circle cx="490.4" cy="174.4" r="0.8" fill="rgba(214,0,0,0.85)"/>
<circle cx="459.9" cy="209.3" r="0.8" fill="rgba(214,0,0,0.85)"/>
<circle cx="474.9" cy="191.3" r="0.8" fill="rgba(214,0,0,0.85)"/>
<circle cx="490.5" cy="178.3" r="0.8" fill="rgba(214,0,0,0.85)"/>
<circle cx="459.8" cy="209.9" r="0.8" fill="rgba(214,0,0,0.85)"/>
<circle cx="474.4" cy="186.9" r="0.8" fill="rgba(214,0,0,0.85)"/>
<circle cx="490.4" cy="176.1" r="0.8" fill="rgba(214,0,0,0.85)"/>
<circle cx="459.9" cy="209.8" r="0.8" fill="rgba(214,0,0,0.85)"/>
<circle cx="475.0" cy="187.0" r="0.8" fill="rgba(214,0,0,0.85)"/>
<circle cx="490.9" cy="170.4" r="0.8" fill="rgba(214,0,0,0.85)"/>
<circle cx="458.9" cy="209.9" r="0.8" fill="rgba(214,0,0,0.85)"/>
<circle cx="474.7" cy="193.7" r="0.8" fill="rgba(214,0,0,0.85)"/>
<circle cx="489.8" cy="181.1" r="0.8" fill="rgba(214,0,0,0.85)"/>
<circle cx="458.8" cy="209.0" r="0.8" fill="rgba(214,0,0,0.85)"/>
<circle cx="475.5" cy="207.2" r="0.8" fill="rgba(214,0,0,0.85)"/>
<circle cx="490.2" cy="180.1" r="0.8" fill="rgba(214,0,0,0.85)"/>
<circle cx="459.9" cy="205.4" r="0.8" fill="rgba(214,0,0,0.85)"/>
<circle cx="474.9" cy="186.7" r="0.8" fill="rgba(214,0,0,0.85)"/>
<circle cx="491.0" cy="171.9" r="0.8" fill="rgba(214,0,0,0.85)"/>
<circle cx="459.4" cy="209.1" r="0.8" fill="rgba(214,0,0,0.85)"/>
<circle cx="475.0" cy="182.4" r="0.8" fill="rgba(214,0,0,0.85)"/>
<circle cx="490.6" cy="174.4" r="0.8" fill="rgba(214,0,0,0.85)"/>
<circle cx="459.9" cy="206.8" r="0.8" fill="rgba(214,0,0,0.85)"/>
<circle cx="475.0" cy="184.1" r="0.8" fill="rgba(214,0,0,0.85)"/>
<circle cx="490.3" cy="171.7" r="0.8" fill="rgba(214,0,0,0.85)"/>
<circle cx="459.5" cy="208.6" r="0.8" fill="rgba(214,0,0,0.85)"/>
<circle cx="475.5" cy="181.7" r="0.8" fill="rgba(214,0,0,0.85)"/>
<circle cx="491.0" cy="170.6" r="0.8" fill="rgba(214,0,0,0.85)"/>
<circle cx="459.7" cy="208.7" r="0.8" fill="rgba(214,0,0,0.85)"/>
<circle cx="474.8" cy="179.0" r="0.8" fill="rgba(214,0,0,0.85)"/>
<circle cx="491.2" cy="169.0" r="0.8" fill="rgba(214,0,0,0.85)"/>
<circle cx="459.7" cy="210.2" r="0.8" fill="rgba(214,0,0,0.85)"/>
<circle cx="474.5" cy="172.5" r="0.8" fill="rgba(214,0,0,0.85)"/>
<circle cx="490.6" cy="166.2" r="0.8" fill="rgba(214,0,0,0.85)"/>
<circle cx="459.9" cy="206.0" r="0.8" fill="rgba(214,0,0,0.85)"/>
<circle cx="475.0" cy="186.2" r="0.8" fill="rgba(214,0,0,0.85)"/>
<circle cx="490.0" cy="168.2" r="0.8" fill="rgba(214,0,0,0.85)"/>
<circle cx="459.0" cy="207.7" r="0.8" fill="rgba(214,0,0,0.85)"/>
<circle cx="474.6" cy="183.2" r="0.8" fill="rgba(214,0,0,0.85)"/>
<circle cx="490.1" cy="168.7" r="0.8" fill="rgba(214,0,0,0.85)"/>
<circle cx="460.0" cy="202.9" r="0.8" fill="rgba(214,0,0,0.85)"/>
<circle cx="475.5" cy="175.2" r="0.8" fill="rgba(214,0,0,0.85)"/>
<circle cx="490.5" cy="185.9" r="0.8" fill="rgba(214,0,0,0.85)"/>
<circle cx="459.6" cy="205.3" r="0.8" fill="rgba(214,0,0,0.85)"/>
<circle cx="475.3" cy="171.9" r="0.8" fill="rgba(214,0,0,0.85)"/>
<circle cx="490.9" cy="171.9" r="0.8" fill="rgba(214,0,0,0.85)"/>
<circle cx="459.3" cy="209.8" r="0.8" fill="rgba(214,0,0,0.85)"/>
<circle cx="474.9" cy="187.0" r="0.8" fill="rgba(214,0,0,0.85)"/>
<circle cx="490.4" cy="169.0" r="0.8" fill="rgba(214,0,0,0.85)"/>
<circle cx="459.6" cy="203.1" r="0.8" fill="rgba(214,0,0,0.85)"/>
<circle cx="475.6" cy="179.1" r="0.8" fill="rgba(214,0,0,0.85)"/>
<circle cx="490.6" cy="170.4" r="0.8" fill="rgba(214,0,0,0.85)"/>
<circle cx="460.1" cy="203.3" r="0.8" fill="rgba(214,0,0,0.85)"/>
<circle cx="474.6" cy="174.4" r="0.8" fill="rgba(214,0,0,0.85)"/>
<circle cx="490.1" cy="167.7" r="0.8" fill="rgba(214,0,0,0.85)"/>
<circle cx="459.4" cy="206.5" r="0.8" fill="rgba(214,0,0,0.85)"/>
<circle cx="475.2" cy="180.8" r="0.8" fill="rgba(214,0,0,0.85)"/>
<circle cx="490.2" cy="163.1" r="0.8" fill="rgba(214,0,0,0.85)"/>
<circle cx="459.2" cy="204.3" r="0.8" fill="rgba(214,0,0,0.85)"/>
<circle cx="475.4" cy="172.0" r="0.8" fill="rgba(214,0,0,0.85)"/>
<circle cx="490.2" cy="165.0" r="0.8" fill="rgba(214,0,0,0.85)"/>
<circle cx="459.6" cy="203.0" r="0.8" fill="rgba(214,0,0,0.85)"/>
<circle cx="474.5" cy="171.8" r="0.8" fill="rgba(214,0,0,0.85)"/>
<circle cx="490.1" cy="163.3" r="0.8" fill="rgba(214,0,0,0.85)"/>
<circle cx="460.0" cy="202.9" r="0.8" fill="rgba(214,0,0,0.85)"/>
<circle cx="475.4" cy="176.1" r="0.8" fill="rgba(214,0,0,0.85)"/>
<circle cx="490.0" cy="171.1" r="0.8" fill="rgba(214,0,0,0.85)"/>
<rect x="458.75" y="161.00" width="1.5" height="1.4" fill="rgba(245,160,0,0.9)"/>
<rect x="474.25" y="157.90" width="1.5" height="1.4" fill="rgba(245,160,0,0.9)"/>
<rect x="489.75" y="157.90" width="1.5" height="1.4" fill="rgba(245,160,0,0.9)"/>
<rect x="458.75" y="179.90" width="1.5" height="1.4" fill="rgba(245,160,0,0.9)"/>
<rect x="474.25" y="168.30" width="1.5" height="1.4" fill="rgba(245,160,0,0.9)"/>
<rect x="489.75" y="163.50" width="1.5" height="1.4" fill="rgba(245,160,0,0.9)"/>
<path d="M459.50,209.00 L475.00,191.00 L490.50,178.00" fill="none" stroke="#d20000" stroke-width="1.35" stroke-linejoin="round"/>
<path d="M459.50,175.70 L475.00,158.60 L490.50,158.60" fill="none" stroke="#f7a500" stroke-width="1.35" stroke-linejoin="round"/>
<rect x="458.70" y="174.95" width="1.6" height="1.5" fill="#f5a000"/>
<rect x="474.20" y="157.85" width="1.6" height="1.5" fill="#f5a000"/>
<rect x="489.70" y="157.85" width="1.6" height="1.5" fill="#f5a000"/>
<line x1="449.80" y1="145.30" x2="449.80" y2="223.05" stroke="#111" stroke-width="1.25"/>
<line x1="446.60" y1="148.90" x2="449.80" y2="148.90" stroke="#111" stroke-width="0.9"/>
<line x1="446.60" y1="160.80" x2="449.80" y2="160.80" stroke="#111" stroke-width="0.9"/>
<line x1="446.60" y1="172.70" x2="449.80" y2="172.70" stroke="#111" stroke-width="0.9"/>
<line x1="446.60" y1="178.65" x2="449.80" y2="178.65" stroke="#111" stroke-width="0.9"/>
<line x1="446.60" y1="184.60" x2="449.80" y2="184.60" stroke="#111" stroke-width="0.9"/>
<line x1="446.60" y1="196.50" x2="449.80" y2="196.50" stroke="#111" stroke-width="0.9"/>
<line x1="446.60" y1="222.45" x2="449.80" y2="222.45" stroke="#111" stroke-width="0.9"/>
<line x1="446.60" y1="222.45" x2="495.30" y2="222.45" stroke="#111" stroke-width="1.1"/>
<line x1="459.50" y1="222.45" x2="459.50" y2="225.45" stroke="#111" stroke-width="0.8"/>
<line x1="475.00" y1="222.45" x2="475.00" y2="225.45" stroke="#111" stroke-width="0.8"/>
<line x1="490.50" y1="222.45" x2="490.50" y2="225.45" stroke="#111" stroke-width="0.8"/>
<path d="M452.50,144.50 V143.10 Q452.50,142.70 452.90,142.70 H469.75 Q470.15,142.70 470.15,143.10 V144.50" fill="none" stroke="#383838" stroke-width="0.85"/>
<path d="M472.40,144.50 V143.10 Q472.40,142.70 472.80,142.70 H489.60 Q490.00,142.70 490.00,143.10 V144.50" fill="none" stroke="#383838" stroke-width="0.85"/>
<rect x="460.62" y="139.30" width="1.5" height="1.5" fill="#3a3a3a"/>
<rect x="480.50" y="139.30" width="1.5" height="1.5" fill="#3a3a3a"/>
<path d="M452.50,150.10 V148.70 Q452.50,148.30 452.90,148.30 H489.60 Q490.00,148.30 490.00,148.70 V150.10" fill="none" stroke="#383838" stroke-width="0.85"/>
<rect x="470.55" y="145.00" width="1.5" height="1.5" fill="#3a3a3a"/>
<text x="459.50" y="233.65" font-size="7.3" textLength="10.20" lengthAdjust="spacingAndGlyphs" text-anchor="middle" fill="#1a1a1a" stroke="#1a1a1a" stroke-width="0.1">Pre</text>
<text x="475.00" y="233.65" font-size="7.3" textLength="8.90" lengthAdjust="spacingAndGlyphs" text-anchor="middle" fill="#1a1a1a" stroke="#1a1a1a" stroke-width="0.1">1st</text>
<text x="490.50" y="233.65" font-size="7.3" textLength="11.60" lengthAdjust="spacingAndGlyphs" text-anchor="middle" fill="#1a1a1a" stroke="#1a1a1a" stroke-width="0.1">2nd</text>
<line x1="34.30" y1="293.71" x2="80.50" y2="293.71" stroke="#d9d9d9" stroke-width="0.9"/>
<line x1="34.30" y1="311.60" x2="80.50" y2="311.60" stroke="#d9d9d9" stroke-width="0.9"/>
<path d="M44.0,335.1 L59.0,335.1 L73.2,328.3" fill="none" stroke="rgba(228,25,25,0.45)" stroke-width="0.55"/>
<path d="M43.3,335.1 L58.7,335.1 L73.6,335.1" fill="none" stroke="rgba(228,25,25,0.45)" stroke-width="0.55"/>
<path d="M43.8,332.7 L59.0,330.0 L73.8,309.5" fill="none" stroke="rgba(228,25,25,0.45)" stroke-width="0.55"/>
<path d="M43.0,335.1 L58.6,331.1 L73.8,324.5" fill="none" stroke="rgba(228,25,25,0.45)" stroke-width="0.55"/>
<path d="M43.3,335.1 L58.3,335.1 L73.6,335.1" fill="none" stroke="rgba(228,25,25,0.45)" stroke-width="0.55"/>
<path d="M43.7,327.8 L58.4,332.2 L74.5,333.2" fill="none" stroke="rgba(228,25,25,0.45)" stroke-width="0.55"/>
<path d="M43.5,335.1 L58.1,335.1 L73.7,330.9" fill="none" stroke="rgba(228,25,25,0.45)" stroke-width="0.55"/>
<path d="M44.1,328.8 L58.4,325.8 L73.7,335.1" fill="none" stroke="rgba(228,25,25,0.45)" stroke-width="0.55"/>
<path d="M42.9,335.1 L58.9,321.3 L73.6,332.0" fill="none" stroke="rgba(228,25,25,0.45)" stroke-width="0.55"/>
<path d="M43.1,332.4 L59.2,335.1 L74.1,291.4" fill="none" stroke="rgba(228,25,25,0.45)" stroke-width="0.55"/>
<path d="M43.6,319.8 L59.1,335.1 L73.2,329.8" fill="none" stroke="rgba(228,25,25,0.45)" stroke-width="0.55"/>
<path d="M43.8,327.2 L59.1,320.6 L74.3,335.1" fill="none" stroke="rgba(228,25,25,0.45)" stroke-width="0.55"/>
<path d="M43.2,327.0 L58.9,329.1 L74.0,325.0" fill="none" stroke="rgba(228,25,25,0.45)" stroke-width="0.55"/>
<path d="M44.0,335.1 L59.0,326.7 L73.2,328.0" fill="none" stroke="rgba(228,25,25,0.45)" stroke-width="0.55"/>
<path d="M44.2,328.9 L58.5,323.5 L73.9,323.7" fill="none" stroke="rgba(228,25,25,0.45)" stroke-width="0.55"/>
<path d="M44.0,322.9 L58.8,325.9 L73.8,310.2" fill="none" stroke="rgba(228,25,25,0.45)" stroke-width="0.55"/>
<path d="M44.3,317.3 L58.8,320.9 L73.2,320.5" fill="none" stroke="rgba(228,25,25,0.45)" stroke-width="0.55"/>
<path d="M44.1,329.9 L59.1,321.6 L73.7,311.3" fill="none" stroke="rgba(228,25,25,0.45)" stroke-width="0.55"/>
<path d="M43.4,326.0 L58.6,311.9 L73.3,314.4" fill="none" stroke="rgba(228,25,25,0.45)" stroke-width="0.55"/>
<path d="M44.1,316.8 L57.9,317.1 L73.3,310.2" fill="none" stroke="rgba(228,25,25,0.45)" stroke-width="0.55"/>
<path d="M43.5,326.2 L58.5,318.8 L74.4,304.5" fill="none" stroke="rgba(228,25,25,0.45)" stroke-width="0.55"/>
<path d="M43.9,320.3 L58.8,319.5 L73.7,286.5" fill="none" stroke="rgba(228,25,25,0.45)" stroke-width="0.55"/>
<path d="M43.2,309.1 L58.0,324.2 L73.6,312.0" fill="none" stroke="rgba(228,25,25,0.45)" stroke-width="0.55"/>
<path d="M42.9,319.9 L58.9,318.8 L73.6,293.7" fill="none" stroke="rgba(228,25,25,0.45)" stroke-width="0.55"/>
<path d="M43.0,312.5 L58.6,326.8 L73.9,311.6" fill="none" stroke="rgba(228,25,25,0.45)" stroke-width="0.55"/>
<path d="M43.5,317.3 L58.7,311.2 L73.4,328.0" fill="none" stroke="rgba(228,25,25,0.45)" stroke-width="0.55"/>
<path d="M43.2,314.6 L58.8,323.8 L74.2,310.2" fill="none" stroke="rgba(228,25,25,0.45)" stroke-width="0.55"/>
<path d="M44.2,317.9 L58.0,310.8 L73.4,301.0" fill="none" stroke="rgba(228,25,25,0.45)" stroke-width="0.55"/>
<path d="M43.8,312.0 L59.0,307.8 L74.3,309.3" fill="none" stroke="rgba(228,25,25,0.45)" stroke-width="0.55"/>
<path d="M43.5,311.0 L58.5,303.6 L73.6,295.4" fill="none" stroke="rgba(228,25,25,0.45)" stroke-width="0.55"/>
<path d="M43.1,306.0 L59.1,299.5 L74.4,297.1" fill="none" stroke="rgba(228,25,25,0.45)" stroke-width="0.55"/>
<path d="M43.5,313.6 L59.3,315.2 L73.9,293.4" fill="none" stroke="rgba(228,25,25,0.45)" stroke-width="0.55"/>
<path d="M44.2,311.9 L58.9,308.7 L74.2,289.8" fill="none" stroke="rgba(228,25,25,0.45)" stroke-width="0.55"/>
<path d="M43.3,312.2 L58.7,319.0 L74.4,300.0" fill="none" stroke="rgba(228,25,25,0.45)" stroke-width="0.55"/>
<path d="M43.1,312.6 L59.1,302.6 L73.5,294.4" fill="none" stroke="rgba(228,25,25,0.45)" stroke-width="0.55"/>
<path d="M43.8,306.1 L58.8,307.4 L73.2,299.8" fill="none" stroke="rgba(228,25,25,0.45)" stroke-width="0.55"/>
<path d="M44.1,311.5 L58.2,309.4 L73.7,282.1" fill="none" stroke="rgba(228,25,25,0.45)" stroke-width="0.55"/>
<path d="M43.3,310.5 L57.9,286.0 L74.4,297.6" fill="none" stroke="rgba(228,25,25,0.45)" stroke-width="0.55"/>
<path d="M43.7,312.9 L58.5,296.5 L74.2,281.7" fill="none" stroke="rgba(228,25,25,0.45)" stroke-width="0.55"/>
<path d="M43.3,306.2 L58.8,286.3 L73.9,282.1" fill="none" stroke="rgba(228,25,25,0.45)" stroke-width="0.55"/>
<path d="M43.4,312.1 L58.0,288.8 L74.3,282.3" fill="none" stroke="rgba(228,25,25,0.45)" stroke-width="0.55"/>
<path d="M43.3,306.0 L58.4,286.3 L73.9,282.3" fill="none" stroke="rgba(228,25,25,0.45)" stroke-width="0.55"/>
<circle cx="44.0" cy="335.1" r="0.8" fill="rgba(214,0,0,0.85)"/>
<circle cx="59.0" cy="335.1" r="0.8" fill="rgba(214,0,0,0.85)"/>
<circle cx="73.2" cy="328.3" r="0.8" fill="rgba(214,0,0,0.85)"/>
<circle cx="43.3" cy="335.1" r="0.8" fill="rgba(214,0,0,0.85)"/>
<circle cx="58.7" cy="335.1" r="0.8" fill="rgba(214,0,0,0.85)"/>
<circle cx="73.6" cy="335.1" r="0.8" fill="rgba(214,0,0,0.85)"/>
<circle cx="43.8" cy="332.7" r="0.8" fill="rgba(214,0,0,0.85)"/>
<circle cx="59.0" cy="330.0" r="0.8" fill="rgba(214,0,0,0.85)"/>
<circle cx="73.8" cy="309.5" r="0.8" fill="rgba(214,0,0,0.85)"/>
<circle cx="43.0" cy="335.1" r="0.8" fill="rgba(214,0,0,0.85)"/>
<circle cx="58.6" cy="331.1" r="0.8" fill="rgba(214,0,0,0.85)"/>
<circle cx="73.8" cy="324.5" r="0.8" fill="rgba(214,0,0,0.85)"/>
<circle cx="43.3" cy="335.1" r="0.8" fill="rgba(214,0,0,0.85)"/>
<circle cx="58.3" cy="335.1" r="0.8" fill="rgba(214,0,0,0.85)"/>
<circle cx="73.6" cy="335.1" r="0.8" fill="rgba(214,0,0,0.85)"/>
<circle cx="43.7" cy="327.8" r="0.8" fill="rgba(214,0,0,0.85)"/>
<circle cx="58.4" cy="332.2" r="0.8" fill="rgba(214,0,0,0.85)"/>
<circle cx="74.5" cy="333.2" r="0.8" fill="rgba(214,0,0,0.85)"/>
<circle cx="43.5" cy="335.1" r="0.8" fill="rgba(214,0,0,0.85)"/>
<circle cx="58.1" cy="335.1" r="0.8" fill="rgba(214,0,0,0.85)"/>
<circle cx="73.7" cy="330.9" r="0.8" fill="rgba(214,0,0,0.85)"/>
<circle cx="44.1" cy="328.8" r="0.8" fill="rgba(214,0,0,0.85)"/>
<circle cx="58.4" cy="325.8" r="0.8" fill="rgba(214,0,0,0.85)"/>
<circle cx="73.7" cy="335.1" r="0.8" fill="rgba(214,0,0,0.85)"/>
<circle cx="42.9" cy="335.1" r="0.8" fill="rgba(214,0,0,0.85)"/>
<circle cx="58.9" cy="321.3" r="0.8" fill="rgba(214,0,0,0.85)"/>
<circle cx="73.6" cy="332.0" r="0.8" fill="rgba(214,0,0,0.85)"/>
<circle cx="43.1" cy="332.4" r="0.8" fill="rgba(214,0,0,0.85)"/>
<circle cx="59.2" cy="335.1" r="0.8" fill="rgba(214,0,0,0.85)"/>
<circle cx="74.1" cy="291.4" r="0.8" fill="rgba(214,0,0,0.85)"/>
<circle cx="43.6" cy="319.8" r="0.8" fill="rgba(214,0,0,0.85)"/>
<circle cx="59.1" cy="335.1" r="0.8" fill="rgba(214,0,0,0.85)"/>
<circle cx="73.2" cy="329.8" r="0.8" fill="rgba(214,0,0,0.85)"/>
<circle cx="43.8" cy="327.2" r="0.8" fill="rgba(214,0,0,0.85)"/>
<circle cx="59.1" cy="320.6" r="0.8" fill="rgba(214,0,0,0.85)"/>
<circle cx="74.3" cy="335.1" r="0.8" fill="rgba(214,0,0,0.85)"/>
<circle cx="43.2" cy="327.0" r="0.8" fill="rgba(214,0,0,0.85)"/>
<circle cx="58.9" cy="329.1" r="0.8" fill="rgba(214,0,0,0.85)"/>
<circle cx="74.0" cy="325.0" r="0.8" fill="rgba(214,0,0,0.85)"/>
<circle cx="44.0" cy="335.1" r="0.8" fill="rgba(214,0,0,0.85)"/>
<circle cx="59.0" cy="326.7" r="0.8" fill="rgba(214,0,0,0.85)"/>
<circle cx="73.2" cy="328.0" r="0.8" fill="rgba(214,0,0,0.85)"/>
<circle cx="44.2" cy="328.9" r="0.8" fill="rgba(214,0,0,0.85)"/>
<circle cx="58.5" cy="323.5" r="0.8" fill="rgba(214,0,0,0.85)"/>
<circle cx="73.9" cy="323.7" r="0.8" fill="rgba(214,0,0,0.85)"/>
<circle cx="44.0" cy="322.9" r="0.8" fill="rgba(214,0,0,0.85)"/>
<circle cx="58.8" cy="325.9" r="0.8" fill="rgba(214,0,0,0.85)"/>
<circle cx="73.8" cy="310.2" r="0.8" fill="rgba(214,0,0,0.85)"/>
<circle cx="44.3" cy="317.3" r="0.8" fill="rgba(214,0,0,0.85)"/>
<circle cx="58.8" cy="320.9" r="0.8" fill="rgba(214,0,0,0.85)"/>
<circle cx="73.2" cy="320.5" r="0.8" fill="rgba(214,0,0,0.85)"/>
<circle cx="44.1" cy="329.9" r="0.8" fill="rgba(214,0,0,0.85)"/>
<circle cx="59.1" cy="321.6" r="0.8" fill="rgba(214,0,0,0.85)"/>
<circle cx="73.7" cy="311.3" r="0.8" fill="rgba(214,0,0,0.85)"/>
<circle cx="43.4" cy="326.0" r="0.8" fill="rgba(214,0,0,0.85)"/>
<circle cx="58.6" cy="311.9" r="0.8" fill="rgba(214,0,0,0.85)"/>
<circle cx="73.3" cy="314.4" r="0.8" fill="rgba(214,0,0,0.85)"/>
<circle cx="44.1" cy="316.8" r="0.8" fill="rgba(214,0,0,0.85)"/>
<circle cx="57.9" cy="317.1" r="0.8" fill="rgba(214,0,0,0.85)"/>
<circle cx="73.3" cy="310.2" r="0.8" fill="rgba(214,0,0,0.85)"/>
<circle cx="43.5" cy="326.2" r="0.8" fill="rgba(214,0,0,0.85)"/>
<circle cx="58.5" cy="318.8" r="0.8" fill="rgba(214,0,0,0.85)"/>
<circle cx="74.4" cy="304.5" r="0.8" fill="rgba(214,0,0,0.85)"/>
<circle cx="43.9" cy="320.3" r="0.8" fill="rgba(214,0,0,0.85)"/>
<circle cx="58.8" cy="319.5" r="0.8" fill="rgba(214,0,0,0.85)"/>
<circle cx="73.7" cy="286.5" r="0.8" fill="rgba(214,0,0,0.85)"/>
<circle cx="43.2" cy="309.1" r="0.8" fill="rgba(214,0,0,0.85)"/>
<circle cx="58.0" cy="324.2" r="0.8" fill="rgba(214,0,0,0.85)"/>
<circle cx="73.6" cy="312.0" r="0.8" fill="rgba(214,0,0,0.85)"/>
<circle cx="42.9" cy="319.9" r="0.8" fill="rgba(214,0,0,0.85)"/>
<circle cx="58.9" cy="318.8" r="0.8" fill="rgba(214,0,0,0.85)"/>
<circle cx="73.6" cy="293.7" r="0.8" fill="rgba(214,0,0,0.85)"/>
<circle cx="43.0" cy="312.5" r="0.8" fill="rgba(214,0,0,0.85)"/>
<circle cx="58.6" cy="326.8" r="0.8" fill="rgba(214,0,0,0.85)"/>
<circle cx="73.9" cy="311.6" r="0.8" fill="rgba(214,0,0,0.85)"/>
<circle cx="43.5" cy="317.3" r="0.8" fill="rgba(214,0,0,0.85)"/>
<circle cx="58.7" cy="311.2" r="0.8" fill="rgba(214,0,0,0.85)"/>
<circle cx="73.4" cy="328.0" r="0.8" fill="rgba(214,0,0,0.85)"/>
<circle cx="43.2" cy="314.6" r="0.8" fill="rgba(214,0,0,0.85)"/>
<circle cx="58.8" cy="323.8" r="0.8" fill="rgba(214,0,0,0.85)"/>
<circle cx="74.2" cy="310.2" r="0.8" fill="rgba(214,0,0,0.85)"/>
<circle cx="44.2" cy="317.9" r="0.8" fill="rgba(214,0,0,0.85)"/>
<circle cx="58.0" cy="310.8" r="0.8" fill="rgba(214,0,0,0.85)"/>
<circle cx="73.4" cy="301.0" r="0.8" fill="rgba(214,0,0,0.85)"/>
<circle cx="43.8" cy="312.0" r="0.8" fill="rgba(214,0,0,0.85)"/>
<circle cx="59.0" cy="307.8" r="0.8" fill="rgba(214,0,0,0.85)"/>
<circle cx="74.3" cy="309.3" r="0.8" fill="rgba(214,0,0,0.85)"/>
<circle cx="43.5" cy="311.0" r="0.8" fill="rgba(214,0,0,0.85)"/>
<circle cx="58.5" cy="303.6" r="0.8" fill="rgba(214,0,0,0.85)"/>
<circle cx="73.6" cy="295.4" r="0.8" fill="rgba(214,0,0,0.85)"/>
<circle cx="43.1" cy="306.0" r="0.8" fill="rgba(214,0,0,0.85)"/>
<circle cx="59.1" cy="299.5" r="0.8" fill="rgba(214,0,0,0.85)"/>
<circle cx="74.4" cy="297.1" r="0.8" fill="rgba(214,0,0,0.85)"/>
<circle cx="43.5" cy="313.6" r="0.8" fill="rgba(214,0,0,0.85)"/>
<circle cx="59.3" cy="315.2" r="0.8" fill="rgba(214,0,0,0.85)"/>
<circle cx="73.9" cy="293.4" r="0.8" fill="rgba(214,0,0,0.85)"/>
<circle cx="44.2" cy="311.9" r="0.8" fill="rgba(214,0,0,0.85)"/>
<circle cx="58.9" cy="308.7" r="0.8" fill="rgba(214,0,0,0.85)"/>
<circle cx="74.2" cy="289.8" r="0.8" fill="rgba(214,0,0,0.85)"/>
<circle cx="43.3" cy="312.2" r="0.8" fill="rgba(214,0,0,0.85)"/>
<circle cx="58.7" cy="319.0" r="0.8" fill="rgba(214,0,0,0.85)"/>
<circle cx="74.4" cy="300.0" r="0.8" fill="rgba(214,0,0,0.85)"/>
<circle cx="43.1" cy="312.6" r="0.8" fill="rgba(214,0,0,0.85)"/>
<circle cx="59.1" cy="302.6" r="0.8" fill="rgba(214,0,0,0.85)"/>
<circle cx="73.5" cy="294.4" r="0.8" fill="rgba(214,0,0,0.85)"/>
<circle cx="43.8" cy="306.1" r="0.8" fill="rgba(214,0,0,0.85)"/>
<circle cx="58.8" cy="307.4" r="0.8" fill="rgba(214,0,0,0.85)"/>
<circle cx="73.2" cy="299.8" r="0.8" fill="rgba(214,0,0,0.85)"/>
<circle cx="44.1" cy="311.5" r="0.8" fill="rgba(214,0,0,0.85)"/>
<circle cx="58.2" cy="309.4" r="0.8" fill="rgba(214,0,0,0.85)"/>
<circle cx="73.7" cy="282.1" r="0.8" fill="rgba(214,0,0,0.85)"/>
<circle cx="43.3" cy="310.5" r="0.8" fill="rgba(214,0,0,0.85)"/>
<circle cx="57.9" cy="286.0" r="0.8" fill="rgba(214,0,0,0.85)"/>
<circle cx="74.4" cy="297.6" r="0.8" fill="rgba(214,0,0,0.85)"/>
<circle cx="43.7" cy="312.9" r="0.8" fill="rgba(214,0,0,0.85)"/>
<circle cx="58.5" cy="296.5" r="0.8" fill="rgba(214,0,0,0.85)"/>
<circle cx="74.2" cy="281.7" r="0.8" fill="rgba(214,0,0,0.85)"/>
<circle cx="43.3" cy="306.2" r="0.8" fill="rgba(214,0,0,0.85)"/>
<circle cx="58.8" cy="286.3" r="0.8" fill="rgba(214,0,0,0.85)"/>
<circle cx="73.9" cy="282.1" r="0.8" fill="rgba(214,0,0,0.85)"/>
<circle cx="43.4" cy="312.1" r="0.8" fill="rgba(214,0,0,0.85)"/>
<circle cx="58.0" cy="288.8" r="0.8" fill="rgba(214,0,0,0.85)"/>
<circle cx="74.3" cy="282.3" r="0.8" fill="rgba(214,0,0,0.85)"/>
<circle cx="43.3" cy="306.0" r="0.8" fill="rgba(214,0,0,0.85)"/>
<circle cx="58.4" cy="286.3" r="0.8" fill="rgba(214,0,0,0.85)"/>
<circle cx="73.9" cy="282.3" r="0.8" fill="rgba(214,0,0,0.85)"/>
<path d="M43.60,326.00 L58.60,322.00 L73.80,311.00" fill="none" stroke="#d20000" stroke-width="1.35" stroke-linejoin="round"/>
<path d="M43.60,299.70 L58.60,273.80 L73.80,275.50" fill="none" stroke="#f7a500" stroke-width="1.35" stroke-linejoin="round"/>
<rect x="42.80" y="298.95" width="1.6" height="1.5" fill="#f5a000"/>
<rect x="57.80" y="273.05" width="1.6" height="1.5" fill="#f5a000"/>
<rect x="73.00" y="274.75" width="1.6" height="1.5" fill="#f5a000"/>
<line x1="34.30" y1="260.28" x2="34.30" y2="338.60" stroke="#111" stroke-width="1.25"/>
<line x1="31.10" y1="263.88" x2="34.30" y2="263.88" stroke="#111" stroke-width="0.9"/>
<line x1="31.10" y1="275.81" x2="34.30" y2="275.81" stroke="#111" stroke-width="0.9"/>
<line x1="31.10" y1="287.74" x2="34.30" y2="287.74" stroke="#111" stroke-width="0.9"/>
<line x1="31.10" y1="293.71" x2="34.30" y2="293.71" stroke="#111" stroke-width="0.9"/>
<line x1="31.10" y1="299.67" x2="34.30" y2="299.67" stroke="#111" stroke-width="0.9"/>
<line x1="31.10" y1="311.60" x2="34.30" y2="311.60" stroke="#111" stroke-width="0.9"/>
<line x1="31.10" y1="338.00" x2="34.30" y2="338.00" stroke="#111" stroke-width="0.9"/>
<line x1="31.10" y1="338.00" x2="80.50" y2="338.00" stroke="#111" stroke-width="1.1"/>
<line x1="43.60" y1="338.00" x2="43.60" y2="341.00" stroke="#111" stroke-width="0.8"/>
<line x1="58.60" y1="338.00" x2="58.60" y2="341.00" stroke="#111" stroke-width="0.8"/>
<line x1="73.80" y1="338.00" x2="73.80" y2="341.00" stroke="#111" stroke-width="0.8"/>
<path d="M36.95,258.50 V257.10 Q36.95,256.70 37.35,256.70 H53.88 Q54.27,256.70 54.27,257.10 V258.50" fill="none" stroke="#383838" stroke-width="0.85"/>
<path d="M56.52,258.50 V257.10 Q56.52,256.70 56.92,256.70 H73.40 Q73.80,256.70 73.80,257.10 V258.50" fill="none" stroke="#383838" stroke-width="0.85"/>
<rect x="44.91" y="252.40" width="1.5" height="1.5" fill="#3a3a3a"/>
<rect x="64.46" y="252.40" width="1.5" height="1.5" fill="#3a3a3a"/>
<path d="M36.95,264.90 V263.50 Q36.95,263.10 37.35,263.10 H73.40 Q73.80,263.10 73.80,263.50 V264.90" fill="none" stroke="#383838" stroke-width="0.85"/>
<rect x="54.67" y="260.30" width="1.5" height="1.5" fill="#3a3a3a"/>
<text x="43.60" y="349.20" font-size="7.3" textLength="10.20" lengthAdjust="spacingAndGlyphs" text-anchor="middle" fill="#1a1a1a" stroke="#1a1a1a" stroke-width="0.1">Pre</text>
<text x="58.60" y="349.20" font-size="7.3" textLength="8.90" lengthAdjust="spacingAndGlyphs" text-anchor="middle" fill="#1a1a1a" stroke="#1a1a1a" stroke-width="0.1">1st</text>
<text x="73.80" y="349.20" font-size="7.3" textLength="11.60" lengthAdjust="spacingAndGlyphs" text-anchor="middle" fill="#1a1a1a" stroke="#1a1a1a" stroke-width="0.1">2nd</text>
<line x1="91.50" y1="293.71" x2="137.40" y2="293.71" stroke="#d9d9d9" stroke-width="0.9"/>
<line x1="91.50" y1="311.60" x2="137.40" y2="311.60" stroke="#d9d9d9" stroke-width="0.9"/>
<path d="M101.3,335.1 L116.1,335.1 L130.8,335.1" fill="none" stroke="rgba(228,25,25,0.45)" stroke-width="0.55"/>
<path d="M101.2,335.1 L116.4,331.7 L131.6,330.5" fill="none" stroke="rgba(228,25,25,0.45)" stroke-width="0.55"/>
<path d="M101.0,335.1 L116.4,309.4 L131.0,335.1" fill="none" stroke="rgba(228,25,25,0.45)" stroke-width="0.55"/>
<path d="M100.6,332.2 L116.0,335.1 L131.3,335.1" fill="none" stroke="rgba(228,25,25,0.45)" stroke-width="0.55"/>
<path d="M101.3,325.3 L116.0,335.1 L131.6,280.2" fill="none" stroke="rgba(228,25,25,0.45)" stroke-width="0.55"/>
<path d="M101.2,335.1 L115.9,335.1 L131.9,335.1" fill="none" stroke="rgba(228,25,25,0.45)" stroke-width="0.55"/>
<path d="M102.0,335.1 L115.8,325.0 L131.7,299.0" fill="none" stroke="rgba(228,25,25,0.45)" stroke-width="0.55"/>
<path d="M101.7,332.2 L116.5,332.4 L130.6,299.0" fill="none" stroke="rgba(228,25,25,0.45)" stroke-width="0.55"/>
<path d="M100.7,331.6 L116.2,302.1 L130.8,300.5" fill="none" stroke="rgba(228,25,25,0.45)" stroke-width="0.55"/>
<path d="M101.0,330.7 L116.6,332.1 L131.7,321.4" fill="none" stroke="rgba(228,25,25,0.45)" stroke-width="0.55"/>
<path d="M101.4,332.7 L116.6,323.0 L132.0,315.6" fill="none" stroke="rgba(228,25,25,0.45)" stroke-width="0.55"/>
<path d="M101.9,330.2 L116.6,325.9 L131.8,297.4" fill="none" stroke="rgba(228,25,25,0.45)" stroke-width="0.55"/>
<path d="M101.8,329.1 L116.9,335.1 L131.9,335.1" fill="none" stroke="rgba(228,25,25,0.45)" stroke-width="0.55"/>
<path d="M100.9,328.5 L116.3,330.7 L131.3,300.6" fill="none" stroke="rgba(228,25,25,0.45)" stroke-width="0.55"/>
<path d="M101.7,325.8 L116.0,309.2 L130.8,297.1" fill="none" stroke="rgba(228,25,25,0.45)" stroke-width="0.55"/>
<path d="M101.4,331.3 L115.7,309.7 L132.0,298.9" fill="none" stroke="rgba(228,25,25,0.45)" stroke-width="0.55"/>
<path d="M101.2,328.3 L115.8,335.1 L131.7,305.6" fill="none" stroke="rgba(228,25,25,0.45)" stroke-width="0.55"/>
<path d="M101.6,330.2 L115.6,303.0 L131.4,285.7" fill="none" stroke="rgba(228,25,25,0.45)" stroke-width="0.55"/>
<path d="M100.7,332.5 L116.3,308.3 L131.1,298.6" fill="none" stroke="rgba(228,25,25,0.45)" stroke-width="0.55"/>
<path d="M100.8,320.9 L116.9,310.6 L131.7,292.1" fill="none" stroke="rgba(228,25,25,0.45)" stroke-width="0.55"/>
<path d="M102.0,325.9 L116.6,314.0 L131.2,292.2" fill="none" stroke="rgba(228,25,25,0.45)" stroke-width="0.55"/>
<path d="M101.8,328.3 L115.9,314.3 L131.3,296.8" fill="none" stroke="rgba(228,25,25,0.45)" stroke-width="0.55"/>
<path d="M100.6,326.9 L116.4,301.4 L131.0,293.0" fill="none" stroke="rgba(228,25,25,0.45)" stroke-width="0.55"/>
<path d="M101.3,331.7 L116.9,309.2 L130.8,295.7" fill="none" stroke="rgba(228,25,25,0.45)" stroke-width="0.55"/>
<path d="M101.4,331.5 L115.7,301.1 L130.8,288.8" fill="none" stroke="rgba(228,25,25,0.45)" stroke-width="0.55"/>
<path d="M101.5,321.6 L116.4,321.3 L130.9,295.9" fill="none" stroke="rgba(228,25,25,0.45)" stroke-width="0.55"/>
<path d="M100.7,323.3 L116.8,295.1 L131.4,298.9" fill="none" stroke="rgba(228,25,25,0.45)" stroke-width="0.55"/>
<path d="M100.8,322.1 L115.9,316.0 L131.0,285.4" fill="none" stroke="rgba(228,25,25,0.45)" stroke-width="0.55"/>
<path d="M101.7,315.8 L116.8,299.9 L131.5,297.2" fill="none" stroke="rgba(228,25,25,0.45)" stroke-width="0.55"/>
<path d="M101.7,327.7 L116.6,308.3 L130.9,287.0" fill="none" stroke="rgba(228,25,25,0.45)" stroke-width="0.55"/>
<path d="M101.4,321.9 L115.9,298.4 L131.9,291.3" fill="none" stroke="rgba(228,25,25,0.45)" stroke-width="0.55"/>
<path d="M101.6,323.2 L116.9,304.0 L130.7,288.2" fill="none" stroke="rgba(228,25,25,0.45)" stroke-width="0.55"/>
<path d="M101.2,327.9 L116.5,305.7 L131.0,288.4" fill="none" stroke="rgba(228,25,25,0.45)" stroke-width="0.55"/>
<path d="M101.1,323.8 L116.4,300.1 L131.0,284.4" fill="none" stroke="rgba(228,25,25,0.45)" stroke-width="0.55"/>
<path d="M101.5,316.5 L116.3,297.8 L130.9,276.0" fill="none" stroke="rgba(228,25,25,0.45)" stroke-width="0.55"/>
<path d="M101.7,315.9 L116.6,296.5 L131.6,292.0" fill="none" stroke="rgba(228,25,25,0.45)" stroke-width="0.55"/>
<path d="M101.0,321.3 L116.5,306.6 L130.8,274.9" fill="none" stroke="rgba(228,25,25,0.45)" stroke-width="0.55"/>
<path d="M100.9,316.9 L117.0,292.4 L131.2,284.9" fill="none" stroke="rgba(228,25,25,0.45)" stroke-width="0.55"/>
<path d="M101.7,323.6 L115.7,287.4 L131.8,300.7" fill="none" stroke="rgba(228,25,25,0.45)" stroke-width="0.55"/>
<path d="M101.4,318.5 L116.7,295.9 L130.6,287.4" fill="none" stroke="rgba(228,25,25,0.45)" stroke-width="0.55"/>
<path d="M101.0,319.6 L116.1,290.1 L130.7,288.5" fill="none" stroke="rgba(228,25,25,0.45)" stroke-width="0.55"/>
<path d="M100.8,317.1 L116.7,296.3 L131.7,285.4" fill="none" stroke="rgba(228,25,25,0.45)" stroke-width="0.55"/>
<path d="M101.1,311.2 L116.7,289.9 L131.0,275.2" fill="none" stroke="rgba(228,25,25,0.45)" stroke-width="0.55"/>
<path d="M101.5,318.5 L115.7,316.1 L130.9,286.2" fill="none" stroke="rgba(228,25,25,0.45)" stroke-width="0.55"/>
<path d="M100.8,320.2 L117.0,298.9 L131.4,285.3" fill="none" stroke="rgba(228,25,25,0.45)" stroke-width="0.55"/>
<path d="M101.4,310.0 L116.0,302.5 L131.1,287.5" fill="none" stroke="rgba(228,25,25,0.45)" stroke-width="0.55"/>
<path d="M100.9,306.7 L116.2,296.7 L131.2,276.6" fill="none" stroke="rgba(228,25,25,0.45)" stroke-width="0.55"/>
<path d="M101.7,309.1 L116.3,296.6 L130.9,274.8" fill="none" stroke="rgba(228,25,25,0.45)" stroke-width="0.55"/>
<path d="M101.7,316.9 L117.0,284.9 L131.6,277.6" fill="none" stroke="rgba(228,25,25,0.45)" stroke-width="0.55"/>
<path d="M101.2,312.9 L116.9,284.7 L131.0,278.0" fill="none" stroke="rgba(228,25,25,0.45)" stroke-width="0.55"/>
<path d="M101.4,304.7 L116.0,301.1 L131.3,275.0" fill="none" stroke="rgba(228,25,25,0.45)" stroke-width="0.55"/>
<path d="M100.7,304.9 L116.2,298.7 L131.0,275.4" fill="none" stroke="rgba(228,25,25,0.45)" stroke-width="0.55"/>
<path d="M101.2,310.2 L117.0,293.2 L131.8,274.9" fill="none" stroke="rgba(228,25,25,0.45)" stroke-width="0.55"/>
<path d="M101.2,305.0 L116.4,284.9 L131.8,277.9" fill="none" stroke="rgba(228,25,25,0.45)" stroke-width="0.55"/>
<path d="M101.8,307.5 L115.9,285.2 L132.0,274.8" fill="none" stroke="rgba(228,25,25,0.45)" stroke-width="0.55"/>
<path d="M101.30,292.00 L116.30,271.40 L131.30,271.40" fill="none" stroke="rgba(250,170,20,0.6)" stroke-width="0.6"/>
<circle cx="101.3" cy="335.1" r="0.8" fill="rgba(214,0,0,0.85)"/>
<circle cx="116.1" cy="335.1" r="0.8" fill="rgba(214,0,0,0.85)"/>
<circle cx="130.8" cy="335.1" r="0.8" fill="rgba(214,0,0,0.85)"/>
<circle cx="101.2" cy="335.1" r="0.8" fill="rgba(214,0,0,0.85)"/>
<circle cx="116.4" cy="331.7" r="0.8" fill="rgba(214,0,0,0.85)"/>
<circle cx="131.6" cy="330.5" r="0.8" fill="rgba(214,0,0,0.85)"/>
<circle cx="101.0" cy="335.1" r="0.8" fill="rgba(214,0,0,0.85)"/>
<circle cx="116.4" cy="309.4" r="0.8" fill="rgba(214,0,0,0.85)"/>
<circle cx="131.0" cy="335.1" r="0.8" fill="rgba(214,0,0,0.85)"/>
<circle cx="100.6" cy="332.2" r="0.8" fill="rgba(214,0,0,0.85)"/>
<circle cx="116.0" cy="335.1" r="0.8" fill="rgba(214,0,0,0.85)"/>
<circle cx="131.3" cy="335.1" r="0.8" fill="rgba(214,0,0,0.85)"/>
<circle cx="101.3" cy="325.3" r="0.8" fill="rgba(214,0,0,0.85)"/>
<circle cx="116.0" cy="335.1" r="0.8" fill="rgba(214,0,0,0.85)"/>
<circle cx="131.6" cy="280.2" r="0.8" fill="rgba(214,0,0,0.85)"/>
<circle cx="101.2" cy="335.1" r="0.8" fill="rgba(214,0,0,0.85)"/>
<circle cx="115.9" cy="335.1" r="0.8" fill="rgba(214,0,0,0.85)"/>
<circle cx="131.9" cy="335.1" r="0.8" fill="rgba(214,0,0,0.85)"/>
<circle cx="102.0" cy="335.1" r="0.8" fill="rgba(214,0,0,0.85)"/>
<circle cx="115.8" cy="325.0" r="0.8" fill="rgba(214,0,0,0.85)"/>
<circle cx="131.7" cy="299.0" r="0.8" fill="rgba(214,0,0,0.85)"/>
<circle cx="101.7" cy="332.2" r="0.8" fill="rgba(214,0,0,0.85)"/>
<circle cx="116.5" cy="332.4" r="0.8" fill="rgba(214,0,0,0.85)"/>
<circle cx="130.6" cy="299.0" r="0.8" fill="rgba(214,0,0,0.85)"/>
<circle cx="100.7" cy="331.6" r="0.8" fill="rgba(214,0,0,0.85)"/>
<circle cx="116.2" cy="302.1" r="0.8" fill="rgba(214,0,0,0.85)"/>
<circle cx="130.8" cy="300.5" r="0.8" fill="rgba(214,0,0,0.85)"/>
<circle cx="101.0" cy="330.7" r="0.8" fill="rgba(214,0,0,0.85)"/>
<circle cx="116.6" cy="332.1" r="0.8" fill="rgba(214,0,0,0.85)"/>
<circle cx="131.7" cy="321.4" r="0.8" fill="rgba(214,0,0,0.85)"/>
<circle cx="101.4" cy="332.7" r="0.8" fill="rgba(214,0,0,0.85)"/>
<circle cx="116.6" cy="323.0" r="0.8" fill="rgba(214,0,0,0.85)"/>
<circle cx="132.0" cy="315.6" r="0.8" fill="rgba(214,0,0,0.85)"/>
<circle cx="101.9" cy="330.2" r="0.8" fill="rgba(214,0,0,0.85)"/>
<circle cx="116.6" cy="325.9" r="0.8" fill="rgba(214,0,0,0.85)"/>
<circle cx="131.8" cy="297.4" r="0.8" fill="rgba(214,0,0,0.85)"/>
<circle cx="101.8" cy="329.1" r="0.8" fill="rgba(214,0,0,0.85)"/>
<circle cx="116.9" cy="335.1" r="0.8" fill="rgba(214,0,0,0.85)"/>
<circle cx="131.9" cy="335.1" r="0.8" fill="rgba(214,0,0,0.85)"/>
<circle cx="100.9" cy="328.5" r="0.8" fill="rgba(214,0,0,0.85)"/>
<circle cx="116.3" cy="330.7" r="0.8" fill="rgba(214,0,0,0.85)"/>
<circle cx="131.3" cy="300.6" r="0.8" fill="rgba(214,0,0,0.85)"/>
<circle cx="101.7" cy="325.8" r="0.8" fill="rgba(214,0,0,0.85)"/>
<circle cx="116.0" cy="309.2" r="0.8" fill="rgba(214,0,0,0.85)"/>
<circle cx="130.8" cy="297.1" r="0.8" fill="rgba(214,0,0,0.85)"/>
<circle cx="101.4" cy="331.3" r="0.8" fill="rgba(214,0,0,0.85)"/>
<circle cx="115.7" cy="309.7" r="0.8" fill="rgba(214,0,0,0.85)"/>
<circle cx="132.0" cy="298.9" r="0.8" fill="rgba(214,0,0,0.85)"/>
<circle cx="101.2" cy="328.3" r="0.8" fill="rgba(214,0,0,0.85)"/>
<circle cx="115.8" cy="335.1" r="0.8" fill="rgba(214,0,0,0.85)"/>
<circle cx="131.7" cy="305.6" r="0.8" fill="rgba(214,0,0,0.85)"/>
<circle cx="101.6" cy="330.2" r="0.8" fill="rgba(214,0,0,0.85)"/>
<circle cx="115.6" cy="303.0" r="0.8" fill="rgba(214,0,0,0.85)"/>
<circle cx="131.4" cy="285.7" r="0.8" fill="rgba(214,0,0,0.85)"/>
<circle cx="100.7" cy="332.5" r="0.8" fill="rgba(214,0,0,0.85)"/>
<circle cx="116.3" cy="308.3" r="0.8" fill="rgba(214,0,0,0.85)"/>
<circle cx="131.1" cy="298.6" r="0.8" fill="rgba(214,0,0,0.85)"/>
<circle cx="100.8" cy="320.9" r="0.8" fill="rgba(214,0,0,0.85)"/>
<circle cx="116.9" cy="310.6" r="0.8" fill="rgba(214,0,0,0.85)"/>
<circle cx="131.7" cy="292.1" r="0.8" fill="rgba(214,0,0,0.85)"/>
<circle cx="102.0" cy="325.9" r="0.8" fill="rgba(214,0,0,0.85)"/>
<circle cx="116.6" cy="314.0" r="0.8" fill="rgba(214,0,0,0.85)"/>
<circle cx="131.2" cy="292.2" r="0.8" fill="rgba(214,0,0,0.85)"/>
<circle cx="101.8" cy="328.3" r="0.8" fill="rgba(214,0,0,0.85)"/>
<circle cx="115.9" cy="314.3" r="0.8" fill="rgba(214,0,0,0.85)"/>
<circle cx="131.3" cy="296.8" r="0.8" fill="rgba(214,0,0,0.85)"/>
<circle cx="100.6" cy="326.9" r="0.8" fill="rgba(214,0,0,0.85)"/>
<circle cx="116.4" cy="301.4" r="0.8" fill="rgba(214,0,0,0.85)"/>
<circle cx="131.0" cy="293.0" r="0.8" fill="rgba(214,0,0,0.85)"/>
<circle cx="101.3" cy="331.7" r="0.8" fill="rgba(214,0,0,0.85)"/>
<circle cx="116.9" cy="309.2" r="0.8" fill="rgba(214,0,0,0.85)"/>
<circle cx="130.8" cy="295.7" r="0.8" fill="rgba(214,0,0,0.85)"/>
<circle cx="101.4" cy="331.5" r="0.8" fill="rgba(214,0,0,0.85)"/>
<circle cx="115.7" cy="301.1" r="0.8" fill="rgba(214,0,0,0.85)"/>
<circle cx="130.8" cy="288.8" r="0.8" fill="rgba(214,0,0,0.85)"/>
<circle cx="101.5" cy="321.6" r="0.8" fill="rgba(214,0,0,0.85)"/>
<circle cx="116.4" cy="321.3" r="0.8" fill="rgba(214,0,0,0.85)"/>
<circle cx="130.9" cy="295.9" r="0.8" fill="rgba(214,0,0,0.85)"/>
<circle cx="100.7" cy="323.3" r="0.8" fill="rgba(214,0,0,0.85)"/>
<circle cx="116.8" cy="295.1" r="0.8" fill="rgba(214,0,0,0.85)"/>
<circle cx="131.4" cy="298.9" r="0.8" fill="rgba(214,0,0,0.85)"/>
<circle cx="100.8" cy="322.1" r="0.8" fill="rgba(214,0,0,0.85)"/>
<circle cx="115.9" cy="316.0" r="0.8" fill="rgba(214,0,0,0.85)"/>
<circle cx="131.0" cy="285.4" r="0.8" fill="rgba(214,0,0,0.85)"/>
<circle cx="101.7" cy="315.8" r="0.8" fill="rgba(214,0,0,0.85)"/>
<circle cx="116.8" cy="299.9" r="0.8" fill="rgba(214,0,0,0.85)"/>
<circle cx="131.5" cy="297.2" r="0.8" fill="rgba(214,0,0,0.85)"/>
<circle cx="101.7" cy="327.7" r="0.8" fill="rgba(214,0,0,0.85)"/>
<circle cx="116.6" cy="308.3" r="0.8" fill="rgba(214,0,0,0.85)"/>
<circle cx="130.9" cy="287.0" r="0.8" fill="rgba(214,0,0,0.85)"/>
<circle cx="101.4" cy="321.9" r="0.8" fill="rgba(214,0,0,0.85)"/>
<circle cx="115.9" cy="298.4" r="0.8" fill="rgba(214,0,0,0.85)"/>
<circle cx="131.9" cy="291.3" r="0.8" fill="rgba(214,0,0,0.85)"/>
<circle cx="101.6" cy="323.2" r="0.8" fill="rgba(214,0,0,0.85)"/>
<circle cx="116.9" cy="304.0" r="0.8" fill="rgba(214,0,0,0.85)"/>
<circle cx="130.7" cy="288.2" r="0.8" fill="rgba(214,0,0,0.85)"/>
<circle cx="101.2" cy="327.9" r="0.8" fill="rgba(214,0,0,0.85)"/>
<circle cx="116.5" cy="305.7" r="0.8" fill="rgba(214,0,0,0.85)"/>
<circle cx="131.0" cy="288.4" r="0.8" fill="rgba(214,0,0,0.85)"/>
<circle cx="101.1" cy="323.8" r="0.8" fill="rgba(214,0,0,0.85)"/>
<circle cx="116.4" cy="300.1" r="0.8" fill="rgba(214,0,0,0.85)"/>
<circle cx="131.0" cy="284.4" r="0.8" fill="rgba(214,0,0,0.85)"/>
<circle cx="101.5" cy="316.5" r="0.8" fill="rgba(214,0,0,0.85)"/>
<circle cx="116.3" cy="297.8" r="0.8" fill="rgba(214,0,0,0.85)"/>
<circle cx="130.9" cy="276.0" r="0.8" fill="rgba(214,0,0,0.85)"/>
<circle cx="101.7" cy="315.9" r="0.8" fill="rgba(214,0,0,0.85)"/>
<circle cx="116.6" cy="296.5" r="0.8" fill="rgba(214,0,0,0.85)"/>
<circle cx="131.6" cy="292.0" r="0.8" fill="rgba(214,0,0,0.85)"/>
<circle cx="101.0" cy="321.3" r="0.8" fill="rgba(214,0,0,0.85)"/>
<circle cx="116.5" cy="306.6" r="0.8" fill="rgba(214,0,0,0.85)"/>
<circle cx="130.8" cy="274.9" r="0.8" fill="rgba(214,0,0,0.85)"/>
<circle cx="100.9" cy="316.9" r="0.8" fill="rgba(214,0,0,0.85)"/>
<circle cx="117.0" cy="292.4" r="0.8" fill="rgba(214,0,0,0.85)"/>
<circle cx="131.2" cy="284.9" r="0.8" fill="rgba(214,0,0,0.85)"/>
<circle cx="101.7" cy="323.6" r="0.8" fill="rgba(214,0,0,0.85)"/>
<circle cx="115.7" cy="287.4" r="0.8" fill="rgba(214,0,0,0.85)"/>
<circle cx="131.8" cy="300.7" r="0.8" fill="rgba(214,0,0,0.85)"/>
<circle cx="101.4" cy="318.5" r="0.8" fill="rgba(214,0,0,0.85)"/>
<circle cx="116.7" cy="295.9" r="0.8" fill="rgba(214,0,0,0.85)"/>
<circle cx="130.6" cy="287.4" r="0.8" fill="rgba(214,0,0,0.85)"/>
<circle cx="101.0" cy="319.6" r="0.8" fill="rgba(214,0,0,0.85)"/>
<circle cx="116.1" cy="290.1" r="0.8" fill="rgba(214,0,0,0.85)"/>
<circle cx="130.7" cy="288.5" r="0.8" fill="rgba(214,0,0,0.85)"/>
<circle cx="100.8" cy="317.1" r="0.8" fill="rgba(214,0,0,0.85)"/>
<circle cx="116.7" cy="296.3" r="0.8" fill="rgba(214,0,0,0.85)"/>
<circle cx="131.7" cy="285.4" r="0.8" fill="rgba(214,0,0,0.85)"/>
<circle cx="101.1" cy="311.2" r="0.8" fill="rgba(214,0,0,0.85)"/>
<circle cx="116.7" cy="289.9" r="0.8" fill="rgba(214,0,0,0.85)"/>
<circle cx="131.0" cy="275.2" r="0.8" fill="rgba(214,0,0,0.85)"/>
<circle cx="101.5" cy="318.5" r="0.8" fill="rgba(214,0,0,0.85)"/>
<circle cx="115.7" cy="316.1" r="0.8" fill="rgba(214,0,0,0.85)"/>
<circle cx="130.9" cy="286.2" r="0.8" fill="rgba(214,0,0,0.85)"/>
<circle cx="100.8" cy="320.2" r="0.8" fill="rgba(214,0,0,0.85)"/>
<circle cx="117.0" cy="298.9" r="0.8" fill="rgba(214,0,0,0.85)"/>
<circle cx="131.4" cy="285.3" r="0.8" fill="rgba(214,0,0,0.85)"/>
<circle cx="101.4" cy="310.0" r="0.8" fill="rgba(214,0,0,0.85)"/>
<circle cx="116.0" cy="302.5" r="0.8" fill="rgba(214,0,0,0.85)"/>
<circle cx="131.1" cy="287.5" r="0.8" fill="rgba(214,0,0,0.85)"/>
<circle cx="100.9" cy="306.7" r="0.8" fill="rgba(214,0,0,0.85)"/>
<circle cx="116.2" cy="296.7" r="0.8" fill="rgba(214,0,0,0.85)"/>
<circle cx="131.2" cy="276.6" r="0.8" fill="rgba(214,0,0,0.85)"/>
<circle cx="101.7" cy="309.1" r="0.8" fill="rgba(214,0,0,0.85)"/>
<circle cx="116.3" cy="296.6" r="0.8" fill="rgba(214,0,0,0.85)"/>
<circle cx="130.9" cy="274.8" r="0.8" fill="rgba(214,0,0,0.85)"/>
<circle cx="101.7" cy="316.9" r="0.8" fill="rgba(214,0,0,0.85)"/>
<circle cx="117.0" cy="284.9" r="0.8" fill="rgba(214,0,0,0.85)"/>
<circle cx="131.6" cy="277.6" r="0.8" fill="rgba(214,0,0,0.85)"/>
<circle cx="101.2" cy="312.9" r="0.8" fill="rgba(214,0,0,0.85)"/>
<circle cx="116.9" cy="284.7" r="0.8" fill="rgba(214,0,0,0.85)"/>
<circle cx="131.0" cy="278.0" r="0.8" fill="rgba(214,0,0,0.85)"/>
<circle cx="101.4" cy="304.7" r="0.8" fill="rgba(214,0,0,0.85)"/>
<circle cx="116.0" cy="301.1" r="0.8" fill="rgba(214,0,0,0.85)"/>
<circle cx="131.3" cy="275.0" r="0.8" fill="rgba(214,0,0,0.85)"/>
<circle cx="100.7" cy="304.9" r="0.8" fill="rgba(214,0,0,0.85)"/>
<circle cx="116.2" cy="298.7" r="0.8" fill="rgba(214,0,0,0.85)"/>
<circle cx="131.0" cy="275.4" r="0.8" fill="rgba(214,0,0,0.85)"/>
<circle cx="101.2" cy="310.2" r="0.8" fill="rgba(214,0,0,0.85)"/>
<circle cx="117.0" cy="293.2" r="0.8" fill="rgba(214,0,0,0.85)"/>
<circle cx="131.8" cy="274.9" r="0.8" fill="rgba(214,0,0,0.85)"/>
<circle cx="101.2" cy="305.0" r="0.8" fill="rgba(214,0,0,0.85)"/>
<circle cx="116.4" cy="284.9" r="0.8" fill="rgba(214,0,0,0.85)"/>
<circle cx="131.8" cy="277.9" r="0.8" fill="rgba(214,0,0,0.85)"/>
<circle cx="101.8" cy="307.5" r="0.8" fill="rgba(214,0,0,0.85)"/>
<circle cx="115.9" cy="285.2" r="0.8" fill="rgba(214,0,0,0.85)"/>
<circle cx="132.0" cy="274.8" r="0.8" fill="rgba(214,0,0,0.85)"/>
<rect x="100.55" y="291.30" width="1.5" height="1.4" fill="rgba(245,160,0,0.9)"/>
<rect x="115.55" y="270.70" width="1.5" height="1.4" fill="rgba(245,160,0,0.9)"/>
<rect x="130.55" y="270.70" width="1.5" height="1.4" fill="rgba(245,160,0,0.9)"/>
<path d="M101.30,327.00 L116.30,306.00 L131.30,290.00" fill="none" stroke="#d20000" stroke-width="1.35" stroke-linejoin="round"/>
<path d="M101.30,293.60 L116.30,279.20 L131.30,271.40" fill="none" stroke="#f7a500" stroke-width="1.35" stroke-linejoin="round"/>
<rect x="100.50" y="292.85" width="1.6" height="1.5" fill="#f5a000"/>
<rect x="115.50" y="278.45" width="1.6" height="1.5" fill="#f5a000"/>
<rect x="130.50" y="270.65" width="1.6" height="1.5" fill="#f5a000"/>
<line x1="91.50" y1="260.28" x2="91.50" y2="338.60" stroke="#111" stroke-width="1.25"/>
<line x1="88.30" y1="263.88" x2="91.50" y2="263.88" stroke="#111" stroke-width="0.9"/>
<line x1="88.30" y1="275.81" x2="91.50" y2="275.81" stroke="#111" stroke-width="0.9"/>
<line x1="88.30" y1="287.74" x2="91.50" y2="287.74" stroke="#111" stroke-width="0.9"/>
<line x1="88.30" y1="293.71" x2="91.50" y2="293.71" stroke="#111" stroke-width="0.9"/>
<line x1="88.30" y1="299.67" x2="91.50" y2="299.67" stroke="#111" stroke-width="0.9"/>
<line x1="88.30" y1="311.60" x2="91.50" y2="311.60" stroke="#111" stroke-width="0.9"/>
<line x1="88.30" y1="338.00" x2="91.50" y2="338.00" stroke="#111" stroke-width="0.9"/>
<line x1="88.30" y1="338.00" x2="137.40" y2="338.00" stroke="#111" stroke-width="1.1"/>
<line x1="101.30" y1="338.00" x2="101.30" y2="341.00" stroke="#111" stroke-width="0.8"/>
<line x1="116.30" y1="338.00" x2="116.30" y2="341.00" stroke="#111" stroke-width="0.8"/>
<line x1="131.30" y1="338.00" x2="131.30" y2="341.00" stroke="#111" stroke-width="0.8"/>
<path d="M94.25,258.50 V257.10 Q94.25,256.70 94.65,256.70 H111.33 Q111.73,256.70 111.73,257.10 V258.50" fill="none" stroke="#383838" stroke-width="0.85"/>
<path d="M113.98,258.50 V257.10 Q113.98,256.70 114.38,256.70 H131.00 Q131.40,256.70 131.40,257.10 V258.50" fill="none" stroke="#383838" stroke-width="0.85"/>
<rect x="102.29" y="252.40" width="1.5" height="1.5" fill="#3a3a3a"/>
<rect x="121.99" y="252.40" width="1.5" height="1.5" fill="#3a3a3a"/>
<path d="M94.25,264.90 V263.50 Q94.25,263.10 94.65,263.10 H131.00 Q131.40,263.10 131.40,263.50 V264.90" fill="none" stroke="#383838" stroke-width="0.85"/>
<rect x="112.12" y="260.30" width="1.5" height="1.5" fill="#3a3a3a"/>
<text x="101.30" y="349.20" font-size="7.3" textLength="10.20" lengthAdjust="spacingAndGlyphs" text-anchor="middle" fill="#1a1a1a" stroke="#1a1a1a" stroke-width="0.1">Pre</text>
<text x="116.30" y="349.20" font-size="7.3" textLength="8.90" lengthAdjust="spacingAndGlyphs" text-anchor="middle" fill="#1a1a1a" stroke="#1a1a1a" stroke-width="0.1">1st</text>
<text x="131.30" y="349.20" font-size="7.3" textLength="11.60" lengthAdjust="spacingAndGlyphs" text-anchor="middle" fill="#1a1a1a" stroke="#1a1a1a" stroke-width="0.1">2nd</text>
<line x1="177.60" y1="293.71" x2="223.50" y2="293.71" stroke="#d9d9d9" stroke-width="0.9"/>
<line x1="177.60" y1="311.60" x2="223.50" y2="311.60" stroke="#d9d9d9" stroke-width="0.9"/>
<path d="M187.9,335.1 L202.4,335.1 L217.2,335.1" fill="none" stroke="rgba(228,25,25,0.45)" stroke-width="0.55"/>
<path d="M186.9,335.1 L203.0,335.1 L217.2,335.1" fill="none" stroke="rgba(228,25,25,0.45)" stroke-width="0.55"/>
<path d="M187.4,335.1 L202.1,335.1 L217.1,335.1" fill="none" stroke="rgba(228,25,25,0.45)" stroke-width="0.55"/>
<path d="M187.3,335.1 L202.9,335.1 L217.1,335.1" fill="none" stroke="rgba(228,25,25,0.45)" stroke-width="0.55"/>
<path d="M186.7,335.1 L203.2,335.1 L217.6,335.1" fill="none" stroke="rgba(228,25,25,0.45)" stroke-width="0.55"/>
<path d="M187.4,335.1 L202.8,319.4 L218.4,335.1" fill="none" stroke="rgba(228,25,25,0.45)" stroke-width="0.55"/>
<path d="M187.9,335.1 L203.1,335.1 L217.3,335.1" fill="none" stroke="rgba(228,25,25,0.45)" stroke-width="0.55"/>
<path d="M187.6,335.1 L203.1,330.3 L218.1,335.1" fill="none" stroke="rgba(228,25,25,0.45)" stroke-width="0.55"/>
<path d="M187.8,335.1 L202.9,335.1 L218.0,335.1" fill="none" stroke="rgba(228,25,25,0.45)" stroke-width="0.55"/>
<path d="M186.6,335.1 L202.4,317.7 L217.4,323.5" fill="none" stroke="rgba(228,25,25,0.45)" stroke-width="0.55"/>
<path d="M187.7,335.1 L203.1,335.1 L217.7,325.4" fill="none" stroke="rgba(228,25,25,0.45)" stroke-width="0.55"/>
<path d="M186.7,324.8 L202.0,335.1 L218.1,324.6" fill="none" stroke="rgba(228,25,25,0.45)" stroke-width="0.55"/>
<path d="M187.2,323.8 L202.9,324.0 L217.7,311.0" fill="none" stroke="rgba(228,25,25,0.45)" stroke-width="0.55"/>
<path d="M187.6,335.1 L202.2,323.3 L217.2,320.4" fill="none" stroke="rgba(228,25,25,0.45)" stroke-width="0.55"/>
<path d="M187.0,331.6 L202.2,324.6 L218.2,316.9" fill="none" stroke="rgba(228,25,25,0.45)" stroke-width="0.55"/>
<path d="M186.9,326.6 L203.0,322.9 L218.0,326.1" fill="none" stroke="rgba(228,25,25,0.45)" stroke-width="0.55"/>
<path d="M187.0,328.1 L203.0,320.9 L218.4,313.3" fill="none" stroke="rgba(228,25,25,0.45)" stroke-width="0.55"/>
<path d="M187.7,326.4 L202.7,335.1 L218.4,308.2" fill="none" stroke="rgba(228,25,25,0.45)" stroke-width="0.55"/>
<path d="M187.2,328.7 L202.4,325.2 L217.9,303.9" fill="none" stroke="rgba(228,25,25,0.45)" stroke-width="0.55"/>
<path d="M187.6,330.2 L203.1,330.8 L217.4,310.3" fill="none" stroke="rgba(228,25,25,0.45)" stroke-width="0.55"/>
<path d="M187.1,324.4 L202.4,319.2 L217.5,307.3" fill="none" stroke="rgba(228,25,25,0.45)" stroke-width="0.55"/>
<path d="M186.7,318.5 L202.2,326.5 L218.3,301.8" fill="none" stroke="rgba(228,25,25,0.45)" stroke-width="0.55"/>
<path d="M187.0,317.9 L202.9,322.3 L218.0,312.1" fill="none" stroke="rgba(228,25,25,0.45)" stroke-width="0.55"/>
<path d="M187.3,321.8 L202.3,317.4 L218.0,279.9" fill="none" stroke="rgba(228,25,25,0.45)" stroke-width="0.55"/>
<path d="M187.3,317.4 L203.3,335.1 L218.4,299.2" fill="none" stroke="rgba(228,25,25,0.45)" stroke-width="0.55"/>
<path d="M187.7,319.1 L202.7,309.1 L218.2,288.0" fill="none" stroke="rgba(228,25,25,0.45)" stroke-width="0.55"/>
<path d="M187.7,316.9 L203.0,317.5 L217.6,303.4" fill="none" stroke="rgba(228,25,25,0.45)" stroke-width="0.55"/>
<path d="M187.7,319.8 L202.9,310.4 L218.3,293.8" fill="none" stroke="rgba(228,25,25,0.45)" stroke-width="0.55"/>
<path d="M187.5,316.4 L203.0,310.7 L217.7,294.4" fill="none" stroke="rgba(228,25,25,0.45)" stroke-width="0.55"/>
<path d="M187.3,315.1 L202.1,300.9 L217.2,286.1" fill="none" stroke="rgba(228,25,25,0.45)" stroke-width="0.55"/>
<path d="M187.3,310.0 L202.8,335.1 L218.3,310.5" fill="none" stroke="rgba(228,25,25,0.45)" stroke-width="0.55"/>
<path d="M186.8,314.3 L202.4,312.1 L217.9,280.1" fill="none" stroke="rgba(228,25,25,0.45)" stroke-width="0.55"/>
<path d="M187.0,322.0 L203.3,290.0 L217.1,273.0" fill="none" stroke="rgba(228,25,25,0.45)" stroke-width="0.55"/>
<path d="M187.9,328.0 L203.2,300.0 L218.2,276.0" fill="none" stroke="rgba(228,25,25,0.45)" stroke-width="0.55"/>
<path d="M187.8,334.9 L202.4,306.0 L217.6,283.0" fill="none" stroke="rgba(228,25,25,0.45)" stroke-width="0.55"/>
<path d="M187.30,283.20 L202.60,270.20 L217.70,266.40" fill="none" stroke="rgba(250,170,20,0.6)" stroke-width="0.6"/>
<path d="M187.30,289.40" fill="none" stroke="rgba(250,170,20,0.6)" stroke-width="0.6"/>
<circle cx="187.9" cy="335.1" r="0.8" fill="rgba(214,0,0,0.85)"/>
<circle cx="202.4" cy="335.1" r="0.8" fill="rgba(214,0,0,0.85)"/>
<circle cx="217.2" cy="335.1" r="0.8" fill="rgba(214,0,0,0.85)"/>
<circle cx="186.9" cy="335.1" r="0.8" fill="rgba(214,0,0,0.85)"/>
<circle cx="203.0" cy="335.1" r="0.8" fill="rgba(214,0,0,0.85)"/>
<circle cx="217.2" cy="335.1" r="0.8" fill="rgba(214,0,0,0.85)"/>
<circle cx="187.4" cy="335.1" r="0.8" fill="rgba(214,0,0,0.85)"/>
<circle cx="202.1" cy="335.1" r="0.8" fill="rgba(214,0,0,0.85)"/>
<circle cx="217.1" cy="335.1" r="0.8" fill="rgba(214,0,0,0.85)"/>
<circle cx="187.3" cy="335.1" r="0.8" fill="rgba(214,0,0,0.85)"/>
<circle cx="202.9" cy="335.1" r="0.8" fill="rgba(214,0,0,0.85)"/>
<circle cx="217.1" cy="335.1" r="0.8" fill="rgba(214,0,0,0.85)"/>
<circle cx="186.7" cy="335.1" r="0.8" fill="rgba(214,0,0,0.85)"/>
<circle cx="203.2" cy="335.1" r="0.8" fill="rgba(214,0,0,0.85)"/>
<circle cx="217.6" cy="335.1" r="0.8" fill="rgba(214,0,0,0.85)"/>
<circle cx="187.4" cy="335.1" r="0.8" fill="rgba(214,0,0,0.85)"/>
<circle cx="202.8" cy="319.4" r="0.8" fill="rgba(214,0,0,0.85)"/>
<circle cx="218.4" cy="335.1" r="0.8" fill="rgba(214,0,0,0.85)"/>
<circle cx="187.9" cy="335.1" r="0.8" fill="rgba(214,0,0,0.85)"/>
<circle cx="203.1" cy="335.1" r="0.8" fill="rgba(214,0,0,0.85)"/>
<circle cx="217.3" cy="335.1" r="0.8" fill="rgba(214,0,0,0.85)"/>
<circle cx="187.6" cy="335.1" r="0.8" fill="rgba(214,0,0,0.85)"/>
<circle cx="203.1" cy="330.3" r="0.8" fill="rgba(214,0,0,0.85)"/>
<circle cx="218.1" cy="335.1" r="0.8" fill="rgba(214,0,0,0.85)"/>
<circle cx="187.8" cy="335.1" r="0.8" fill="rgba(214,0,0,0.85)"/>
<circle cx="202.9" cy="335.1" r="0.8" fill="rgba(214,0,0,0.85)"/>
<circle cx="218.0" cy="335.1" r="0.8" fill="rgba(214,0,0,0.85)"/>
<circle cx="186.6" cy="335.1" r="0.8" fill="rgba(214,0,0,0.85)"/>
<circle cx="202.4" cy="317.7" r="0.8" fill="rgba(214,0,0,0.85)"/>
<circle cx="217.4" cy="323.5" r="0.8" fill="rgba(214,0,0,0.85)"/>
<circle cx="187.7" cy="335.1" r="0.8" fill="rgba(214,0,0,0.85)"/>
<circle cx="203.1" cy="335.1" r="0.8" fill="rgba(214,0,0,0.85)"/>
<circle cx="217.7" cy="325.4" r="0.8" fill="rgba(214,0,0,0.85)"/>
<circle cx="186.7" cy="324.8" r="0.8" fill="rgba(214,0,0,0.85)"/>
<circle cx="202.0" cy="335.1" r="0.8" fill="rgba(214,0,0,0.85)"/>
<circle cx="218.1" cy="324.6" r="0.8" fill="rgba(214,0,0,0.85)"/>
<circle cx="187.2" cy="323.8" r="0.8" fill="rgba(214,0,0,0.85)"/>
<circle cx="202.9" cy="324.0" r="0.8" fill="rgba(214,0,0,0.85)"/>
<circle cx="217.7" cy="311.0" r="0.8" fill="rgba(214,0,0,0.85)"/>
<circle cx="187.6" cy="335.1" r="0.8" fill="rgba(214,0,0,0.85)"/>
<circle cx="202.2" cy="323.3" r="0.8" fill="rgba(214,0,0,0.85)"/>
<circle cx="217.2" cy="320.4" r="0.8" fill="rgba(214,0,0,0.85)"/>
<circle cx="187.0" cy="331.6" r="0.8" fill="rgba(214,0,0,0.85)"/>
<circle cx="202.2" cy="324.6" r="0.8" fill="rgba(214,0,0,0.85)"/>
<circle cx="218.2" cy="316.9" r="0.8" fill="rgba(214,0,0,0.85)"/>
<circle cx="186.9" cy="326.6" r="0.8" fill="rgba(214,0,0,0.85)"/>
<circle cx="203.0" cy="322.9" r="0.8" fill="rgba(214,0,0,0.85)"/>
<circle cx="218.0" cy="326.1" r="0.8" fill="rgba(214,0,0,0.85)"/>
<circle cx="187.0" cy="328.1" r="0.8" fill="rgba(214,0,0,0.85)"/>
<circle cx="203.0" cy="320.9" r="0.8" fill="rgba(214,0,0,0.85)"/>
<circle cx="218.4" cy="313.3" r="0.8" fill="rgba(214,0,0,0.85)"/>
<circle cx="187.7" cy="326.4" r="0.8" fill="rgba(214,0,0,0.85)"/>
<circle cx="202.7" cy="335.1" r="0.8" fill="rgba(214,0,0,0.85)"/>
<circle cx="218.4" cy="308.2" r="0.8" fill="rgba(214,0,0,0.85)"/>
<circle cx="187.2" cy="328.7" r="0.8" fill="rgba(214,0,0,0.85)"/>
<circle cx="202.4" cy="325.2" r="0.8" fill="rgba(214,0,0,0.85)"/>
<circle cx="217.9" cy="303.9" r="0.8" fill="rgba(214,0,0,0.85)"/>
<circle cx="187.6" cy="330.2" r="0.8" fill="rgba(214,0,0,0.85)"/>
<circle cx="203.1" cy="330.8" r="0.8" fill="rgba(214,0,0,0.85)"/>
<circle cx="217.4" cy="310.3" r="0.8" fill="rgba(214,0,0,0.85)"/>
<circle cx="187.1" cy="324.4" r="0.8" fill="rgba(214,0,0,0.85)"/>
<circle cx="202.4" cy="319.2" r="0.8" fill="rgba(214,0,0,0.85)"/>
<circle cx="217.5" cy="307.3" r="0.8" fill="rgba(214,0,0,0.85)"/>
<circle cx="186.7" cy="318.5" r="0.8" fill="rgba(214,0,0,0.85)"/>
<circle cx="202.2" cy="326.5" r="0.8" fill="rgba(214,0,0,0.85)"/>
<circle cx="218.3" cy="301.8" r="0.8" fill="rgba(214,0,0,0.85)"/>
<circle cx="187.0" cy="317.9" r="0.8" fill="rgba(214,0,0,0.85)"/>
<circle cx="202.9" cy="322.3" r="0.8" fill="rgba(214,0,0,0.85)"/>
<circle cx="218.0" cy="312.1" r="0.8" fill="rgba(214,0,0,0.85)"/>
<circle cx="187.3" cy="321.8" r="0.8" fill="rgba(214,0,0,0.85)"/>
<circle cx="202.3" cy="317.4" r="0.8" fill="rgba(214,0,0,0.85)"/>
<circle cx="218.0" cy="279.9" r="0.8" fill="rgba(214,0,0,0.85)"/>
<circle cx="187.3" cy="317.4" r="0.8" fill="rgba(214,0,0,0.85)"/>
<circle cx="203.3" cy="335.1" r="0.8" fill="rgba(214,0,0,0.85)"/>
<circle cx="218.4" cy="299.2" r="0.8" fill="rgba(214,0,0,0.85)"/>
<circle cx="187.7" cy="319.1" r="0.8" fill="rgba(214,0,0,0.85)"/>
<circle cx="202.7" cy="309.1" r="0.8" fill="rgba(214,0,0,0.85)"/>
<circle cx="218.2" cy="288.0" r="0.8" fill="rgba(214,0,0,0.85)"/>
<circle cx="187.7" cy="316.9" r="0.8" fill="rgba(214,0,0,0.85)"/>
<circle cx="203.0" cy="317.5" r="0.8" fill="rgba(214,0,0,0.85)"/>
<circle cx="217.6" cy="303.4" r="0.8" fill="rgba(214,0,0,0.85)"/>
<circle cx="187.7" cy="319.8" r="0.8" fill="rgba(214,0,0,0.85)"/>
<circle cx="202.9" cy="310.4" r="0.8" fill="rgba(214,0,0,0.85)"/>
<circle cx="218.3" cy="293.8" r="0.8" fill="rgba(214,0,0,0.85)"/>
<circle cx="187.5" cy="316.4" r="0.8" fill="rgba(214,0,0,0.85)"/>
<circle cx="203.0" cy="310.7" r="0.8" fill="rgba(214,0,0,0.85)"/>
<circle cx="217.7" cy="294.4" r="0.8" fill="rgba(214,0,0,0.85)"/>
<circle cx="187.3" cy="315.1" r="0.8" fill="rgba(214,0,0,0.85)"/>
<circle cx="202.1" cy="300.9" r="0.8" fill="rgba(214,0,0,0.85)"/>
<circle cx="217.2" cy="286.1" r="0.8" fill="rgba(214,0,0,0.85)"/>
<circle cx="187.3" cy="310.0" r="0.8" fill="rgba(214,0,0,0.85)"/>
<circle cx="202.8" cy="335.1" r="0.8" fill="rgba(214,0,0,0.85)"/>
<circle cx="218.3" cy="310.5" r="0.8" fill="rgba(214,0,0,0.85)"/>
<circle cx="186.8" cy="314.3" r="0.8" fill="rgba(214,0,0,0.85)"/>
<circle cx="202.4" cy="312.1" r="0.8" fill="rgba(214,0,0,0.85)"/>
<circle cx="217.9" cy="280.1" r="0.8" fill="rgba(214,0,0,0.85)"/>
<circle cx="187.0" cy="322.0" r="0.8" fill="rgba(214,0,0,0.85)"/>
<circle cx="203.3" cy="290.0" r="0.8" fill="rgba(214,0,0,0.85)"/>
<circle cx="217.1" cy="273.0" r="0.8" fill="rgba(214,0,0,0.85)"/>
<circle cx="187.9" cy="328.0" r="0.8" fill="rgba(214,0,0,0.85)"/>
<circle cx="203.2" cy="300.0" r="0.8" fill="rgba(214,0,0,0.85)"/>
<circle cx="218.2" cy="276.0" r="0.8" fill="rgba(214,0,0,0.85)"/>
<circle cx="187.8" cy="334.9" r="0.8" fill="rgba(214,0,0,0.85)"/>
<circle cx="202.4" cy="306.0" r="0.8" fill="rgba(214,0,0,0.85)"/>
<circle cx="217.6" cy="283.0" r="0.8" fill="rgba(214,0,0,0.85)"/>
<rect x="186.55" y="282.50" width="1.5" height="1.4" fill="rgba(245,160,0,0.9)"/>
<rect x="201.85" y="269.50" width="1.5" height="1.4" fill="rgba(245,160,0,0.9)"/>
<rect x="216.95" y="265.70" width="1.5" height="1.4" fill="rgba(245,160,0,0.9)"/>
<rect x="186.55" y="288.70" width="1.5" height="1.4" fill="rgba(245,160,0,0.9)"/>
<path d="M187.30,335.10 L202.60,335.10 L217.70,335.10" fill="none" stroke="#d20000" stroke-width="1.35" stroke-linejoin="round"/>
<path d="M187.30,285.30 L202.60,270.20 L217.70,266.40" fill="none" stroke="#f7a500" stroke-width="1.35" stroke-linejoin="round"/>
<rect x="186.50" y="284.55" width="1.6" height="1.5" fill="#f5a000"/>
<rect x="201.80" y="269.45" width="1.6" height="1.5" fill="#f5a000"/>
<rect x="216.90" y="265.65" width="1.6" height="1.5" fill="#f5a000"/>
<line x1="177.60" y1="260.28" x2="177.60" y2="338.60" stroke="#111" stroke-width="1.25"/>
<line x1="174.40" y1="263.88" x2="177.60" y2="263.88" stroke="#111" stroke-width="0.9"/>
<line x1="174.40" y1="275.81" x2="177.60" y2="275.81" stroke="#111" stroke-width="0.9"/>
<line x1="174.40" y1="287.74" x2="177.60" y2="287.74" stroke="#111" stroke-width="0.9"/>
<line x1="174.40" y1="293.71" x2="177.60" y2="293.71" stroke="#111" stroke-width="0.9"/>
<line x1="174.40" y1="299.67" x2="177.60" y2="299.67" stroke="#111" stroke-width="0.9"/>
<line x1="174.40" y1="311.60" x2="177.60" y2="311.60" stroke="#111" stroke-width="0.9"/>
<line x1="174.40" y1="338.00" x2="177.60" y2="338.00" stroke="#111" stroke-width="0.9"/>
<line x1="174.40" y1="338.00" x2="223.50" y2="338.00" stroke="#111" stroke-width="1.1"/>
<line x1="187.30" y1="338.00" x2="187.30" y2="341.00" stroke="#111" stroke-width="0.8"/>
<line x1="202.60" y1="338.00" x2="202.60" y2="341.00" stroke="#111" stroke-width="0.8"/>
<line x1="217.70" y1="338.00" x2="217.70" y2="341.00" stroke="#111" stroke-width="0.8"/>
<path d="M200.10,258.50 V257.10 Q200.10,256.70 200.50,256.70 H217.20 Q217.60,256.70 217.60,257.10 V258.50" fill="none" stroke="#383838" stroke-width="0.85"/>
<rect x="208.15" y="254.20" width="1.5" height="1.5" fill="#3a3a3a"/>
<path d="M180.50,264.90 V263.50 Q180.50,263.10 180.90,263.10 H217.20 Q217.60,263.10 217.60,263.50 V264.90" fill="none" stroke="#383838" stroke-width="0.85"/>
<rect x="198.35" y="259.60" width="1.5" height="1.5" fill="#3a3a3a"/>
<text x="187.30" y="349.20" font-size="7.3" textLength="10.20" lengthAdjust="spacingAndGlyphs" text-anchor="middle" fill="#1a1a1a" stroke="#1a1a1a" stroke-width="0.1">Pre</text>
<text x="202.60" y="349.20" font-size="7.3" textLength="8.90" lengthAdjust="spacingAndGlyphs" text-anchor="middle" fill="#1a1a1a" stroke="#1a1a1a" stroke-width="0.1">1st</text>
<text x="217.70" y="349.20" font-size="7.3" textLength="11.60" lengthAdjust="spacingAndGlyphs" text-anchor="middle" fill="#1a1a1a" stroke="#1a1a1a" stroke-width="0.1">2nd</text>
<text x="20.90" y="35.00" font-size="6.4" textLength="7.20" lengthAdjust="spacingAndGlyphs" text-anchor="start" fill="#1a1a1a" stroke="#1a1a1a" stroke-width="0.12">10</text>
<text x="28.30" y="32.75" font-size="4.3" textLength="2.10" lengthAdjust="spacingAndGlyphs" text-anchor="start" fill="#1a1a1a" stroke="#1a1a1a" stroke-width="0.1">5</text>
<text x="20.90" y="46.95" font-size="6.4" textLength="7.20" lengthAdjust="spacingAndGlyphs" text-anchor="start" fill="#1a1a1a" stroke="#1a1a1a" stroke-width="0.12">10</text>
<text x="28.30" y="44.70" font-size="4.3" textLength="2.10" lengthAdjust="spacingAndGlyphs" text-anchor="start" fill="#1a1a1a" stroke="#1a1a1a" stroke-width="0.1">4</text>
<text x="20.90" y="58.90" font-size="6.4" textLength="7.20" lengthAdjust="spacingAndGlyphs" text-anchor="start" fill="#1a1a1a" stroke="#1a1a1a" stroke-width="0.12">10</text>
<text x="28.30" y="56.65" font-size="4.3" textLength="2.10" lengthAdjust="spacingAndGlyphs" text-anchor="start" fill="#1a1a1a" stroke="#1a1a1a" stroke-width="0.1">3</text>
<text x="20.90" y="70.85" font-size="6.4" textLength="7.20" lengthAdjust="spacingAndGlyphs" text-anchor="start" fill="#1a1a1a" stroke="#1a1a1a" stroke-width="0.12">10</text>
<text x="28.30" y="68.60" font-size="4.3" textLength="2.10" lengthAdjust="spacingAndGlyphs" text-anchor="start" fill="#1a1a1a" stroke="#1a1a1a" stroke-width="0.1">2</text>
<text x="21.10" y="82.80" font-size="6.4" textLength="7.30" lengthAdjust="spacingAndGlyphs" text-anchor="start" fill="#1a1a1a" stroke="#1a1a1a" stroke-width="0.12">10</text>
<text x="24.70" y="109.55" font-size="6.4" text-anchor="start" fill="#1a1a1a" stroke="#1a1a1a" stroke-width="0.12">1</text>
<text x="0" y="0" font-size="8.3" font-family="Liberation Sans, sans-serif" textLength="47.2" lengthAdjust="spacingAndGlyphs" text-anchor="middle" fill="#1a1a1a" stroke="#1a1a1a" stroke-width="0.35" transform="translate(14.3,68.20) rotate(-90)">S1 IgG (BAU/ml)</text>
<text x="20.90" y="151.15" font-size="6.4" textLength="7.20" lengthAdjust="spacingAndGlyphs" text-anchor="start" fill="#1a1a1a" stroke="#1a1a1a" stroke-width="0.12">10</text>
<text x="28.30" y="148.90" font-size="4.3" textLength="2.10" lengthAdjust="spacingAndGlyphs" text-anchor="start" fill="#1a1a1a" stroke="#1a1a1a" stroke-width="0.1">5</text>
<text x="20.90" y="163.05" font-size="6.4" textLength="7.20" lengthAdjust="spacingAndGlyphs" text-anchor="start" fill="#1a1a1a" stroke="#1a1a1a" stroke-width="0.12">10</text>
<text x="28.30" y="160.80" font-size="4.3" textLength="2.10" lengthAdjust="spacingAndGlyphs" text-anchor="start" fill="#1a1a1a" stroke="#1a1a1a" stroke-width="0.1">4</text>
<text x="20.90" y="174.95" font-size="6.4" textLength="7.20" lengthAdjust="spacingAndGlyphs" text-anchor="start" fill="#1a1a1a" stroke="#1a1a1a" stroke-width="0.12">10</text>
<text x="28.30" y="172.70" font-size="4.3" textLength="2.10" lengthAdjust="spacingAndGlyphs" text-anchor="start" fill="#1a1a1a" stroke="#1a1a1a" stroke-width="0.1">3</text>
<text x="20.90" y="186.85" font-size="6.4" textLength="7.20" lengthAdjust="spacingAndGlyphs" text-anchor="start" fill="#1a1a1a" stroke="#1a1a1a" stroke-width="0.12">10</text>
<text x="28.30" y="184.60" font-size="4.3" textLength="2.10" lengthAdjust="spacingAndGlyphs" text-anchor="start" fill="#1a1a1a" stroke="#1a1a1a" stroke-width="0.1">2</text>
<text x="21.10" y="198.75" font-size="6.4" textLength="7.30" lengthAdjust="spacingAndGlyphs" text-anchor="start" fill="#1a1a1a" stroke="#1a1a1a" stroke-width="0.12">10</text>
<text x="24.70" y="224.70" font-size="6.4" text-anchor="start" fill="#1a1a1a" stroke="#1a1a1a" stroke-width="0.12">1</text>
<text x="0" y="0" font-size="8.3" font-family="Liberation Sans, sans-serif" textLength="47.2" lengthAdjust="spacingAndGlyphs" text-anchor="middle" fill="#1a1a1a" stroke="#1a1a1a" stroke-width="0.35" transform="translate(14.3,183.80) rotate(-90)">S1 IgG (BAU/ml)</text>
<text x="20.90" y="266.13" font-size="6.4" textLength="7.20" lengthAdjust="spacingAndGlyphs" text-anchor="start" fill="#1a1a1a" stroke="#1a1a1a" stroke-width="0.12">10</text>
<text x="28.30" y="263.88" font-size="4.3" textLength="2.10" lengthAdjust="spacingAndGlyphs" text-anchor="start" fill="#1a1a1a" stroke="#1a1a1a" stroke-width="0.1">5</text>
<text x="20.90" y="278.06" font-size="6.4" textLength="7.20" lengthAdjust="spacingAndGlyphs" text-anchor="start" fill="#1a1a1a" stroke="#1a1a1a" stroke-width="0.12">10</text>
<text x="28.30" y="275.81" font-size="4.3" textLength="2.10" lengthAdjust="spacingAndGlyphs" text-anchor="start" fill="#1a1a1a" stroke="#1a1a1a" stroke-width="0.1">4</text>
<text x="20.90" y="289.99" font-size="6.4" textLength="7.20" lengthAdjust="spacingAndGlyphs" text-anchor="start" fill="#1a1a1a" stroke="#1a1a1a" stroke-width="0.12">10</text>
<text x="28.30" y="287.74" font-size="4.3" textLength="2.10" lengthAdjust="spacingAndGlyphs" text-anchor="start" fill="#1a1a1a" stroke="#1a1a1a" stroke-width="0.1">3</text>
<text x="20.90" y="301.92" font-size="6.4" textLength="7.20" lengthAdjust="spacingAndGlyphs" text-anchor="start" fill="#1a1a1a" stroke="#1a1a1a" stroke-width="0.12">10</text>
<text x="28.30" y="299.67" font-size="4.3" textLength="2.10" lengthAdjust="spacingAndGlyphs" text-anchor="start" fill="#1a1a1a" stroke="#1a1a1a" stroke-width="0.1">2</text>
<text x="21.10" y="313.85" font-size="6.4" textLength="7.30" lengthAdjust="spacingAndGlyphs" text-anchor="start" fill="#1a1a1a" stroke="#1a1a1a" stroke-width="0.12">10</text>
<text x="24.70" y="340.25" font-size="6.4" text-anchor="start" fill="#1a1a1a" stroke="#1a1a1a" stroke-width="0.12">1</text>
<text x="0" y="0" font-size="8.3" font-family="Liberation Sans, sans-serif" textLength="47.2" lengthAdjust="spacingAndGlyphs" text-anchor="middle" fill="#1a1a1a" stroke="#1a1a1a" stroke-width="0.35" transform="translate(14.3,299.90) rotate(-90)">S1 IgG (BAU/ml)</text>
<text x="30.10" y="11.50" font-size="6.4" font-weight="bold" textLength="54.60" lengthAdjust="spacingAndGlyphs" text-anchor="start" fill="#000" stroke="#000" stroke-width="0.12">Sickle cell disease</text>
<text x="179.00" y="11.30" font-size="6.4" font-weight="bold" textLength="31.50" lengthAdjust="spacingAndGlyphs" text-anchor="start" fill="#000" stroke="#000" stroke-width="0.12">Lymphoma</text>
<text x="306.40" y="11.60" font-size="6.4" font-weight="bold" textLength="91.30" lengthAdjust="spacingAndGlyphs" text-anchor="start" fill="#000" stroke="#000" stroke-width="0.12">Chronic lymphocytic leukaemia</text>
<text x="435.20" y="11.50" font-size="6.4" font-weight="bold" textLength="76.10" lengthAdjust="spacingAndGlyphs" text-anchor="start" fill="#000" stroke="#000" stroke-width="0.12">Chronic myeloid leukemia</text>
<text x="112.30" y="127.70" font-size="6.4" font-weight="bold" textLength="52.30" lengthAdjust="spacingAndGlyphs" text-anchor="start" fill="#000" stroke="#000" stroke-width="0.12">Multiple myeloma</text>
<text x="296.80" y="127.70" font-size="6.4" font-weight="bold" textLength="118.90" lengthAdjust="spacingAndGlyphs" text-anchor="start" fill="#000" stroke="#000" stroke-width="0.12">Acute myeloid leukaemia/high-risk MDS</text>
<text x="435.20" y="127.80" font-size="6.4" font-weight="bold" textLength="77.80" lengthAdjust="spacingAndGlyphs" text-anchor="start" fill="#000" stroke="#000" stroke-width="0.12">Myeloproliferative disease</text>
<text x="61.10" y="242.10" font-size="6.4" font-weight="bold" textLength="45.20" lengthAdjust="spacingAndGlyphs" text-anchor="start" fill="#000" stroke="#000" stroke-width="0.12">Allogeneic HCT</text>
<text x="173.40" y="242.30" font-size="6.4" font-weight="bold" textLength="54.10" lengthAdjust="spacingAndGlyphs" text-anchor="start" fill="#000" stroke="#000" stroke-width="0.12">CAR T-cell therapy</text>
<text x="41.30" y="19.00" font-size="6.3" textLength="31.10" lengthAdjust="spacingAndGlyphs" text-anchor="start" fill="#111" >Hydroxyurea</text>
<text x="126.00" y="18.50" font-size="6.3" textLength="25.80" lengthAdjust="spacingAndGlyphs" text-anchor="start" fill="#111" >Rituximab</text>
<text x="166.70" y="18.40" font-size="6.3" textLength="56.10" lengthAdjust="spacingAndGlyphs" text-anchor="start" fill="#111" >&lt;12mo after rituximab</text>
<text x="235.20" y="18.40" font-size="6.3" textLength="34.20" lengthAdjust="spacingAndGlyphs" text-anchor="start" fill="#111" >HCT (BEAM)</text>
<text x="310.00" y="18.80" font-size="6.3" textLength="35.40" lengthAdjust="spacingAndGlyphs" text-anchor="start" fill="#111" >Watch &amp; wait</text>
<text x="373.80" y="18.40" font-size="6.3" textLength="20.80" lengthAdjust="spacingAndGlyphs" text-anchor="start" fill="#111" >Ibrutinib</text>
<text x="468.90" y="18.80" font-size="6.3" textLength="7.50" lengthAdjust="spacingAndGlyphs" text-anchor="start" fill="#111" >TKI</text>
<text x="37.80" y="135.00" font-size="6.3" textLength="39.30" lengthAdjust="spacingAndGlyphs" text-anchor="start" fill="#111" >1st line therapy</text>
<text x="96.00" y="135.00" font-size="6.3" textLength="36.50" lengthAdjust="spacingAndGlyphs" text-anchor="start" fill="#111" >Daratumumab</text>
<text x="166.10" y="134.80" font-size="6.3" textLength="11.20" lengthAdjust="spacingAndGlyphs" text-anchor="start" fill="#111" >IMiD</text>
<text x="212.80" y="134.80" font-size="6.3" textLength="31.60" lengthAdjust="spacingAndGlyphs" text-anchor="start" fill="#111" >HCT (HDM)</text>
<text x="306.00" y="135.00" font-size="6.3" textLength="43.30" lengthAdjust="spacingAndGlyphs" text-anchor="start" fill="#111" >Hypomethylating</text>
<text x="353.00" y="135.00" font-size="6.3" textLength="65.50" lengthAdjust="spacingAndGlyphs" text-anchor="start" fill="#111" >High-dose chemotherapy</text>
<text x="459.80" y="134.80" font-size="6.3" textLength="26.40" lengthAdjust="spacingAndGlyphs" text-anchor="start" fill="#111" >Ruxolitinib</text>
<text x="42.60" y="248.70" font-size="6.3" textLength="29.10" lengthAdjust="spacingAndGlyphs" text-anchor="start" fill="#111" >&lt; 6 months</text>
<text x="104.90" y="248.70" font-size="6.3" textLength="21.10" lengthAdjust="spacingAndGlyphs" text-anchor="start" fill="#111" >cGvHD</text>
<rect x="0" y="0" width="520" height="1" fill="#000"/>
<rect x="0" y="0" width="1" height="356" fill="#000"/>
<rect x="518.9" y="0" width="1.1" height="356" fill="#000"/>
<rect x="0" y="354.2" width="520" height="1.8" fill="#000"/>
</svg>
</body></html>
